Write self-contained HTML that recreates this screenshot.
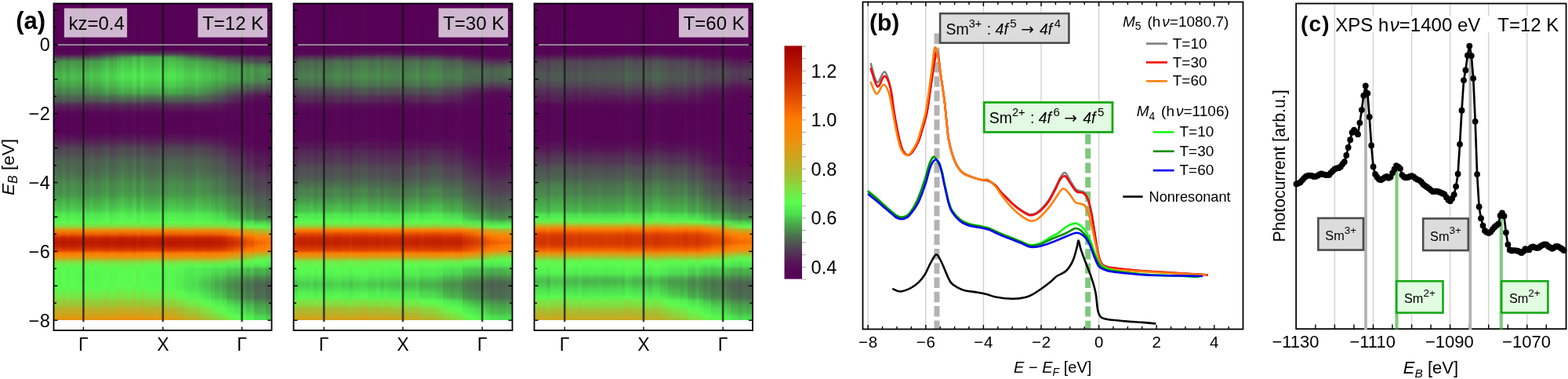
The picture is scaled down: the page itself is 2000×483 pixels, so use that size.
<!DOCTYPE html><html><head><meta charset="utf-8"><style>
html,body{margin:0;padding:0;background:#fff}body{width:2000px;height:483px;position:relative;overflow:hidden}
#hm div{position:absolute}
svg{position:absolute;left:0;top:0}
</style></head><body>
<div id="hm">
<div style="left:68.5px;top:4.5px;width:5.6px;height:403.9px;background:linear-gradient(#560156 0px,#560156 44px,#560256 48px,#560256 58px,#560856 64px,#523f55 68px,#498e4c 74px,#49954b 78px,#48a14a 84px,#49ae4b 88px,#4ab64c 94px,#49a94b 98px,#489c4b 104px,#4a8b4c 108px,#4b7b4e 114px,#4d6550 118px,#4f5452 124px,#542b56 128px,#551956 134px,#560956 138px,#560656 144px,#560456 148px,#560556 154px,#560556 158px,#560656 164px,#560f56 168px,#551c56 174px,#542b56 178px,#514254 184px,#504954 188px,#4f5153 194px,#4e5c51 198px,#4d6550 204px,#4c6750 208px,#4c6b50 214px,#4b744f 218px,#4b7d4e 224px,#4a864d 228px,#4a8c4c 234px,#498e4c 238px,#49974b 244px,#48a74a 248px,#4ab64c 254px,#4bbe4d 258px,#4cd24e 264px,#51e850 268px,#54f050 274px,#58f850 278px,#88d93e 284px,#e8930f 288px,#ec5900 294px,#c62600 298px,#bb1a00 304px,#c01f00 308px,#da3f00 314px,#ff7d00 318px,#db9d16 324px,#8ad73d 328px,#61f84d 334px,#59fb50 338px,#58f850 344px,#58f950 348px,#59fa50 354px,#59fb50 358px,#5efa4e 364px,#6eed48 368px,#78e644 374px,#91d03a 378px,#9dc635 384px,#b9b228 388px,#c8a920 394px,#da9e17 398px,#ee8f0c 404px)"></div>
<div style="left:73.5px;top:4.5px;width:5.6px;height:403.9px;background:linear-gradient(#560056 0px,#560056 28px,#560156 34px,#560156 58px,#560856 64px,#523d55 68px,#4a8c4c 74px,#49934c 78px,#489e4a 84px,#49ab4b 88px,#4ab24c 94px,#48a64a 98px,#499a4b 104px,#4a894d 108px,#4b784e 114px,#4d6251 118px,#4f5153 124px,#542856 128px,#551756 134px,#560856 138px,#560556 144px,#560356 148px,#560456 154px,#560456 158px,#560556 164px,#560d56 168px,#551a56 174px,#542856 178px,#524055 184px,#514654 188px,#504e53 194px,#4e5a52 198px,#4d6251 204px,#4d6451 208px,#4c6850 214px,#4c704f 218px,#4b7a4e 224px,#4a824d 228px,#4a884d 234px,#4a8a4c 238px,#49944c 244px,#48a34a 248px,#4ab24c 254px,#4aba4c 258px,#4cce4e 264px,#50e650 268px,#53ee50 274px,#57f750 278px,#86db3e 284px,#e79410 288px,#ec5a00 294px,#c72700 298px,#bc1b00 304px,#c12000 308px,#db4100 314px,#fe7e00 318px,#da9e17 324px,#88d93e 328px,#5ff94e 334px,#58f950 338px,#57f650 344px,#57f750 348px,#58f850 354px,#58f950 358px,#5cfb4f 364px,#6cef49 368px,#76e845 374px,#8fd23a 378px,#9bc836 384px,#b7b328 388px,#c6aa21 394px,#d89f18 398px,#ed900d 404px)"></div>
<div style="left:78.5px;top:4.5px;width:5.6px;height:403.9px;background:linear-gradient(#560256 0px,#560256 24px,#560356 28px,#560356 58px,#560b56 64px,#514554 68px,#49984b 74px,#489e4a 78px,#49aa4b 84px,#4ab84c 88px,#4bbf4d 94px,#4ab34c 98px,#48a54a 104px,#49944b 108px,#4a834d 114px,#4c6b50 118px,#4e5952 124px,#532f55 128px,#551c56 134px,#560a56 138px,#560756 144px,#560556 148px,#560656 154px,#560656 158px,#560756 164px,#561356 168px,#552056 174px,#533055 178px,#514754 184px,#504e53 188px,#4f5652 194px,#4d6151 198px,#4c6a50 204px,#4c6d50 208px,#4b724f 214px,#4b7a4e 218px,#4a844d 224px,#498d4c 228px,#49934c 234px,#49954b 238px,#489e4a 244px,#49ae4b 248px,#4bbe4d 254px,#4bc54d 258px,#4dd94f 264px,#52ec50 268px,#56f450 274px,#5afc50 278px,#8bd63c 284px,#ea920e 288px,#ea5500 294px,#c42400 298px,#b91800 304px,#be1d00 308px,#d83c00 314px,#fd7a00 318px,#de9b15 324px,#8dd43b 328px,#65f44b 334px,#5cfb4f 338px,#59fc50 344px,#5afd50 348px,#5bfc50 354px,#5cfc4f 358px,#63f64d 364px,#73ea46 368px,#7ce342 374px,#95cd38 378px,#a1c333 384px,#bcb026 388px,#cba71f 394px,#dc9c16 398px,#f18d0b 404px)"></div>
<div style="left:83.5px;top:4.5px;width:5.6px;height:403.9px;background:linear-gradient(#560056 0px,#560056 48px,#560156 54px,#560156 58px,#560956 64px,#523e55 68px,#498e4c 74px,#49944c 78px,#489f4a 84px,#49ac4b 88px,#4ab34c 94px,#48a74a 98px,#499a4b 104px,#4a894d 108px,#4b794e 114px,#4d6251 118px,#505053 124px,#542756 128px,#551656 134px,#560856 138px,#560556 144px,#560356 148px,#560356 154px,#560456 158px,#560556 164px,#560c56 168px,#551956 174px,#542756 178px,#523e55 184px,#514554 188px,#504d53 194px,#4e5852 198px,#4d6151 204px,#4d6351 208px,#4c6750 214px,#4c6e4f 218px,#4b784e 224px,#4a814d 228px,#4a874d 234px,#4a894d 238px,#49924c 244px,#48a14a 248px,#49b14b 254px,#4ab84c 258px,#4ccc4e 264px,#50e550 268px,#53ed50 274px,#57f650 278px,#85db3f 284px,#e69510 288px,#ed5b00 294px,#c82800 298px,#bc1b00 304px,#c12000 308px,#dc4100 314px,#fe7e01 318px,#d99e17 324px,#87da3e 328px,#5efa4f 334px,#58f950 338px,#57f550 344px,#57f650 348px,#58f850 354px,#58f850 358px,#5bfc50 364px,#6bf049 368px,#75e845 374px,#8ed33b 378px,#9ac936 384px,#b6b429 388px,#c5ab21 394px,#d89f18 398px,#ec900d 404px)"></div>
<div style="left:88.5px;top:4.5px;width:5.6px;height:403.9px;background:linear-gradient(#560156 0px,#560256 4px,#560256 48px,#560356 54px,#560356 58px,#560c56 64px,#514754 68px,#49994b 74px,#489f4a 78px,#49ab4b 84px,#4ab84c 88px,#4bbf4d 94px,#4ab34c 98px,#48a64a 104px,#49944b 108px,#4a834d 114px,#4c6a50 118px,#4f5752 124px,#542e56 128px,#551b56 134px,#560a56 138px,#560756 144px,#560556 148px,#560556 154px,#560656 158px,#560756 164px,#561156 168px,#551f56 174px,#532e55 178px,#514654 184px,#504c53 188px,#4f5452 194px,#4d6051 198px,#4c6850 204px,#4c6a50 208px,#4c6f4f 214px,#4b784e 218px,#4a824d 224px,#4a8a4c 228px,#49904c 234px,#49924c 238px,#489c4b 244px,#49ab4b 248px,#4abb4c 254px,#4bc34d 258px,#4dd74f 264px,#52ea50 268px,#55f250 274px,#59fb50 278px,#8ad73d 284px,#e9920f 288px,#ea5700 294px,#c52500 298px,#ba1800 304px,#be1d00 308px,#d93d00 314px,#fe7b00 318px,#dd9c15 324px,#8cd53c 328px,#64f54c 334px,#5bfc50 338px,#59fa50 344px,#59fb50 348px,#5afd50 354px,#5afd50 358px,#61f74d 364px,#71eb47 368px,#7be443 374px,#94ce39 378px,#9fc434 384px,#bbb127 388px,#caa81f 394px,#db9d16 398px,#f08e0b 404px)"></div>
<div style="left:93.5px;top:4.5px;width:5.6px;height:403.9px;background:linear-gradient(#560156 0px,#560156 34px,#560256 38px,#560256 58px,#560c56 64px,#514654 68px,#49984b 74px,#489d4b 78px,#49a94b 84px,#4ab64c 88px,#4bbd4d 94px,#49b14b 98px,#48a34a 104px,#49924c 108px,#4a814d 114px,#4c6750 118px,#4f5452 124px,#542b56 128px,#551956 134px,#560956 138px,#560656 144px,#560456 148px,#560556 154px,#560556 158px,#560656 164px,#560f56 168px,#551d56 174px,#542c56 178px,#514354 184px,#504a54 188px,#4f5253 194px,#4e5d51 198px,#4c6550 204px,#4c6750 208px,#4c6c50 214px,#4b744f 218px,#4b7e4e 224px,#4a874d 228px,#498d4c 234px,#498f4c 238px,#49984b 244px,#49a84b 248px,#4ab74c 254px,#4bbf4d 258px,#4dd34f 264px,#51e950 268px,#55f150 274px,#58f950 278px,#88d83d 284px,#e8930f 288px,#eb5800 294px,#c62600 298px,#bb1900 304px,#bf1e00 308px,#da3f00 314px,#ff7c00 318px,#db9d16 324px,#8ad73d 328px,#62f74d 334px,#59fc50 338px,#58f950 344px,#58f950 348px,#59fb50 354px,#59fc50 358px,#5ff94e 364px,#6fed48 368px,#78e544 374px,#92d039 378px,#9dc635 384px,#b9b227 388px,#c8a920 394px,#da9d17 398px,#ef8f0c 404px)"></div>
<div style="left:98.5px;top:4.5px;width:5.6px;height:403.9px;background:linear-gradient(#560056 0px,#560056 58px,#560c56 64px,#514454 68px,#49934c 74px,#49984b 78px,#48a44a 84px,#49b14b 88px,#4ab84c 94px,#49ab4b 98px,#489e4a 104px,#498d4c 108px,#4b7d4e 114px,#4d6351 118px,#505053 124px,#542756 128px,#551656 134px,#560856 138px,#560556 144px,#560356 148px,#560356 154px,#560456 158px,#560556 164px,#560c56 168px,#551956 174px,#542756 178px,#523e55 184px,#514554 188px,#504d53 194px,#4e5852 198px,#4d6151 204px,#4d6351 208px,#4c6650 214px,#4c6e4f 218px,#4b784e 224px,#4a814e 228px,#4a864d 234px,#4a894d 238px,#49924c 244px,#48a14a 248px,#49b04b 254px,#4ab84c 258px,#4ccc4e 264px,#4fe550 268px,#53ed50 274px,#57f650 278px,#85dc3f 284px,#e69511 288px,#ed5b00 294px,#c82800 298px,#bd1b00 304px,#c12000 308px,#dc4100 314px,#fe7e01 318px,#d99e17 324px,#87da3e 328px,#5efa4f 334px,#58f850 338px,#57f550 344px,#57f650 348px,#57f750 354px,#58f850 358px,#5bfc50 364px,#6bf049 368px,#74e945 374px,#8ed33b 378px,#9ac936 384px,#b6b429 388px,#c5ab21 394px,#d89f18 398px,#ec900d 404px)"></div>
<div style="left:103.5px;top:4.5px;width:5.6px;height:403.9px;background:linear-gradient(#560156 0px,#560156 8px,#560256 14px,#560256 58px,#561356 64px,#504e53 68px,#489e4a 74px,#48a44a 78px,#49b04b 84px,#4bbd4d 88px,#4bc44d 94px,#4ab84c 98px,#49aa4b 104px,#49984b 108px,#4a884d 114px,#4c6c50 118px,#4f5752 124px,#542d56 128px,#551b56 134px,#560a56 138px,#560756 144px,#560556 148px,#560556 154px,#560656 158px,#560756 164px,#561156 168px,#551e56 174px,#542e56 178px,#514554 184px,#504c53 188px,#4f5452 194px,#4d5f51 198px,#4c6850 204px,#4c6a50 208px,#4c6f4f 214px,#4b774e 218px,#4a814d 224px,#4a8a4d 228px,#49904c 234px,#49924c 238px,#489b4b 244px,#49ab4b 248px,#4abb4c 254px,#4bc24d 258px,#4dd64f 264px,#52ea50 268px,#55f250 274px,#59fa50 278px,#8ad73d 284px,#e9920f 288px,#eb5700 294px,#c52500 298px,#ba1900 304px,#bf1e00 308px,#d93e00 314px,#fe7b00 318px,#dc9c16 324px,#8cd53c 328px,#63f64c 334px,#5afd50 338px,#59fa50 344px,#59fb50 348px,#5afc50 354px,#5afd50 358px,#61f84d 364px,#71eb47 368px,#7ae443 374px,#93ce39 378px,#9fc434 384px,#bbb127 388px,#caa81f 394px,#db9d16 398px,#f08e0b 404px)"></div>
<div style="left:108.5px;top:4.5px;width:5.6px;height:403.9px;background:linear-gradient(#560056 0px,#560056 58px,#561156 64px,#504a54 68px,#49974b 74px,#489c4b 78px,#49a84b 84px,#4ab54c 88px,#4abb4c 94px,#49af4b 98px,#48a24a 104px,#49914c 108px,#4a804e 114px,#4d6451 118px,#504f53 124px,#542756 128px,#551656 134px,#560856 138px,#560556 144px,#560356 148px,#560356 154px,#560456 158px,#560456 164px,#560c56 168px,#551956 174px,#542756 178px,#523e55 184px,#514554 188px,#504d53 194px,#4e5852 198px,#4d6051 204px,#4d6251 208px,#4c6650 214px,#4c6e50 218px,#4b774e 224px,#4a804e 228px,#4a864d 234px,#4a884d 238px,#49914c 244px,#48a04a 248px,#49b04b 254px,#4ab74c 258px,#4ccb4e 264px,#4fe550 268px,#53ed50 274px,#57f550 278px,#84dc3f 284px,#e69511 288px,#ed5b00 294px,#c82800 298px,#bd1b00 304px,#c12100 308px,#dc4200 314px,#fe7e01 318px,#d99e17 324px,#86da3e 328px,#5dfa4f 334px,#58f850 338px,#56f550 344px,#57f650 348px,#57f750 354px,#58f850 358px,#5bfc50 364px,#6bf049 368px,#74e946 374px,#8ed33b 378px,#9ac936 384px,#b6b429 388px,#c5ab22 394px,#d89f18 398px,#ec900d 404px)"></div>
<div style="left:113.5px;top:4.5px;width:5.6px;height:403.9px;background:linear-gradient(#560156 0px,#560156 18px,#560256 24px,#560256 58px,#551956 64px,#4f5452 68px,#48a14a 74px,#48a74a 78px,#4ab44c 84px,#4bc04d 88px,#4bc74d 94px,#4abb4c 98px,#49ad4b 104px,#489b4b 108px,#4a8a4d 114px,#4c6c50 118px,#4f5552 124px,#542c56 128px,#551a56 134px,#560956 138px,#560656 144px,#560556 148px,#560556 154px,#560656 158px,#560656 164px,#561056 168px,#551d56 174px,#542d56 178px,#514454 184px,#504b54 188px,#4f5353 194px,#4e5e51 198px,#4c6650 204px,#4c6850 208px,#4c6d50 214px,#4b764f 218px,#4a7f4e 224px,#4a884d 228px,#498e4c 234px,#49904c 238px,#49994b 244px,#49a94b 248px,#4ab94c 254px,#4bc04d 258px,#4dd44f 264px,#51e950 268px,#55f150 274px,#58fa50 278px,#89d83d 284px,#e9930f 288px,#eb5800 294px,#c62500 298px,#ba1900 304px,#bf1e00 308px,#d93e00 314px,#fe7c00 318px,#dc9c16 324px,#8bd63c 328px,#62f64d 334px,#5afd50 338px,#58f950 344px,#59fa50 348px,#59fb50 354px,#5afc50 358px,#60f84e 364px,#70ec47 368px,#79e543 374px,#93cf39 378px,#9ec534 384px,#bab127 388px,#c9a920 394px,#db9d16 398px,#ef8e0c 404px)"></div>
<div style="left:118.5px;top:4.5px;width:5.6px;height:403.9px;background:linear-gradient(#560056 0px,#560056 48px,#560156 54px,#560156 58px,#551956 64px,#4f5353 68px,#489c4b 74px,#48a24a 78px,#49ae4b 84px,#4aba4c 88px,#4bc14d 94px,#4ab54c 98px,#48a74a 104px,#49964b 108px,#4a854d 114px,#4c6650 118px,#505053 124px,#542756 128px,#551656 134px,#560856 138px,#560556 144px,#560356 148px,#560356 154px,#560456 158px,#560556 164px,#560c56 168px,#551956 174px,#542756 178px,#523e55 184px,#514554 188px,#504d53 194px,#4e5852 198px,#4d6151 204px,#4d6351 208px,#4c6750 214px,#4c6e4f 218px,#4b784e 224px,#4a814d 228px,#4a874d 234px,#4a894d 238px,#49924c 244px,#48a14a 248px,#49b04b 254px,#4ab84c 258px,#4ccc4e 264px,#50e550 268px,#53ed50 274px,#57f650 278px,#85db3f 284px,#e69510 288px,#ed5b00 294px,#c82800 298px,#bc1b00 304px,#c12000 308px,#dc4100 314px,#fe7e01 318px,#d99e17 324px,#87da3e 328px,#5efa4f 334px,#58f950 338px,#57f550 344px,#57f650 348px,#58f750 354px,#58f850 358px,#5bfc50 364px,#6bf049 368px,#75e845 374px,#8ed33b 378px,#9ac936 384px,#b6b429 388px,#c5ab21 394px,#d89f18 398px,#ec900d 404px)"></div>
<div style="left:123.5px;top:4.5px;width:5.6px;height:403.9px;background:linear-gradient(#560056 0px,#560056 44px,#560156 48px,#560156 58px,#551d56 64px,#4e5952 68px,#489f4a 74px,#48a54a 78px,#49b24b 84px,#4bbe4d 88px,#4bc44d 94px,#4ab84c 98px,#49aa4b 104px,#49984b 108px,#4a884d 114px,#4c6850 118px,#4f5053 124px,#542756 128px,#551656 134px,#560856 138px,#560556 144px,#560356 148px,#560456 154px,#560456 158px,#560556 164px,#560c56 168px,#551a56 174px,#542856 178px,#523f55 184px,#514654 188px,#504d53 194px,#4e5952 198px,#4d6151 204px,#4d6351 208px,#4c6750 214px,#4c6f4f 218px,#4b784e 224px,#4a814d 228px,#4a874d 234px,#4a894d 238px,#49924c 244px,#48a14a 248px,#49b14b 254px,#4ab94c 258px,#4ccc4e 264px,#50e650 268px,#53ee50 274px,#57f650 278px,#85db3f 284px,#e69510 288px,#ed5b00 294px,#c82700 298px,#bc1b00 304px,#c12000 308px,#dc4100 314px,#fe7e01 318px,#d99e17 324px,#87da3e 328px,#5efa4e 334px,#58f950 338px,#57f650 344px,#57f650 348px,#58f850 354px,#58f950 358px,#5bfc4f 364px,#6bf049 368px,#75e845 374px,#8fd33b 378px,#9ac836 384px,#b6b329 388px,#c5ab21 394px,#d89f18 398px,#ec900d 404px)"></div>
<div style="left:128.5px;top:4.5px;width:5.6px;height:403.9px;background:linear-gradient(#560156 0px,#560156 24px,#560256 28px,#560256 58px,#542756 64px,#4d6451 68px,#49a94b 74px,#49b04b 78px,#4abc4c 84px,#4cc84e 88px,#4ccf4e 94px,#4bc24d 98px,#4ab54c 104px,#48a24a 108px,#49914c 114px,#4c6f4f 118px,#4f5552 124px,#542c56 128px,#551a56 134px,#560956 138px,#560656 144px,#560556 148px,#560556 158px,#560656 164px,#561056 168px,#551d56 174px,#542c56 178px,#514454 184px,#504b54 188px,#4f5353 194px,#4e5e51 198px,#4c6650 204px,#4c6850 208px,#4c6d50 214px,#4b764f 218px,#4a7f4e 224px,#4a884d 228px,#498e4c 234px,#49904c 238px,#49994b 244px,#49a94b 248px,#4ab94c 254px,#4bc04d 258px,#4dd44f 264px,#51e950 268px,#55f150 274px,#58f950 278px,#89d83d 284px,#e9930f 288px,#eb5800 294px,#c62500 298px,#ba1900 304px,#bf1e00 308px,#d93e00 314px,#fe7c00 318px,#dc9c16 324px,#8bd63c 328px,#62f74d 334px,#5afc50 338px,#58f950 344px,#59fa50 348px,#59fb50 354px,#5afc50 358px,#60f94e 364px,#70ec47 368px,#79e544 374px,#92cf39 378px,#9ec534 384px,#bab227 388px,#c9a920 394px,#db9d16 398px,#ef8e0c 404px)"></div>
<div style="left:133.5px;top:4.5px;width:5.6px;height:403.9px;background:linear-gradient(#560356 0px,#560356 34px,#560456 38px,#560456 58px,#533155 64px,#4b734f 68px,#4ab54c 74px,#4abc4c 78px,#4cc94e 84px,#4dd44f 88px,#4ddb4f 94px,#4cce4e 98px,#4bc14d 104px,#49ae4b 108px,#489c4b 114px,#4b784e 118px,#4e5c52 124px,#533255 128px,#551e56 134px,#560b56 138px,#560856 144px,#560656 148px,#560756 154px,#560756 158px,#560856 164px,#561456 168px,#552356 174px,#533255 178px,#504a54 184px,#4f5153 188px,#4e5952 194px,#4d6451 198px,#4c6e50 204px,#4b704f 208px,#4b754f 214px,#4b7e4e 218px,#4a884d 224px,#49904c 228px,#49964b 234px,#49984b 238px,#48a24a 244px,#4ab24c 248px,#4bc24d 254px,#4cc94e 258px,#4edd50 264px,#53ee50 268px,#57f650 274px,#5bfc50 278px,#8dd43b 284px,#ec910d 288px,#e95400 294px,#c32300 298px,#b81700 304px,#bd1c00 308px,#d73b00 314px,#fc7800 318px,#df9a14 324px,#8fd23a 328px,#68f24b 334px,#5ff94e 338px,#5bfc50 344px,#5cfc4f 348px,#5dfb4f 354px,#5efa4e 358px,#65f44c 364px,#75e845 368px,#7ee141 374px,#97cb37 378px,#a3c132 384px,#beaf25 388px,#cda61e 394px,#de9b15 398px,#f28c0a 404px)"></div>
<div style="left:138.5px;top:4.5px;width:5.6px;height:403.9px;background:linear-gradient(#560056 0px,#560056 34px,#560156 38px,#560156 58px,#542b56 64px,#4c6d50 68px,#49a84b 74px,#49af4b 78px,#4abc4c 84px,#4bc74d 88px,#4ccd4e 94px,#4bc14d 98px,#4ab34c 104px,#48a14a 108px,#49904c 114px,#4c6b50 118px,#4f5153 124px,#542856 128px,#551656 134px,#560856 138px,#560556 144px,#560356 148px,#560456 154px,#560456 158px,#560556 164px,#560d56 168px,#551a56 174px,#542856 178px,#523f55 184px,#514654 188px,#504e53 194px,#4e5952 198px,#4d6251 204px,#4d6451 208px,#4c6850 214px,#4c6f4f 218px,#4b794e 224px,#4a824d 228px,#4a884d 234px,#4a8a4d 238px,#49934c 244px,#48a24a 248px,#49b24b 254px,#4ab94c 258px,#4ccd4e 264px,#50e650 268px,#53ee50 274px,#57f650 278px,#85db3f 284px,#e69510 288px,#ed5b00 294px,#c82700 298px,#bc1b00 304px,#c12000 308px,#db4100 314px,#fe7e00 318px,#d99e17 324px,#87d93e 328px,#5efa4e 334px,#58f950 338px,#57f650 344px,#57f750 348px,#58f850 354px,#58f950 358px,#5cfc4f 364px,#6cef49 368px,#75e845 374px,#8fd23b 378px,#9ac836 384px,#b7b329 388px,#c6aa21 394px,#d89f18 398px,#ed900d 404px)"></div>
<div style="left:143.5px;top:4.5px;width:5.6px;height:403.9px;background:linear-gradient(#560056 0px,#560056 14px,#560156 18px,#560156 58px,#533155 64px,#4b784e 68px,#49ad4b 74px,#4ab54c 78px,#4bc14d 84px,#4ccc4e 88px,#4dd24f 94px,#4bc64d 98px,#4ab84c 104px,#48a54a 108px,#49944b 114px,#4c6e4f 118px,#4f5253 124px,#542956 128px,#551856 134px,#560856 138px,#560556 144px,#560456 148px,#560456 154px,#560556 158px,#560556 164px,#560e56 168px,#551b56 174px,#542a56 178px,#524155 184px,#514854 188px,#504f53 194px,#4e5b52 198px,#4d6351 204px,#4d6550 208px,#4c6950 214px,#4b714f 218px,#4b7b4e 224px,#4a844d 228px,#4a8a4d 234px,#4a8c4c 238px,#49954b 244px,#48a44a 248px,#4ab44c 254px,#4abc4c 258px,#4cd04e 264px,#50e750 268px,#54ef50 274px,#57f750 278px,#87da3e 284px,#e79410 288px,#ec5a00 294px,#c72700 298px,#bc1a00 304px,#c01f00 308px,#db4000 314px,#ff7d00 318px,#da9d17 324px,#88d83d 328px,#60f94e 334px,#59fa50 338px,#57f750 344px,#58f850 348px,#58f950 354px,#59fa50 358px,#5dfb4f 364px,#6dee48 368px,#77e745 374px,#90d13a 378px,#9cc735 384px,#b8b328 388px,#c7aa21 394px,#d99e17 398px,#ed8f0c 404px)"></div>
<div style="left:148.5px;top:4.5px;width:5.6px;height:403.9px;background:linear-gradient(#560256 0px,#560256 28px,#560356 34px,#560356 58px,#523a55 64px,#4a894d 68px,#4ab94c 74px,#4bc14d 78px,#4ccd4e 84px,#4dd84f 88px,#4ede50 94px,#4cd24e 98px,#4bc44d 104px,#49b14b 108px,#489f4a 114px,#4b784e 118px,#4e5852 124px,#532f55 128px,#551c56 134px,#560a56 138px,#560756 144px,#560556 148px,#560656 154px,#560656 158px,#560756 164px,#561256 168px,#552056 174px,#532f55 178px,#514754 184px,#504e53 188px,#4f5652 194px,#4d6151 198px,#4c6a50 204px,#4c6c50 208px,#4b714f 214px,#4b7a4e 218px,#4a834d 224px,#4a8c4c 228px,#49924c 234px,#49944b 238px,#489d4a 244px,#49ae4b 248px,#4bbd4d 254px,#4bc54d 258px,#4dd94f 264px,#52eb50 268px,#56f350 274px,#59fc50 278px,#8bd63c 284px,#ea920e 288px,#ea5600 294px,#c52400 298px,#b91800 304px,#be1d00 308px,#d83d00 314px,#fd7a00 318px,#dd9b15 324px,#8dd43b 328px,#65f44c 334px,#5cfb4f 338px,#59fb50 344px,#5afc50 348px,#5bfd50 354px,#5cfc4f 358px,#62f64d 364px,#72ea46 368px,#7ce342 374px,#95cd38 378px,#a0c333 384px,#bcb026 388px,#cba71f 394px,#dc9c16 398px,#f18d0b 404px)"></div>
<div style="left:153.5px;top:4.5px;width:5.6px;height:403.9px;background:linear-gradient(#560356 0px,#560356 8px,#560456 14px,#560456 54px,#560556 58px,#524155 64px,#49984b 68px,#4bc34d 74px,#4ccc4e 78px,#4dd74f 84px,#4ee250 88px,#4fe550 94px,#4ddc4f 98px,#4cce4e 104px,#4abb4c 108px,#49a84b 114px,#4a804e 118px,#4e5d51 124px,#533455 128px,#552056 134px,#560c56 138px,#560956 144px,#560756 148px,#560756 154px,#560856 158px,#560856 164px,#551656 168px,#542556 174px,#533455 178px,#504c53 184px,#4f5353 188px,#4e5b52 194px,#4c6650 198px,#4b704f 204px,#4b734f 208px,#4b784e 214px,#4a804e 218px,#4a8a4d 224px,#49934c 228px,#49994b 234px,#499b4b 238px,#48a44a 244px,#4ab54c 248px,#4bc54d 254px,#4ccc4e 258px,#4ee050 264px,#54ef50 268px,#57f750 274px,#5dfb4f 278px,#8fd33b 284px,#ed900d 288px,#e85300 294px,#c32200 298px,#b71600 304px,#bc1b00 308px,#d63a00 314px,#fc7700 318px,#e09914 324px,#91d13a 328px,#69f14a 334px,#60f84e 338px,#5cfb4f 344px,#5dfa4f 348px,#5ff94e 354px,#60f94e 358px,#67f34b 364px,#76e745 368px,#80e041 374px,#98ca37 378px,#a4c032 384px,#bfae25 388px,#cea61d 394px,#df9a14 398px,#f28b0a 404px)"></div>
<div style="left:158.5px;top:4.5px;width:5.6px;height:403.9px;background:linear-gradient(#560256 0px,#560256 34px,#560356 38px,#560356 54px,#560456 58px,#523d55 64px,#49984b 68px,#4bbd4d 74px,#4bc64d 78px,#4cd24e 84px,#4ddc4f 88px,#4ee250 94px,#4dd64f 98px,#4cc84e 104px,#4ab54c 108px,#48a24a 114px,#4b794e 118px,#4e5852 124px,#532e55 128px,#551b56 134px,#560a56 138px,#560756 144px,#560556 148px,#560656 154px,#560656 158px,#560756 164px,#561256 168px,#551f56 174px,#532f55 178px,#514654 184px,#504d53 188px,#4f5552 194px,#4d6051 198px,#4c6950 204px,#4c6b50 208px,#4b704f 214px,#4b794e 218px,#4a824d 224px,#4a8b4c 228px,#49914c 234px,#49934c 238px,#489c4b 244px,#49ac4b 248px,#4abc4c 254px,#4bc44d 258px,#4dd84f 264px,#52eb50 268px,#56f350 274px,#59fb50 278px,#8bd63c 284px,#ea920e 288px,#ea5600 294px,#c52400 298px,#ba1800 304px,#be1d00 308px,#d83d00 314px,#fe7a00 318px,#dd9b15 324px,#8dd53c 328px,#64f54c 334px,#5bfc4f 338px,#59fb50 344px,#59fc50 348px,#5afd50 354px,#5bfc50 358px,#62f74d 364px,#72eb47 368px,#7be343 374px,#94ce38 378px,#a0c334 384px,#bbb126 388px,#caa81f 394px,#dc9c16 398px,#f08d0b 404px)"></div>
<div style="left:163.5px;top:4.5px;width:5.6px;height:403.9px;background:linear-gradient(#560156 0px,#560156 24px,#560256 28px,#560256 54px,#560356 58px,#523c55 64px,#489b4b 68px,#4abb4c 74px,#4bc44d 78px,#4cd04e 84px,#4ddb4f 88px,#4ee050 94px,#4dd44f 98px,#4bc64d 104px,#4ab34c 108px,#48a04a 114px,#4b764f 118px,#4f5552 124px,#542c56 128px,#551956 134px,#560956 138px,#560656 144px,#560456 148px,#560556 154px,#560556 158px,#560656 164px,#561056 168px,#551d56 174px,#542c56 178px,#514354 184px,#504a54 188px,#4f5253 194px,#4e5d51 198px,#4c6650 204px,#4c6850 208px,#4c6d50 214px,#4b754f 218px,#4a7f4e 224px,#4a874d 228px,#498d4c 234px,#498f4c 238px,#49994b 244px,#49a84b 248px,#4ab84c 254px,#4bc04d 258px,#4dd44f 264px,#51e950 268px,#55f150 274px,#58f950 278px,#89d83d 284px,#e8930f 288px,#eb5800 294px,#c62600 298px,#bb1900 304px,#bf1e00 308px,#da3e00 314px,#ff7c00 318px,#dc9c16 324px,#8ad63c 328px,#62f74d 334px,#5afc50 338px,#58f950 344px,#59fa50 348px,#59fb50 354px,#59fc50 358px,#5ff94e 364px,#6fed47 368px,#79e544 374px,#92d039 378px,#9ec534 384px,#b9b227 388px,#c8a920 394px,#da9d17 398px,#ef8e0c 404px)"></div>
<div style="left:168.5px;top:4.5px;width:5.6px;height:403.9px;background:linear-gradient(#560356 0px,#560356 4px,#560456 8px,#560456 54px,#560656 58px,#514554 64px,#49ae4b 68px,#4ccb4e 74px,#4dd34f 78px,#4edf50 84px,#50e650 88px,#51e850 94px,#4ee250 98px,#4dd54f 104px,#4bc24d 108px,#49b04b 114px,#4a834d 118px,#4e5e51 124px,#533455 128px,#552056 134px,#560c56 138px,#560956 144px,#560756 148px,#560756 154px,#560856 158px,#560956 164px,#551656 168px,#542556 174px,#533455 178px,#504c53 184px,#4f5353 188px,#4e5b52 194px,#4c6650 198px,#4b714f 204px,#4b734f 208px,#4b794e 214px,#4a814d 218px,#4a8b4c 224px,#49934c 228px,#49994b 234px,#489b4b 238px,#48a54a 244px,#4ab64c 248px,#4bc54d 254px,#4ccd4e 258px,#4ee150 264px,#54ef50 268px,#57f750 274px,#5dfb4f 278px,#8fd23a 284px,#ed900d 288px,#e85200 294px,#c32200 298px,#b71600 304px,#bc1b00 308px,#d63a00 314px,#fc7600 318px,#e09914 324px,#91d13a 328px,#6af14a 334px,#61f84d 338px,#5dfb4f 344px,#5efa4f 348px,#5ff94e 354px,#60f84e 358px,#67f34b 364px,#77e744 368px,#80df41 374px,#99ca36 378px,#a4bf32 384px,#bfae24 388px,#cea51d 394px,#df9a14 398px,#f38b0a 404px)"></div>
<div style="left:173.5px;top:4.5px;width:5.6px;height:403.9px;background:linear-gradient(#560056 0px,#560056 54px,#560356 58px,#533755 64px,#489f4a 68px,#4ab74c 74px,#4bc04d 78px,#4ccb4e 84px,#4dd64f 88px,#4ddb4f 94px,#4ccf4e 98px,#4bc24d 104px,#49af4b 108px,#489c4b 114px,#4b704f 118px,#505053 124px,#542756 128px,#551656 134px,#560856 138px,#560556 144px,#560356 148px,#560356 154px,#560456 158px,#560556 164px,#560c56 168px,#551956 174px,#542756 178px,#523e55 184px,#514554 188px,#504d53 194px,#4e5852 198px,#4d6151 204px,#4d6251 208px,#4c6650 214px,#4c6e4f 218px,#4b774e 224px,#4a804e 228px,#4a864d 234px,#4a884d 238px,#49924c 244px,#48a04a 248px,#49b04b 254px,#4ab84c 258px,#4ccb4e 264px,#4fe550 268px,#53ed50 274px,#57f550 278px,#85dc3f 284px,#e69511 288px,#ed5b00 294px,#c82800 298px,#bd1b00 304px,#c12000 308px,#dc4100 314px,#fe7e01 318px,#d99e17 324px,#86da3e 328px,#5dfa4f 334px,#58f850 338px,#57f550 344px,#57f650 348px,#57f750 354px,#58f850 358px,#5bfc50 364px,#6bf049 368px,#74e945 374px,#8ed33b 378px,#9ac936 384px,#b6b429 388px,#c5ab21 394px,#d89f18 398px,#ec900d 404px)"></div>
<div style="left:178.5px;top:4.5px;width:5.6px;height:403.9px;background:linear-gradient(#560356 0px,#560356 24px,#560456 28px,#560456 54px,#560756 58px,#514454 64px,#4ab54c 68px,#4ccb4e 74px,#4dd44f 78px,#4ee050 84px,#50e650 88px,#51e850 94px,#4ee250 98px,#4dd64f 104px,#4bc24d 108px,#49b04b 114px,#4a824d 118px,#4e5c52 124px,#533255 128px,#551e56 134px,#560b56 138px,#560856 144px,#560656 148px,#560756 154px,#560756 158px,#560856 164px,#561556 168px,#552356 174px,#533355 178px,#504b54 184px,#4f5153 188px,#4e5952 194px,#4d6551 198px,#4c6e4f 204px,#4b714f 208px,#4b764f 214px,#4a7f4e 218px,#4a884d 224px,#49914c 228px,#49974b 234px,#49994b 238px,#48a24a 244px,#4ab34c 248px,#4bc34d 254px,#4cca4e 258px,#4ede50 264px,#53ee50 268px,#57f650 274px,#5bfc4f 278px,#8ed33b 284px,#ec900d 288px,#e95300 294px,#c32300 298px,#b81600 304px,#bd1b00 308px,#d73b00 314px,#fc7800 318px,#df9a14 324px,#90d23a 328px,#68f24a 334px,#5ff94e 338px,#5bfc50 344px,#5cfb4f 348px,#5efa4f 354px,#5ff94e 358px,#65f44b 364px,#75e845 368px,#7fe041 374px,#97cb37 378px,#a3c132 384px,#beaf25 388px,#cda61d 394px,#de9b15 398px,#f28c0a 404px)"></div>
<div style="left:183.5px;top:4.5px;width:5.6px;height:403.9px;background:linear-gradient(#560056 0px,#560056 4px,#560156 8px,#560156 54px,#560556 58px,#523b55 64px,#49aa4b 68px,#4bbf4d 74px,#4cc84e 78px,#4dd34f 84px,#4ede50 88px,#4ee250 94px,#4dd74f 98px,#4cc94e 104px,#4ab64c 108px,#48a34a 114px,#4b764f 118px,#4f5353 124px,#542a56 128px,#551856 134px,#560956 138px,#560656 144px,#560456 148px,#560456 154px,#560556 158px,#560656 164px,#560f56 168px,#551c56 174px,#542a56 178px,#514255 184px,#514954 188px,#4f5153 194px,#4e5c52 198px,#4d6451 204px,#4c6650 208px,#4c6a50 214px,#4b734f 218px,#4b7c4e 224px,#4a854d 228px,#4a8b4c 234px,#498d4c 238px,#49974b 244px,#48a64a 248px,#4ab64c 254px,#4bbd4d 258px,#4cd14e 264px,#51e850 268px,#54f050 274px,#58f850 278px,#87d93e 284px,#e89410 288px,#ec5900 294px,#c72600 298px,#bb1a00 304px,#c01f00 308px,#da3f00 314px,#ff7d00 318px,#db9d16 324px,#89d83d 328px,#61f84d 334px,#59fb50 338px,#58f850 344px,#58f950 348px,#59fa50 354px,#59fb50 358px,#5efa4e 364px,#6eee48 368px,#77e644 374px,#91d13a 378px,#9cc735 384px,#b8b228 388px,#c7aa20 394px,#d99e17 398px,#ee8f0c 404px)"></div>
<div style="left:188.5px;top:4.5px;width:5.6px;height:403.9px;background:linear-gradient(#560056 0px,#560056 28px,#560156 34px,#560156 54px,#560456 58px,#523955 64px,#49a84b 68px,#4abc4c 74px,#4bc54d 78px,#4cd04e 84px,#4ddb4f 88px,#4ee050 94px,#4dd44f 98px,#4bc64d 104px,#4ab34c 108px,#48a14a 114px,#4b734f 118px,#4f5153 124px,#542856 128px,#551756 134px,#560856 138px,#560556 144px,#560356 148px,#560456 154px,#560456 158px,#560556 164px,#560d56 168px,#551a56 174px,#542856 178px,#524055 184px,#514654 188px,#504e53 194px,#4e5952 198px,#4d6251 204px,#4d6451 208px,#4c6850 214px,#4c704f 218px,#4b794e 224px,#4a824d 228px,#4a884d 234px,#4a8a4c 238px,#49944c 244px,#48a24a 248px,#4ab24c 254px,#4aba4c 258px,#4cce4e 264px,#50e650 268px,#53ee50 274px,#57f650 278px,#86db3e 284px,#e69410 288px,#ec5a00 294px,#c72700 298px,#bc1b00 304px,#c12000 308px,#db4100 314px,#fe7e00 318px,#da9e17 324px,#88d93e 328px,#5efa4e 334px,#58f950 338px,#57f650 344px,#57f750 348px,#58f850 354px,#58f950 358px,#5bfc4f 364px,#6bf049 368px,#75e845 374px,#8fd33b 378px,#9ac936 384px,#b6b429 388px,#c5ab21 394px,#d89f18 398px,#ec900d 404px)"></div>
<div style="left:193.5px;top:4.5px;width:5.6px;height:403.9px;background:linear-gradient(#560056 0px,#560056 34px,#560156 38px,#560156 54px,#560456 58px,#523955 64px,#49a84b 68px,#4abb4c 74px,#4bc44d 78px,#4cd04e 84px,#4dda4f 88px,#4edf50 94px,#4dd34f 98px,#4bc64d 104px,#4ab34c 108px,#48a04a 114px,#4b734f 118px,#4f5153 124px,#542856 128px,#551656 134px,#560856 138px,#560556 144px,#560356 148px,#560456 154px,#560456 158px,#560556 164px,#560d56 168px,#551a56 174px,#542856 178px,#523f55 184px,#514654 188px,#504e53 194px,#4e5952 198px,#4d6251 204px,#4d6451 208px,#4c6750 214px,#4c6f4f 218px,#4b794e 224px,#4a824d 228px,#4a884d 234px,#4a8a4d 238px,#49934c 244px,#48a24a 248px,#49b24b 254px,#4ab94c 258px,#4ccd4e 264px,#50e650 268px,#53ee50 274px,#57f650 278px,#85db3f 284px,#e69510 288px,#ed5b00 294px,#c82700 298px,#bc1b00 304px,#c12000 308px,#db4100 314px,#fe7e00 318px,#d99e17 324px,#87d93e 328px,#5efa4e 334px,#58f850 338px,#57f550 344px,#57f650 348px,#57f750 354px,#58f850 358px,#5afd50 364px,#6af14a 368px,#73e946 374px,#8dd43b 378px,#99ca36 384px,#b5b42a 388px,#c4ac22 394px,#d7a019 398px,#eb910e 404px)"></div>
<div style="left:198.5px;top:4.5px;width:5.6px;height:403.9px;background:linear-gradient(#560056 0px,#560156 4px,#560156 44px,#560256 48px,#560256 54px,#560556 58px,#523c55 64px,#49ab4b 68px,#4bbf4d 74px,#4cc84e 78px,#4dd44f 84px,#4ede50 88px,#4ee350 94px,#4dd74f 98px,#4cca4e 104px,#4ab74c 108px,#48a44a 114px,#4b774f 118px,#4f5452 124px,#542b56 128px,#551856 134px,#560956 138px,#560656 144px,#560456 148px,#560456 154px,#560556 158px,#560656 164px,#560f56 168px,#551c56 174px,#542b56 178px,#514255 184px,#504954 188px,#4f5153 194px,#4e5c52 198px,#4d6551 204px,#4c6750 208px,#4c6b50 214px,#4b734f 218px,#4b7d4e 224px,#4a864d 228px,#4a8c4c 234px,#498e4c 238px,#49974b 244px,#48a64a 248px,#4ab64c 254px,#4bbe4d 258px,#4cd24e 264px,#51e850 268px,#54f050 274px,#58f850 278px,#88d93e 284px,#e8940f 288px,#ec5900 294px,#c62600 298px,#bb1a00 304px,#c01f00 308px,#da3f00 314px,#ff7d00 318px,#db9d16 324px,#89d73d 328px,#60f84e 334px,#59fa50 338px,#57f750 344px,#57f750 348px,#58f850 354px,#58f950 358px,#5bfc4f 364px,#6bf049 368px,#74e945 374px,#8ed33b 378px,#9ac936 384px,#b5b429 388px,#c4ab22 394px,#d7a018 398px,#eb910e 404px)"></div>
<div style="left:203.5px;top:4.5px;width:5.6px;height:403.9px;background:linear-gradient(#560356 0px,#560356 34px,#560456 38px,#560456 54px,#560756 58px,#514354 64px,#4ab44c 68px,#4cca4e 74px,#4dd34f 78px,#4edf50 84px,#4fe550 88px,#51e850 94px,#4ee250 98px,#4dd54f 104px,#4bc14d 108px,#49af4b 114px,#4a814e 118px,#4e5b52 124px,#533255 128px,#551e56 134px,#560b56 138px,#560856 144px,#560656 148px,#560756 154px,#560756 158px,#560856 164px,#561456 168px,#552356 174px,#533255 178px,#504a54 184px,#4f5153 188px,#4e5952 194px,#4d6451 198px,#4c6e50 204px,#4b704f 208px,#4b754f 214px,#4b7e4e 218px,#4a874d 224px,#49904c 228px,#49964b 234px,#49984b 238px,#48a14a 244px,#49b24b 248px,#4bc24d 254px,#4cc94e 258px,#4edd50 264px,#53ed50 268px,#57f650 274px,#5bfc50 278px,#8dd43b 284px,#ec910d 288px,#e95400 294px,#c42300 298px,#b81700 304px,#bd1c00 308px,#d73b00 314px,#fc7800 318px,#df9a14 324px,#8fd23a 328px,#66f44b 334px,#5cfb4f 338px,#59fb50 344px,#59fc50 348px,#5afc50 354px,#5afd50 358px,#60f84d 364px,#70ec47 368px,#79e544 374px,#92d039 378px,#9dc534 384px,#b8b228 388px,#c7aa20 394px,#d99e17 398px,#ed900d 404px)"></div>
<div style="left:208.5px;top:4.5px;width:5.6px;height:403.9px;background:linear-gradient(#560056 0px,#560056 24px,#560156 28px,#560156 54px,#560356 58px,#523955 64px,#48a24a 68px,#4aba4c 74px,#4bc34d 78px,#4ccf4e 84px,#4dd94f 88px,#4edf50 94px,#4dd24f 98px,#4bc54d 104px,#49b24b 108px,#489f4a 114px,#4b734f 118px,#4f5253 124px,#542956 128px,#551756 134px,#560856 138px,#560556 144px,#560356 148px,#560456 154px,#560456 158px,#560556 164px,#560d56 168px,#551b56 174px,#542956 178px,#524055 184px,#514754 188px,#504f53 194px,#4e5a52 198px,#4d6351 204px,#4d6551 208px,#4c6850 214px,#4b714f 218px,#4b7a4e 224px,#4a834d 228px,#4a894d 234px,#4a8b4c 238px,#49944b 244px,#48a34a 248px,#4ab34c 254px,#4abb4c 258px,#4ccf4e 264px,#50e750 268px,#54ef50 274px,#57f750 278px,#86da3e 284px,#e79410 288px,#ec5a00 294px,#c72700 298px,#bc1b00 304px,#c12000 308px,#db4000 314px,#ff7d00 318px,#da9e17 324px,#88d93d 328px,#5dfb4f 334px,#57f750 338px,#56f450 344px,#56f350 348px,#56f450 354px,#56f450 358px,#58fa50 364px,#65f44c 368px,#6eed48 374px,#88d93d 378px,#94ce38 384px,#b0b72c 388px,#beaf25 394px,#d1a41b 398px,#e69511 404px)"></div>
<div style="left:213.5px;top:4.5px;width:5.6px;height:403.9px;background:linear-gradient(#560256 0px,#560256 34px,#560356 38px,#560356 54px,#560556 58px,#523f55 64px,#48a64a 68px,#4bc24d 74px,#4cca4e 78px,#4dd64f 84px,#4ee150 88px,#4fe450 94px,#4dda4f 98px,#4ccc4e 104px,#4ab94c 108px,#48a64a 114px,#4b7b4e 118px,#4e5852 124px,#532e55 128px,#551b56 134px,#560a56 138px,#560756 144px,#560556 148px,#560656 154px,#560656 158px,#560756 164px,#561256 168px,#551f56 174px,#532f55 178px,#514654 184px,#504d53 188px,#4f5552 194px,#4d6051 198px,#4c6950 204px,#4c6b50 208px,#4b704f 214px,#4b794e 218px,#4a824d 224px,#4a8b4c 228px,#49914c 234px,#49934c 238px,#489d4b 244px,#49ad4b 248px,#4abc4c 254px,#4bc44d 258px,#4dd84f 264px,#52eb50 268px,#56f350 274px,#59fb50 278px,#8bd63c 284px,#ea920e 288px,#ea5600 294px,#c52400 298px,#b91800 304px,#be1d00 308px,#d83d00 314px,#fe7a00 318px,#dd9b15 324px,#8dd53c 328px,#62f74d 334px,#59fa50 338px,#57f750 344px,#57f650 348px,#57f650 358px,#59fc50 364px,#67f34b 368px,#70ec47 374px,#8ad73d 378px,#96cc38 384px,#b1b72c 388px,#bfae24 394px,#d2a31b 398px,#e69511 404px)"></div>
<div style="left:218.5px;top:4.5px;width:5.6px;height:403.9px;background:linear-gradient(#560256 0px,#560256 24px,#560356 28px,#560356 54px,#560456 58px,#523f55 64px,#48a14a 68px,#4bc14d 74px,#4cca4e 78px,#4dd54f 84px,#4ee050 88px,#4fe450 94px,#4dd94f 98px,#4ccc4e 104px,#4ab94c 108px,#48a64a 114px,#4b7b4e 118px,#4e5952 124px,#532f55 128px,#551c56 134px,#560a56 138px,#560756 144px,#560556 148px,#560656 154px,#560656 158px,#560756 164px,#561256 168px,#552056 174px,#533055 178px,#514754 184px,#504e53 188px,#4f5652 194px,#4d6151 198px,#4c6a50 204px,#4c6d50 208px,#4b724f 214px,#4b7a4e 218px,#4a844d 224px,#4a8c4c 228px,#49924c 234px,#49944b 238px,#489e4a 244px,#49ae4b 248px,#4bbe4d 254px,#4bc54d 258px,#4dd94f 264px,#52ec50 268px,#56f450 274px,#59fc50 278px,#8bd63c 284px,#ea920e 288px,#ea5600 294px,#c52400 298px,#b91800 304px,#be1d00 308px,#d83c00 314px,#fd7a00 318px,#dd9b15 324px,#8dd43b 328px,#62f74d 334px,#59fa50 338px,#57f650 344px,#56f550 348px,#56f550 358px,#59fa50 364px,#65f54c 368px,#6dee48 374px,#87da3e 378px,#93cf39 384px,#aeb92d 388px,#bcb026 394px,#cfa51d 398px,#e39712 404px)"></div>
<div style="left:223.5px;top:4.5px;width:5.6px;height:403.9px;background:linear-gradient(#560156 0px,#560156 28px,#560256 34px,#560256 54px,#560356 58px,#523a55 64px,#49944b 68px,#4ab94c 74px,#4bc14d 78px,#4ccd4e 84px,#4dd84f 88px,#4edd50 94px,#4cd14e 98px,#4bc44d 104px,#49b14b 108px,#489e4a 114px,#4b754f 118px,#4f5552 124px,#542b56 128px,#551956 134px,#560956 138px,#560656 144px,#560456 148px,#560556 154px,#560556 158px,#560656 164px,#561056 168px,#551d56 174px,#542c56 178px,#514354 184px,#504a54 188px,#4f5253 194px,#4e5d51 198px,#4c6650 204px,#4c6850 208px,#4c6c50 214px,#4b754f 218px,#4b7e4e 224px,#4a874d 228px,#498d4c 234px,#498f4c 238px,#49984b 244px,#49a84b 248px,#4ab74c 254px,#4bbf4d 258px,#4dd34f 264px,#51e950 268px,#55f150 274px,#58f950 278px,#88d83d 284px,#e8930f 288px,#eb5800 294px,#c62600 298px,#bb1900 304px,#bf1e00 308px,#da3f00 314px,#ff7c00 318px,#db9d16 324px,#8ad73d 328px,#5dfb4f 334px,#57f550 338px,#55f250 344px,#54f050 348px,#54ef50 354px,#54ef50 358px,#56f450 364px,#5dfa4f 368px,#66f44b 374px,#80e041 378px,#8cd53c 384px,#a7bd30 388px,#b5b429 394px,#c8a920 398px,#dd9b15 404px)"></div>
<div style="left:228.5px;top:4.5px;width:5.6px;height:403.9px;background:linear-gradient(#560256 0px,#560256 44px,#560356 48px,#560356 58px,#523b55 64px,#49904c 68px,#4aba4c 74px,#4bc24d 78px,#4cce4e 84px,#4dd94f 88px,#4edf50 94px,#4dd34f 98px,#4bc54d 104px,#4ab24c 108px,#48a04a 114px,#4b774e 118px,#4e5752 124px,#532e55 128px,#551b56 134px,#560a56 138px,#560756 144px,#560556 148px,#560556 154px,#560656 158px,#560756 164px,#561156 168px,#551f56 174px,#532e55 178px,#514654 184px,#504d53 188px,#4f5552 194px,#4d6051 198px,#4c6850 204px,#4c6b50 208px,#4c704f 214px,#4b784e 218px,#4a824d 224px,#4a8b4c 228px,#49914c 234px,#49934c 238px,#489c4b 244px,#49ac4b 248px,#4abc4c 254px,#4bc34d 258px,#4dd74f 264px,#52eb50 268px,#55f350 274px,#59fb50 278px,#8ad73d 284px,#ea920e 288px,#ea5600 294px,#c52500 298px,#ba1800 304px,#be1d00 308px,#d93d00 314px,#fe7b00 318px,#dd9c15 324px,#8cd53c 328px,#5efa4e 334px,#57f650 338px,#55f250 344px,#54f050 348px,#53ee50 354px,#53ee50 358px,#56f350 364px,#5cfc4f 368px,#64f54c 374px,#7de242 378px,#8ad73d 384px,#a4bf32 388px,#b2b62b 394px,#c5ab22 398px,#da9e17 404px)"></div>
<div style="left:233.5px;top:4.5px;width:5.6px;height:403.9px;background:linear-gradient(#560056 0px,#560056 54px,#560156 58px,#533255 64px,#4b7e4e 68px,#49ac4b 74px,#4ab44c 78px,#4bc04d 84px,#4ccc4e 88px,#4cd14e 94px,#4bc54d 98px,#4ab84c 104px,#48a44a 108px,#49934c 114px,#4c6c50 118px,#505053 124px,#542756 128px,#551656 134px,#560856 138px,#560556 144px,#560356 148px,#560356 154px,#560456 158px,#560556 164px,#560c56 168px,#551956 174px,#542756 178px,#523e55 184px,#514554 188px,#504d53 194px,#4e5852 198px,#4d6151 204px,#4d6351 208px,#4c6750 214px,#4c6e4f 218px,#4b784e 224px,#4a814e 228px,#4a874d 234px,#4a894d 238px,#49924c 244px,#48a14a 248px,#49b04b 254px,#4ab84c 258px,#4ccc4e 264px,#4fe550 268px,#53ed50 274px,#57f650 278px,#85dc3f 284px,#e69510 288px,#ed5b00 294px,#c82800 298px,#bd1b00 304px,#c12000 308px,#dc4100 314px,#fe7e01 318px,#d99e17 324px,#87da3e 328px,#59fa50 334px,#54ef50 338px,#52eb50 344px,#51e850 348px,#50e650 354px,#4fe550 358px,#52ea50 364px,#57f550 368px,#59fc50 374px,#71eb47 378px,#80e041 384px,#99c936 388px,#a9bc30 394px,#bab127 398px,#d1a41c 404px)"></div>
<div style="left:238.5px;top:4.5px;width:5.6px;height:403.9px;background:linear-gradient(#560056 0px,#560056 58px,#532f55 64px,#4b754f 68px,#49a94b 74px,#49b14b 78px,#4bbd4d 84px,#4cc94e 88px,#4ccf4e 94px,#4bc24d 98px,#4ab54c 104px,#48a24a 108px,#49914c 114px,#4c6b50 118px,#505053 124px,#542756 128px,#551656 134px,#560856 138px,#560556 144px,#560356 148px,#560356 154px,#560456 158px,#560556 164px,#560c56 168px,#551956 174px,#542756 178px,#523e55 184px,#514554 188px,#504d53 194px,#4e5852 198px,#4d6151 204px,#4d6351 208px,#4c6750 214px,#4c6e4f 218px,#4b784e 224px,#4a814e 228px,#4a874d 234px,#4a894d 238px,#49924c 244px,#48a14a 248px,#49b04b 254px,#4ab84c 258px,#4ccc4e 264px,#4fe550 268px,#53ed50 274px,#57f650 278px,#85dc3f 284px,#e69510 288px,#ed5b00 294px,#c82800 298px,#bd1b00 304px,#c12000 308px,#dc4100 314px,#fe7e01 318px,#d99e17 324px,#87da3e 328px,#58f950 334px,#53ed50 338px,#51e950 344px,#50e650 348px,#4ee350 354px,#4ee250 358px,#50e650 364px,#55f150 368px,#58f750 374px,#6cef49 378px,#7ae443 384px,#93cf39 388px,#a3c132 394px,#b5b52a 398px,#caa81f 404px)"></div>
<div style="left:243.5px;top:4.5px;width:5.6px;height:403.9px;background:linear-gradient(#560056 0px,#560056 18px,#560156 24px,#560156 58px,#542d56 64px,#4c6f4f 68px,#49aa4b 74px,#49b14b 78px,#4bbe4d 84px,#4cc94e 88px,#4ccf4e 94px,#4bc34d 98px,#4ab54c 104px,#48a24a 108px,#49914c 114px,#4c6d50 118px,#4f5253 124px,#542956 128px,#551756 134px,#560856 138px,#560556 144px,#560456 148px,#560456 154px,#560556 158px,#560556 164px,#560e56 168px,#551b56 174px,#542956 178px,#524055 184px,#514754 188px,#504f53 194px,#4e5a52 198px,#4d6351 204px,#4d6550 208px,#4c6950 214px,#4b714f 218px,#4b7b4e 224px,#4a844d 228px,#4a8a4d 234px,#4a8c4c 238px,#49954b 244px,#48a44a 248px,#4ab44c 254px,#4abb4c 258px,#4ccf4e 264px,#50e750 268px,#54ef50 274px,#57f750 278px,#86da3e 284px,#e79410 288px,#ec5a00 294px,#c72700 298px,#bc1a00 304px,#c01f00 308px,#db4000 314px,#ff7d00 318px,#da9e17 324px,#88d83d 328px,#58f950 334px,#53ec50 338px,#51e850 344px,#4fe450 348px,#4edf50 354px,#4edd50 358px,#4fe450 364px,#53ee50 368px,#56f450 374px,#67f34b 378px,#76e745 384px,#8fd33b 388px,#9ec534 394px,#b0b72c 398px,#c5ab21 404px)"></div>
<div style="left:248.5px;top:4.5px;width:5.6px;height:403.9px;background:linear-gradient(#560256 0px,#560256 18px,#560356 24px,#560356 58px,#532f55 64px,#4c704f 68px,#49b14b 74px,#4ab94c 78px,#4bc54d 84px,#4cd14e 88px,#4dd74f 94px,#4ccb4e 98px,#4bbd4d 104px,#49aa4b 108px,#49984b 114px,#4b754f 118px,#4e5952 124px,#533055 128px,#551c56 134px,#560a56 138px,#560756 144px,#560656 148px,#560656 154px,#560756 158px,#560756 164px,#561356 168px,#552056 174px,#533055 178px,#514754 184px,#504e53 188px,#4f5652 194px,#4d6151 198px,#4c6a50 204px,#4c6d50 208px,#4b724f 214px,#4b7a4e 218px,#4a844d 224px,#498d4c 228px,#49934c 234px,#49954b 238px,#489e4a 244px,#49ae4b 248px,#4bbe4d 254px,#4bc54d 258px,#4dd94f 264px,#52ec50 268px,#56f450 274px,#5afc50 278px,#8cd53c 284px,#eb910e 288px,#ea5500 294px,#c42400 298px,#b91700 304px,#be1c00 308px,#d83c00 314px,#fd7900 318px,#de9b15 324px,#8ed43b 328px,#5afd50 334px,#54ef50 338px,#52eb50 344px,#50e650 348px,#4ee250 354px,#4edf50 358px,#4fe550 364px,#54ef50 368px,#56f550 374px,#67f34b 378px,#76e745 384px,#8ed43b 388px,#9cc735 394px,#aeb82d 398px,#c3ac23 404px)"></div>
<div style="left:253.5px;top:4.5px;width:5.6px;height:403.9px;background:linear-gradient(#560156 0px,#560156 24px,#560256 28px,#560256 58px,#542556 64px,#4d6351 68px,#48a64a 74px,#49ae4b 78px,#4abb4c 84px,#4bc74d 88px,#4ccd4e 94px,#4bc14d 98px,#4ab24c 104px,#489f4a 108px,#498e4c 114px,#4c6b50 118px,#4f5353 124px,#542b56 128px,#551956 134px,#560956 138px,#560656 144px,#560556 148px,#560556 158px,#560656 164px,#561056 168px,#551c56 174px,#542b56 178px,#514255 184px,#504954 188px,#4f5153 194px,#4e5c52 198px,#4d6451 204px,#4c6650 208px,#4c6b50 214px,#4b734f 218px,#4b7d4e 224px,#4a864d 228px,#4a8c4c 234px,#498e4c 238px,#49974b 244px,#48a74a 248px,#4ab64c 254px,#4bbe4d 258px,#4cd14e 264px,#51e850 268px,#54f050 274px,#58f950 278px,#89d83d 284px,#e9930f 288px,#eb5800 294px,#c62500 298px,#ba1900 304px,#bf1e00 308px,#d93e00 314px,#fe7c00 318px,#dc9c16 324px,#8bd63c 328px,#58f950 334px,#52eb50 338px,#50e650 344px,#4edf50 348px,#4dd44f 354px,#4cd14e 358px,#4dda4f 364px,#50e750 368px,#53ed50 374px,#5dfb4f 378px,#6cef49 384px,#84dc3f 388px,#92d039 394px,#a5bf31 398px,#b9b228 404px)"></div>
<div style="left:258.5px;top:4.5px;width:5.6px;height:403.9px;background:linear-gradient(#560156 0px,#560156 44px,#560256 48px,#560256 58px,#551d56 64px,#4e5a52 68px,#489d4a 74px,#48a74a 78px,#4ab44c 84px,#4bc04d 88px,#4bc54d 94px,#4ab94c 98px,#49aa4b 104px,#49984b 108px,#4a854d 114px,#4d6550 118px,#504e53 124px,#542756 128px,#551756 134px,#560856 138px,#560656 144px,#560456 148px,#560456 154px,#560556 158px,#560656 164px,#560e56 168px,#551a56 174px,#542756 178px,#523d55 184px,#514554 188px,#504d53 194px,#4e5852 198px,#4d6051 204px,#4d6251 208px,#4c6750 214px,#4c6e4f 218px,#4b784e 224px,#4a814e 228px,#4a874d 234px,#4a894d 238px,#49934c 244px,#48a14a 248px,#49b04b 254px,#4ab84c 258px,#4ccb4e 264px,#4fe550 268px,#53ed50 274px,#57f650 278px,#88d93e 284px,#e8930f 288px,#ec5900 294px,#c62600 298px,#bb1a00 304px,#c01f00 308px,#da3f00 314px,#ff7d00 318px,#db9d16 324px,#8ad73d 328px,#57f750 334px,#50e750 338px,#4ee250 344px,#4dd64f 348px,#4cc94e 354px,#4bc54d 358px,#4cce4e 364px,#4ee050 368px,#50e650 374px,#58f850 378px,#64f54c 384px,#7be443 388px,#89d83d 394px,#9bc735 398px,#b0b72c 404px)"></div>
<div style="left:263.5px;top:4.5px;width:5.6px;height:403.9px;background:linear-gradient(#560256 0px,#560256 34px,#560356 38px,#560356 58px,#551b56 64px,#4e5752 68px,#489c4b 74px,#49a84b 78px,#4ab64c 84px,#4bc14d 88px,#4bc64d 94px,#4abb4c 98px,#49aa4b 104px,#49974b 108px,#4a824d 114px,#4d6451 118px,#504e53 124px,#542856 128px,#551856 134px,#560956 138px,#560756 144px,#560556 148px,#560656 154px,#560656 158px,#560756 164px,#561056 168px,#551b56 174px,#542856 178px,#523e55 184px,#514654 188px,#504e53 194px,#4e5952 198px,#4d6151 204px,#4d6351 208px,#4c6850 214px,#4b704f 218px,#4b7a4e 224px,#4a824d 228px,#4a884d 234px,#4a8b4c 238px,#49954b 244px,#48a34a 248px,#4ab24c 254px,#4aba4c 258px,#4ccd4e 264px,#4fe550 268px,#53ed50 274px,#58f850 278px,#8bd63c 284px,#ea920e 288px,#ea5600 294px,#c52400 298px,#b91800 304px,#be1d00 308px,#d83d00 314px,#fe7a00 318px,#dd9b15 324px,#8dd43c 328px,#58f850 334px,#51e850 338px,#4ee350 344px,#4dd54f 348px,#4bc74d 354px,#4bc24d 358px,#4cca4e 364px,#4ddc4f 368px,#4fe450 374px,#57f650 378px,#61f84d 384px,#76e745 388px,#85dc3f 394px,#96cc37 398px,#aabb2f 404px)"></div>
<div style="left:268.5px;top:4.5px;width:5.6px;height:403.9px;background:linear-gradient(#560156 0px,#560156 18px,#560256 24px,#560256 58px,#561456 64px,#504f53 68px,#49934c 74px,#489f4a 78px,#49ae4b 84px,#4ab94c 88px,#4bbe4d 94px,#4ab24c 98px,#48a04a 104px,#498e4c 108px,#4b774f 114px,#4e5b52 118px,#514754 124px,#552356 128px,#551556 134px,#560956 138px,#560656 144px,#560556 148px,#560556 158px,#560656 164px,#560d56 168px,#551856 174px,#552356 178px,#533855 184px,#524055 188px,#514954 194px,#4f5353 198px,#4e5b52 204px,#4e5e51 208px,#4d6251 214px,#4c6950 218px,#4b734f 224px,#4b7b4e 228px,#4a814d 234px,#4a844d 238px,#498e4c 244px,#489c4b 248px,#49aa4b 254px,#49b14b 258px,#4bc44d 264px,#4edf50 268px,#51e950 274px,#56f450 278px,#89d83d 284px,#e9930f 288px,#eb5800 294px,#c62500 298px,#ba1900 304px,#bf1e00 308px,#d93e00 314px,#fe7c00 318px,#dc9c16 324px,#8bd63c 328px,#57f650 334px,#4fe450 338px,#4ddb4f 344px,#4ccb4e 348px,#4abb4c 354px,#4ab54c 358px,#4bbd4d 364px,#4cce4e 368px,#4dd84f 374px,#53ee50 378px,#59fb50 384px,#6cef49 388px,#7be443 394px,#8dd43c 398px,#a0c333 404px)"></div>
<div style="left:273.5px;top:4.5px;width:5.6px;height:403.9px;background:linear-gradient(#560056 0px,#560056 4px,#560156 8px,#560156 48px,#560256 54px,#560256 58px,#560d56 64px,#514754 68px,#4a884d 74px,#49974b 78px,#48a74a 84px,#49b04b 88px,#4ab54c 94px,#49a94b 98px,#49964b 104px,#4a844d 108px,#4c6b50 114px,#4f5253 118px,#523e55 124px,#551d56 128px,#561156 134px,#560856 138px,#560556 144px,#560456 148px,#560456 154px,#560556 158px,#560556 164px,#560b56 168px,#561456 174px,#551d56 178px,#533155 184px,#523955 188px,#514255 194px,#504c53 198px,#4f5452 204px,#4f5752 208px,#4e5c52 214px,#4d6351 218px,#4c6b50 224px,#4b734f 228px,#4b784e 234px,#4b7c4e 238px,#4a864d 244px,#49944b 248px,#48a14a 254px,#49a84b 258px,#4aba4c 264px,#4dd54f 268px,#4fe350 274px,#54f050 278px,#86da3e 284px,#e69510 288px,#ed5b00 294px,#c82800 298px,#bd1c00 304px,#c12100 308px,#dc4100 314px,#fe7e01 318px,#d99e17 324px,#88d93d 328px,#55f350 334px,#4ede50 338px,#4dd24f 344px,#4bc14d 348px,#49ae4b 354px,#49a84b 358px,#49b04b 364px,#4bc04d 368px,#4cc94e 374px,#50e650 378px,#56f450 384px,#61f74d 388px,#70ec47 394px,#83dd40 398px,#95cd38 404px)"></div>
<div style="left:278.5px;top:4.5px;width:5.6px;height:403.9px;background:linear-gradient(#560356 0px,#560356 44px,#560456 48px,#560456 58px,#560e56 64px,#504a54 68px,#4a8a4c 74px,#489d4b 78px,#49ae4b 84px,#4ab64c 88px,#4abb4c 94px,#49af4b 98px,#499a4b 104px,#4a874d 108px,#4c6b50 114px,#4f5253 118px,#523f55 124px,#552056 128px,#561556 134px,#560a56 138px,#560756 144px,#560656 148px,#560656 154px,#560756 158px,#560756 164px,#560e56 168px,#551756 174px,#552056 178px,#533355 184px,#523c55 188px,#514554 194px,#504f53 198px,#4f5652 204px,#4e5a52 208px,#4d5f51 214px,#4c6750 218px,#4c704f 224px,#4b774f 228px,#4b7d4e 234px,#4a814d 238px,#4a8b4c 244px,#49994b 248px,#48a54a 254px,#49ac4b 258px,#4bbf4d 264px,#4dd84f 268px,#4fe550 274px,#56f350 278px,#8ad73d 284px,#e79410 288px,#ed5b00 294px,#c82800 298px,#bc1b00 304px,#c12000 308px,#db4100 314px,#fe7e01 318px,#d99e17 324px,#8cd53c 328px,#57f750 334px,#4fe350 338px,#4dd94f 344px,#4bc54d 348px,#49b14b 354px,#49aa4b 358px,#49b14b 364px,#4bc04d 368px,#4cc84e 374px,#50e650 378px,#56f450 384px,#5ff94e 388px,#6dee48 394px,#80e041 398px,#91d039 404px)"></div>
<div style="left:283.5px;top:4.5px;width:5.6px;height:403.9px;background:linear-gradient(#560256 0px,#560256 14px,#560356 18px,#560356 58px,#560b56 64px,#514554 68px,#4a814e 74px,#49964b 78px,#49a84b 84px,#49b04b 88px,#4ab34c 94px,#49a84b 98px,#49914c 104px,#4b7e4e 108px,#4d6251 114px,#504954 118px,#533755 124px,#551b56 128px,#561156 134px,#560956 138px,#560756 144px,#560656 148px,#560656 158px,#560756 164px,#560c56 168px,#561456 174px,#551b56 178px,#542c56 184px,#533655 188px,#523f55 194px,#514854 198px,#504f53 204px,#4f5353 208px,#4e5952 214px,#4d6151 218px,#4c6850 224px,#4c6f4f 228px,#4b744f 234px,#4b794e 238px,#4a844d 244px,#49914c 248px,#489d4b 254px,#48a34a 258px,#4ab54c 264px,#4ccd4e 268px,#4edd50 274px,#54f050 278px,#85db3f 284px,#e29712 288px,#f06200 294px,#cd2e00 298px,#c12000 304px,#c62500 308px,#df4600 314px,#fc8102 318px,#d4a21a 324px,#87d93e 328px,#56f450 334px,#4edd50 338px,#4cd14e 344px,#4abc4c 348px,#48a64a 354px,#489f4a 358px,#48a64a 364px,#4ab34c 368px,#4abb4c 374px,#4ddc4f 378px,#53ed50 384px,#59fa50 388px,#63f64c 394px,#75e845 398px,#87d93e 404px)"></div>
<div style="left:288.5px;top:4.5px;width:5.6px;height:403.9px;background:linear-gradient(#560056 0px,#560056 14px,#560156 18px,#560156 58px,#560756 64px,#523b55 68px,#4c704f 74px,#4a884d 78px,#499b4b 84px,#48a14a 88px,#48a34a 94px,#499a4b 98px,#4a814d 104px,#4c6e50 108px,#4f5353 114px,#523a55 118px,#542a56 124px,#561356 128px,#560b56 134px,#560656 138px,#560556 144px,#560456 148px,#560456 158px,#560556 164px,#560956 168px,#560c56 174px,#561356 178px,#552056 184px,#542a56 188px,#533455 194px,#523b55 198px,#514255 204px,#514754 208px,#504d53 214px,#4f5552 218px,#4e5c51 224px,#4d6151 228px,#4c6650 234px,#4c6a50 238px,#4b754f 244px,#4a824d 248px,#498d4c 254px,#49934c 258px,#48a34a 264px,#4aba4c 268px,#4cc94e 274px,#51e850 278px,#7ce343 284px,#da9d17 288px,#f76e00 294px,#d63900 298px,#c82800 304px,#cd2e00 308px,#e75000 314px,#f88606 318px,#c8a920 324px,#7ee142 328px,#53ee50 334px,#4cce4e 338px,#4bc14d 344px,#49ab4b 348px,#49954b 354px,#498e4c 358px,#49934c 364px,#489f4a 368px,#48a54a 374px,#4bc54d 378px,#4ee250 384px,#53ee50 388px,#58f950 394px,#66f44b 398px,#78e644 404px)"></div>
<div style="left:293.5px;top:4.5px;width:5.6px;height:403.9px;background:linear-gradient(#560256 0px,#560256 38px,#560356 44px,#560356 58px,#560756 64px,#523d55 68px,#4c6f4f 74px,#4a8b4c 78px,#489f4a 84px,#48a44a 88px,#48a64a 94px,#489c4b 98px,#4a814d 104px,#4c6e50 108px,#4f5153 114px,#533855 118px,#542856 124px,#561356 128px,#560c56 134px,#560856 138px,#560656 144px,#560556 148px,#560556 154px,#560656 158px,#560656 164px,#560a56 168px,#560d56 174px,#561356 178px,#551f56 184px,#542a56 188px,#533455 194px,#523b55 198px,#524155 204px,#514654 208px,#504d53 214px,#4f5552 218px,#4e5d51 224px,#4d6151 228px,#4c6650 234px,#4c6b50 238px,#4b764f 244px,#4a834d 248px,#498d4c 254px,#49934c 258px,#48a24a 264px,#4ab84c 268px,#4cc84e 274px,#51e950 278px,#7be343 284px,#d7a018 288px,#fa7300 294px,#da3f00 298px,#cb2b00 304px,#d13300 308px,#e95500 314px,#f68807 318px,#c3ac23 324px,#7ee142 328px,#54f050 334px,#4cd14e 338px,#4bc44d 344px,#49ac4b 348px,#49944b 354px,#498d4c 358px,#49924c 364px,#489c4b 368px,#48a24a 374px,#4bc14d 378px,#4edf50 384px,#52eb50 388px,#57f650 394px,#62f74d 398px,#72ea46 404px)"></div>
<div style="left:298.5px;top:4.5px;width:5.6px;height:403.9px;background:linear-gradient(#560156 0px,#560156 4px,#560256 8px,#560256 58px,#560656 64px,#523a55 68px,#4c6750 74px,#4a864d 78px,#489b4b 84px,#489f4a 88px,#48a04a 94px,#49984b 98px,#4b7a4e 104px,#4c6750 108px,#504954 114px,#533055 118px,#552056 124px,#560f56 128px,#560b56 134px,#560756 138px,#560656 144px,#560556 148px,#560556 158px,#560656 164px,#560956 168px,#560b56 174px,#560f56 178px,#551a56 184px,#542456 188px,#532e55 194px,#533555 198px,#523b55 204px,#524055 208px,#514854 214px,#4f5053 218px,#4e5752 224px,#4e5c52 228px,#4d6051 234px,#4d6550 238px,#4c6f4f 244px,#4b7c4e 248px,#4a854d 254px,#4a8b4c 258px,#499a4b 264px,#49ae4b 268px,#4bbd4d 274px,#50e650 278px,#75e845 284px,#d0a41c 288px,#ff7c00 294px,#e14900 298px,#d13300 304px,#d83c00 308px,#ee5d00 314px,#f28c0a 318px,#b9b227 324px,#78e644 328px,#54ef50 334px,#4ccc4e 338px,#4bbe4d 344px,#48a54a 348px,#4a8c4c 354px,#4a844d 358px,#4a894d 364px,#49934c 368px,#49984b 374px,#4ab44c 378px,#4dd34f 384px,#4fe550 388px,#54ef50 394px,#5afc50 398px,#68f24a 404px)"></div>
<div style="left:303.5px;top:4.5px;width:5.6px;height:403.9px;background:linear-gradient(#560356 0px,#560356 24px,#560456 28px,#560456 58px,#560756 64px,#523d55 68px,#4c6750 74px,#4a8a4d 78px,#48a04a 84px,#48a34a 88px,#48a44a 94px,#489b4b 98px,#4b7c4e 104px,#4c6850 108px,#514754 114px,#542e56 118px,#551e56 124px,#560f56 128px,#560b56 134px,#560856 138px,#560756 144px,#560656 148px,#560756 154px,#560756 164px,#560a56 168px,#560c56 174px,#560f56 178px,#551956 184px,#542456 188px,#532e55 194px,#533555 198px,#523a55 204px,#524055 208px,#514854 214px,#4f5153 218px,#4e5852 224px,#4e5c52 228px,#4d6051 234px,#4c6650 238px,#4b704f 244px,#4b7d4e 248px,#4a864d 254px,#4a8b4c 258px,#499a4b 264px,#49ad4b 268px,#4abc4c 274px,#50e750 278px,#74e946 284px,#cca71e 288px,#fd7f01 294px,#e64f00 298px,#d63900 304px,#dc4200 308px,#f16300 314px,#ee8f0c 318px,#b3b62b 324px,#77e745 328px,#55f150 334px,#4cd04e 338px,#4bc24d 344px,#48a74a 348px,#498d4c 354px,#4a844d 358px,#4a894d 364px,#49924c 368px,#49974b 374px,#49b24b 378px,#4cd14e 384px,#4ee350 388px,#53ec50 394px,#58f950 398px,#64f54c 404px)"></div>
<div style="left:308.5px;top:4.5px;width:5.6px;height:403.9px;background:linear-gradient(#560256 0px,#560256 8px,#560356 14px,#560356 58px,#560556 64px,#523a55 68px,#4d6051 74px,#4a844d 78px,#489b4b 84px,#489e4a 88px,#489d4a 94px,#49954b 98px,#4b734f 104px,#4d6151 108px,#523f55 114px,#542556 118px,#551756 124px,#560b56 128px,#560a56 134px,#560756 138px,#560656 144px,#560656 164px,#560856 168px,#560a56 174px,#560b56 178px,#561456 184px,#551d56 188px,#542856 194px,#542e56 198px,#533355 204px,#523955 208px,#524155 214px,#504a54 218px,#4f5153 224px,#4f5552 228px,#4e5952 234px,#4d5f51 238px,#4c6850 244px,#4b744f 248px,#4b7c4e 254px,#4a824d 258px,#49904c 264px,#48a14a 268px,#49b04b 274px,#4ee350 278px,#6cef49 284px,#c2ad23 288px,#f98404 294px,#ed5c00 298px,#dd4300 304px,#e44c00 308px,#f76d00 314px,#e49611 318px,#a8bc30 324px,#6fed48 328px,#54ef50 334px,#4cc94e 338px,#4aba4c 344px,#489e4a 348px,#4a844d 354px,#4b7b4e 358px,#4a7f4e 364px,#4a874d 368px,#4a8c4c 374px,#48a54a 378px,#4bc44d 384px,#4dd54f 388px,#4fe550 394px,#55f250 398px,#5afd50 404px)"></div>
<div style="left:313.5px;top:4.5px;width:5.6px;height:403.9px;background:linear-gradient(#560056 0px,#560056 4px,#560156 8px,#560156 58px,#560356 64px,#533255 68px,#4f5552 74px,#4b784e 78px,#49914c 84px,#49924c 88px,#49914c 94px,#4a894d 98px,#4c6650 104px,#4f5652 108px,#533355 114px,#551956 118px,#560e56 124px,#560856 128px,#560756 134px,#560556 138px,#560456 144px,#560456 164px,#560656 168px,#560756 174px,#560856 178px,#560c56 184px,#561556 188px,#551d56 194px,#552356 198px,#542856 204px,#532e55 208px,#533655 214px,#523f55 218px,#514654 224px,#504a54 228px,#504e53 234px,#4f5452 238px,#4e5d51 244px,#4c6650 248px,#4c6d50 254px,#4b724f 258px,#4a814e 264px,#49904c 268px,#489e4a 274px,#4dd54f 278px,#61f84d 284px,#b6b429 288px,#f48908 294px,#f56b00 298px,#e64f00 304px,#ec5a00 308px,#fe7a00 314px,#d99e17 318px,#98cb37 324px,#64f54c 328px,#51e950 334px,#4abb4c 338px,#49ad4b 344px,#49914c 348px,#4b754f 354px,#4c6c50 358px,#4b704f 364px,#4b784e 368px,#4b7b4e 374px,#49934c 378px,#49b14b 384px,#4bc04d 388px,#4dd34f 394px,#50e750 398px,#55f250 404px)"></div>
<div style="left:318.5px;top:4.5px;width:5.6px;height:403.9px;background:linear-gradient(#560356 0px,#560356 4px,#560456 8px,#560456 58px,#560556 64px,#523b55 68px,#4e5b52 74px,#4a844d 78px,#489e4a 84px,#489e4a 88px,#489d4b 94px,#49954b 98px,#4c6f4f 104px,#4e5d51 108px,#533855 114px,#551d56 118px,#561156 124px,#560a56 128px,#560956 134px,#560856 138px,#560756 144px,#560756 164px,#560856 168px,#560956 174px,#560a56 178px,#560f56 184px,#551956 188px,#552356 194px,#542856 198px,#542d56 204px,#533455 208px,#523d55 214px,#514654 218px,#504d53 224px,#4f5053 228px,#4f5452 234px,#4e5b52 238px,#4d6551 244px,#4c6f4f 248px,#4b764f 254px,#4b7b4e 258px,#4a894d 264px,#49984b 268px,#48a54a 274px,#4ee050 278px,#65f54c 284px,#b5b429 288px,#f48a09 294px,#f76e00 298px,#e85100 304px,#ee5d00 308px,#fe7c00 314px,#d7a018 318px,#95cd38 324px,#68f24a 328px,#54f050 334px,#4cc84e 338px,#4ab94c 344px,#489b4b 348px,#4a7f4e 354px,#4b754f 358px,#4b794e 364px,#4a804e 368px,#4a834d 374px,#499a4b 378px,#4aba4c 384px,#4bc74d 388px,#4dda4f 394px,#52ea50 398px,#56f450 404px)"></div>
<div style="left:323.5px;top:4.5px;width:5.6px;height:403.9px;background:linear-gradient(#560056 0px,#560056 38px,#560156 44px,#560156 64px,#542e56 68px,#504b54 74px,#4b704f 78px,#4a8b4c 84px,#4a8b4c 88px,#4a894d 94px,#4a814d 98px,#4e5e51 104px,#504d53 108px,#542756 114px,#561056 118px,#560956 124px,#560556 128px,#560556 134px,#560456 138px,#560356 144px,#560356 164px,#560456 168px,#560556 174px,#560556 178px,#560856 184px,#560d56 188px,#551656 194px,#551a56 198px,#551d56 204px,#542456 208px,#542d56 214px,#533655 218px,#523d55 224px,#523f55 228px,#514354 234px,#504b54 238px,#4f5452 244px,#4e5d51 248px,#4d6251 254px,#4c6650 258px,#4b724f 264px,#4a804e 268px,#498d4c 274px,#4cc84e 278px,#58f950 284px,#a6be31 288px,#e9930f 294px,#fe7e01 298px,#f16200 304px,#f76e00 308px,#fa8304 314px,#c7aa20 318px,#82de40 324px,#59fb50 328px,#50e550 334px,#49b14b 338px,#48a34a 344px,#4a864d 348px,#4c6950 354px,#4d6151 358px,#4d6451 364px,#4c6950 368px,#4c6c50 374px,#4a834d 378px,#48a04a 384px,#49ab4b 388px,#4bbd4d 394px,#4dd64f 398px,#50e650 404px)"></div>
<div style="left:328.5px;top:4.5px;width:5.6px;height:403.9px;background:linear-gradient(#560156 0px,#560156 24px,#560256 28px,#560256 64px,#533155 68px,#504d53 74px,#4b754f 78px,#49904c 84px,#498f4c 88px,#498d4c 94px,#4a854d 98px,#4d6051 104px,#504f53 108px,#542856 114px,#561056 118px,#560956 124px,#560656 128px,#560556 134px,#560556 144px,#560456 148px,#560456 154px,#560556 158px,#560556 174px,#560656 178px,#560956 184px,#560e56 188px,#551756 194px,#551b56 198px,#551e56 204px,#542556 208px,#532e55 214px,#533755 218px,#523e55 224px,#524155 228px,#514554 234px,#504d53 238px,#4f5652 244px,#4d5f51 248px,#4d6351 254px,#4c6750 258px,#4b744f 264px,#4a824d 268px,#498e4c 274px,#4ccb4e 278px,#58f850 284px,#a3c132 288px,#e69511 294px,#fc8002 298px,#f36600 304px,#f97200 308px,#f98405 314px,#c3ac23 318px,#7de242 324px,#59fb50 328px,#51e850 334px,#4ab64c 338px,#48a74a 344px,#4a8a4d 348px,#4c6c50 354px,#4d6351 358px,#4c6650 364px,#4c6b50 368px,#4c6e4f 374px,#4a844d 378px,#48a14a 384px,#49ac4b 388px,#4bbe4d 394px,#4dd64f 398px,#50e650 404px)"></div>
<div style="left:333.5px;top:4.5px;width:5.6px;height:403.9px;background:linear-gradient(#560256 0px,#560256 4px,#560356 8px,#560356 58px,#560456 64px,#533655 68px,#4f5053 74px,#4b7b4e 78px,#49974b 84px,#49954b 88px,#49924c 94px,#4a8b4c 98px,#4d6351 104px,#4f5353 108px,#542a56 114px,#561156 118px,#560956 124px,#560656 128px,#560656 174px,#560756 178px,#560956 184px,#561056 188px,#551956 194px,#551d56 198px,#552056 204px,#542856 208px,#533155 214px,#523a55 218px,#524155 224px,#514454 228px,#514854 234px,#505053 238px,#4e5952 244px,#4d6251 248px,#4c6650 254px,#4c6a50 258px,#4b784e 264px,#4a854d 268px,#49924c 274px,#4cd14e 278px,#58f950 284px,#a1c233 288px,#e49612 294px,#fb8103 298px,#f46800 304px,#fb7500 308px,#f88505 314px,#c0ae24 318px,#7ae443 324px,#5afc50 328px,#52eb50 334px,#4abc4c 338px,#49ad4b 344px,#498f4c 348px,#4b704f 354px,#4c6650 358px,#4c6950 364px,#4c6f4f 368px,#4b714f 374px,#4a874d 378px,#48a54a 384px,#49af4b 388px,#4bc04d 394px,#4dd84f 398px,#50e650 404px)"></div>
<div style="left:338.5px;top:4.5px;width:5.6px;height:403.9px;background:linear-gradient(#560056 0px,#560056 34px,#560156 38px,#560156 64px,#542d56 68px,#514554 74px,#4c6e50 78px,#4a8a4d 84px,#4a884d 88px,#4a854d 94px,#4b7e4e 98px,#4e5952 104px,#514854 108px,#551f56 114px,#560b56 118px,#560656 124px,#560356 128px,#560356 174px,#560456 178px,#560656 184px,#560a56 188px,#561256 194px,#561556 198px,#551856 204px,#551e56 208px,#542756 214px,#533055 218px,#533755 224px,#523a55 228px,#523d55 234px,#514554 238px,#504f53 244px,#4e5752 248px,#4e5b52 254px,#4d5f51 258px,#4c6950 264px,#4b764f 268px,#4a834d 274px,#4bc14d 278px,#55f150 284px,#97cb37 288px,#dc9c16 294px,#f88506 298px,#f97200 304px,#ff7e00 308px,#f58908 314px,#b7b329 318px,#6dee48 324px,#56f450 328px,#4fe550 334px,#49ad4b 338px,#489f4a 344px,#4a814d 348px,#4d6451 354px,#4e5c52 358px,#4d5e51 364px,#4d6251 368px,#4d6451 374px,#4b784e 378px,#49964b 384px,#489e4a 388px,#49af4b 394px,#4bc74d 398px,#4dda4f 404px)"></div>
<div style="left:343.5px;top:4.5px;width:3.6px;height:403.9px;background:linear-gradient(#560156 0px,#560156 14px,#560256 18px,#560256 64px,#533155 68px,#504a54 74px,#4b744f 78px,#49914c 84px,#498f4c 88px,#4a8c4c 94px,#4a844d 98px,#4e5e51 104px,#504d53 108px,#542456 114px,#560c56 118px,#560756 124px,#560556 128px,#560556 178px,#560756 184px,#560c56 188px,#561556 194px,#551856 198px,#551b56 204px,#552256 208px,#542b56 214px,#533555 218px,#523b55 224px,#523e55 228px,#514255 234px,#504a54 238px,#4f5353 244px,#4e5c52 248px,#4d6051 254px,#4d6451 258px,#4c6f4f 264px,#4b7c4e 268px,#4a894d 274px,#4cc84e 278px,#56f450 284px,#99c936 288px,#de9b15 294px,#f88505 298px,#f87000 304px,#ff7c00 308px,#f68807 314px,#b9b228 318px,#70ec47 324px,#57f750 328px,#51e850 334px,#4ab54c 338px,#48a64a 344px,#4a884d 348px,#4c6950 354px,#4d6051 358px,#4d6351 364px,#4c6750 368px,#4c6950 374px,#4a7f4e 378px,#489c4b 384px,#48a44a 388px,#4ab64c 394px,#4cce4e 398px,#4ee050 404px)"></div>
<div style="left:374.5px;top:4.5px;width:5.6px;height:403.9px;background:linear-gradient(#560056 0px,#560056 58px,#560656 64px,#542a56 68px,#4e5a52 74px,#4d5e51 78px,#4d6451 84px,#4c6b50 88px,#4c6f4f 94px,#4d6550 98px,#4e5c52 104px,#514554 108px,#533855 114px,#542856 118px,#551f56 124px,#560c56 128px,#560556 134px,#560356 138px,#560356 154px,#560456 158px,#560456 168px,#560856 174px,#560f56 178px,#561456 184px,#552056 188px,#542756 194px,#542c56 198px,#533655 204px,#524155 208px,#514854 214px,#504a54 218px,#4f5353 224px,#4d5f51 228px,#4c6a50 234px,#4b754f 238px,#4b784e 244px,#4a864d 248px,#49994b 254px,#49a84b 258px,#4ab44c 264px,#4ddb4f 268px,#51e950 274px,#57f750 278px,#90d13a 284px,#f98405 288px,#e24900 294px,#cd2e00 298px,#c52400 304px,#cd2d00 308px,#e14800 314px,#fb8103 318px,#c2ad23 324px,#6eee48 328px,#5afd50 334px,#56f350 338px,#54ee50 344px,#4fe450 348px,#4cc94e 354px,#4bbe4d 358px,#4dd34f 364px,#50e750 368px,#54f050 374px,#70ec47 378px,#80e041 384px,#9fc434 388px,#afb82d 394px,#c0ae24 398px,#d7a018 404px)"></div>
<div style="left:379.5px;top:4.5px;width:5.6px;height:403.9px;background:linear-gradient(#560256 0px,#560256 18px,#560356 24px,#560356 58px,#560956 64px,#533355 68px,#4d6551 74px,#4c6850 78px,#4c704f 84px,#4b784e 88px,#4b7c4e 94px,#4b714f 98px,#4c6650 104px,#504f53 108px,#514255 114px,#533155 118px,#542856 124px,#561256 128px,#560856 134px,#560656 138px,#560656 158px,#560756 164px,#560756 168px,#560a56 174px,#551656 178px,#551b56 184px,#542956 188px,#533055 194px,#533555 198px,#524055 204px,#504b54 208px,#4f5153 214px,#4f5452 218px,#4e5c51 224px,#4c6850 228px,#4b774e 234px,#4a814d 238px,#4a854d 244px,#49934c 248px,#48a64a 254px,#4ab64c 258px,#4bc34d 264px,#50e550 268px,#54f050 274px,#5bfc50 278px,#97cb37 284px,#fb8203 288px,#de4400 294px,#c92900 298px,#c12000 304px,#c92900 308px,#dd4300 314px,#fd7f01 318px,#c8a920 324px,#76e745 328px,#63f64d 334px,#59fa50 338px,#57f550 344px,#52eb50 348px,#4dd84f 354px,#4ccd4e 358px,#4ee250 364px,#53ee50 368px,#57f750 374px,#78e644 378px,#87d93e 384px,#a6be31 388px,#b5b429 394px,#c7aa21 398px,#dc9c16 404px)"></div>
<div style="left:384.5px;top:4.5px;width:5.6px;height:403.9px;background:linear-gradient(#560256 0px,#560256 4px,#560356 8px,#560356 48px,#560456 54px,#560456 58px,#560956 64px,#533555 68px,#4c6750 74px,#4c6b50 78px,#4b724f 84px,#4b7a4e 88px,#4a7f4e 94px,#4b744f 98px,#4c6850 104px,#4f5153 108px,#514454 114px,#533355 118px,#542956 124px,#561456 128px,#560856 134px,#560656 138px,#560656 154px,#560756 158px,#560756 168px,#560b56 174px,#551756 178px,#551c56 184px,#542a56 188px,#533255 194px,#533755 198px,#524155 204px,#504c53 208px,#4f5353 214px,#4f5552 218px,#4e5e51 224px,#4c6a50 228px,#4b794e 234px,#4a834d 238px,#4a874d 244px,#49954b 248px,#49a94b 254px,#4ab94c 258px,#4bc54d 264px,#50e650 268px,#55f150 274px,#5cfb4f 278px,#99ca37 284px,#fb8203 288px,#dd4300 294px,#c92900 298px,#c12000 304px,#c92800 308px,#dc4200 314px,#fe7e01 318px,#c9a81f 324px,#77e644 328px,#64f54c 334px,#59fb50 338px,#57f650 344px,#52ec50 348px,#4dda4f 354px,#4ccf4e 358px,#4ee350 364px,#54ef50 368px,#58f850 374px,#79e544 378px,#88d83d 384px,#a7bd30 388px,#b6b429 394px,#c8a920 398px,#dc9c15 404px)"></div>
<div style="left:389.5px;top:4.5px;width:5.6px;height:403.9px;background:linear-gradient(#560256 0px,#560256 38px,#560356 44px,#560356 58px,#560956 64px,#533255 68px,#4d6451 74px,#4c6850 78px,#4c6f4f 84px,#4b774f 88px,#4b7b4e 94px,#4b704f 98px,#4d6550 104px,#504e53 108px,#524155 114px,#533055 118px,#542656 124px,#561156 128px,#560856 134px,#560656 138px,#560556 144px,#560556 148px,#560656 154px,#560656 168px,#560a56 174px,#561556 178px,#551a56 184px,#542856 188px,#532f55 194px,#533455 198px,#523e55 204px,#504954 208px,#505053 214px,#4f5253 218px,#4e5b52 224px,#4c6750 228px,#4b754f 234px,#4a804e 238px,#4a834d 244px,#49914c 248px,#48a44a 254px,#4ab44c 258px,#4bc14d 264px,#4fe450 268px,#54ef50 274px,#5afd50 278px,#96cc37 284px,#fa8204 288px,#de4500 294px,#ca2a00 298px,#c22100 304px,#ca2a00 308px,#dd4400 314px,#fd7f01 318px,#c7aa20 324px,#75e845 328px,#61f74d 334px,#58f950 338px,#56f450 344px,#52ea50 348px,#4dd54f 354px,#4ccb4e 358px,#4ee050 364px,#53ed50 368px,#57f650 374px,#77e745 378px,#86da3e 384px,#a5bf31 388px,#b4b52a 394px,#c6aa21 398px,#db9d16 404px)"></div>
<div style="left:394.5px;top:4.5px;width:5.6px;height:403.9px;background:linear-gradient(#560356 0px,#560356 24px,#560456 28px,#560456 58px,#560a56 64px,#533755 68px,#4c6a50 74px,#4c6e4f 78px,#4b764f 84px,#4b7e4e 88px,#4a824d 94px,#4b774f 98px,#4c6b50 104px,#4f5353 108px,#514654 114px,#533555 118px,#542b56 124px,#561556 128px,#560956 134px,#560756 138px,#560656 144px,#560756 148px,#560756 158px,#560856 164px,#560856 168px,#560b56 174px,#551856 178px,#551d56 184px,#542c56 188px,#533355 194px,#533855 198px,#514354 204px,#504e53 208px,#4f5552 214px,#4e5752 218px,#4d6051 224px,#4c6c50 228px,#4b7c4e 234px,#4a864d 238px,#4a894d 244px,#49974b 248px,#49ab4b 254px,#4abb4c 258px,#4cc84e 264px,#50e850 268px,#55f250 274px,#5efa4e 278px,#9ac936 284px,#fb8103 288px,#dc4200 294px,#c82800 298px,#c01f00 304px,#c82800 308px,#db4100 314px,#fe7e01 318px,#caa81f 324px,#79e544 328px,#65f44b 334px,#5afc50 338px,#58f750 344px,#53ed50 348px,#4ddc4f 354px,#4cd24e 358px,#4fe450 364px,#54f050 368px,#58f950 374px,#7be443 378px,#8ad73d 384px,#a8bc30 388px,#b7b328 394px,#c9a920 398px,#dd9b15 404px)"></div>
<div style="left:399.5px;top:4.5px;width:5.6px;height:403.9px;background:linear-gradient(#560056 0px,#560156 4px,#560156 44px,#560256 48px,#560256 58px,#560856 64px,#532f55 68px,#4d6251 74px,#4d6550 78px,#4c6b50 84px,#4b734f 88px,#4b774f 94px,#4c6c50 98px,#4d6251 104px,#504b54 108px,#523e55 114px,#542d56 118px,#552356 124px,#560f56 128px,#560656 134px,#560456 138px,#560456 148px,#560556 154px,#560556 168px,#560956 174px,#561256 178px,#551756 184px,#542456 188px,#542b56 194px,#533055 198px,#523a55 204px,#514554 208px,#504c53 214px,#504e53 218px,#4f5752 224px,#4d6351 228px,#4c704f 234px,#4b7a4e 238px,#4b7e4e 244px,#4a8c4c 248px,#489f4a 254px,#49ae4b 258px,#4abb4c 264px,#4ee150 268px,#52ec50 274px,#59fa50 278px,#93ce39 284px,#fa8304 288px,#e04700 294px,#cb2b00 298px,#c32300 304px,#cb2b00 308px,#df4600 314px,#fc8002 318px,#c5ab22 324px,#71eb47 328px,#5efa4e 334px,#57f650 338px,#55f150 344px,#50e750 348px,#4ccf4e 354px,#4bc54d 358px,#4dda4f 364px,#52ea50 368px,#56f350 374px,#73e946 378px,#83dd3f 384px,#a2c233 388px,#b2b62b 394px,#c3ac22 398px,#d99e17 404px)"></div>
<div style="left:404.5px;top:4.5px;width:5.6px;height:403.9px;background:linear-gradient(#560256 0px,#560256 14px,#560356 18px,#560356 58px,#560a56 64px,#533555 68px,#4c6850 74px,#4c6c50 78px,#4b734f 84px,#4b7b4e 88px,#4a804e 94px,#4b754f 98px,#4c6950 104px,#4f5153 108px,#514454 114px,#533355 118px,#542856 124px,#561356 128px,#560856 134px,#560656 138px,#560656 158px,#560756 164px,#560756 168px,#560b56 174px,#551656 178px,#551b56 184px,#542956 188px,#533155 194px,#533655 198px,#524055 204px,#504b53 208px,#4f5253 214px,#4f5452 218px,#4e5d51 224px,#4c6950 228px,#4b784e 234px,#4a824d 238px,#4a864d 244px,#49934c 248px,#48a74a 254px,#4ab74c 258px,#4bc44d 264px,#50e650 268px,#54f050 274px,#5bfc4f 278px,#98cb37 284px,#fb8203 288px,#dd4400 294px,#c92900 298px,#c12000 304px,#c92900 308px,#dd4300 314px,#fd7f01 318px,#c8a920 324px,#76e745 328px,#63f64c 334px,#59fa50 338px,#57f650 344px,#52eb50 348px,#4dd84f 354px,#4cce4e 358px,#4ee250 364px,#53ee50 368px,#58f850 374px,#78e644 378px,#88d93e 384px,#a6be31 388px,#b5b429 394px,#c7aa21 398px,#dc9c16 404px)"></div>
<div style="left:409.5px;top:4.5px;width:5.6px;height:403.9px;background:linear-gradient(#560256 0px,#560256 34px,#560356 38px,#560356 58px,#560a56 64px,#533555 68px,#4c6850 74px,#4c6b50 78px,#4b724f 84px,#4b7a4e 88px,#4a7e4e 94px,#4b734f 98px,#4c6850 104px,#4f5053 108px,#514354 114px,#533155 118px,#542756 124px,#561256 128px,#560856 134px,#560656 138px,#560556 144px,#560556 148px,#560656 154px,#560656 168px,#560a56 174px,#551556 178px,#551a56 184px,#542856 188px,#532f55 194px,#533455 198px,#523e55 204px,#504a54 208px,#4f5053 214px,#4f5353 218px,#4e5b52 224px,#4c6750 228px,#4b764f 234px,#4a804e 238px,#4a844d 244px,#49914c 248px,#48a54a 254px,#4ab54c 258px,#4bc14d 264px,#4fe550 268px,#54ef50 274px,#5afd50 278px,#97cc37 284px,#fa8203 288px,#de4400 294px,#ca2a00 298px,#c22100 304px,#ca2a00 308px,#dd4300 314px,#fd7f01 318px,#c7a920 324px,#75e845 328px,#62f74d 334px,#58f950 338px,#56f450 344px,#52ea50 348px,#4dd64f 354px,#4ccb4e 358px,#4ee050 364px,#53ed50 368px,#57f650 374px,#77e744 378px,#87da3e 384px,#a5bf31 388px,#b4b52a 394px,#c6aa21 398px,#db9d16 404px)"></div>
<div style="left:414.5px;top:4.5px;width:5.6px;height:403.9px;background:linear-gradient(#560256 0px,#560256 38px,#560356 44px,#560356 58px,#560b56 64px,#533555 68px,#4c6850 74px,#4c6b50 78px,#4b734f 84px,#4b7b4e 88px,#4a7f4e 94px,#4b744f 98px,#4c6850 104px,#4f5153 108px,#514454 114px,#533155 118px,#542656 124px,#561256 128px,#560856 134px,#560656 138px,#560556 144px,#560556 148px,#560656 154px,#560656 168px,#560a56 174px,#561556 178px,#551a56 184px,#542856 188px,#532f55 194px,#533455 198px,#523e55 204px,#504954 208px,#4f5053 214px,#4f5353 218px,#4e5b52 224px,#4c6750 228px,#4b754f 234px,#4a804e 238px,#4a834d 244px,#49914c 248px,#48a44a 254px,#4ab44c 258px,#4bc14d 264px,#4fe450 268px,#54ef50 274px,#5afd50 278px,#96cc37 284px,#fa8204 288px,#de4500 294px,#ca2a00 298px,#c22100 304px,#ca2a00 308px,#dd4300 314px,#fd7f01 318px,#c7aa20 324px,#75e845 328px,#62f74d 334px,#58f950 338px,#56f450 344px,#52ea50 348px,#4dd64f 354px,#4ccb4e 358px,#4ee050 364px,#53ed50 368px,#57f650 374px,#77e744 378px,#86da3e 384px,#a5bf31 388px,#b4b52a 394px,#c6aa21 398px,#db9d16 404px)"></div>
<div style="left:419.5px;top:4.5px;width:5.6px;height:403.9px;background:linear-gradient(#560156 0px,#560156 18px,#560256 24px,#560256 58px,#560b56 64px,#533455 68px,#4c6750 74px,#4c6a50 78px,#4b714f 84px,#4b794e 88px,#4b7d4e 94px,#4b724f 98px,#4c6750 104px,#505053 108px,#514354 114px,#533055 118px,#542556 124px,#561056 128px,#560756 134px,#560556 138px,#560556 158px,#560656 164px,#560656 168px,#560a56 174px,#561456 178px,#551956 184px,#542656 188px,#542d56 194px,#533255 198px,#523c55 204px,#514754 208px,#504e53 214px,#4f5153 218px,#4e5952 224px,#4d6550 228px,#4b734f 234px,#4b7d4e 238px,#4a814e 244px,#498e4c 248px,#48a24a 254px,#49b24b 258px,#4bbe4d 264px,#4ee350 268px,#53ed50 274px,#59fc50 278px,#95cd38 284px,#fa8304 288px,#df4600 294px,#cb2b00 298px,#c32200 304px,#cb2a00 308px,#de4500 314px,#fd8002 318px,#c6aa21 324px,#73ea46 328px,#60f84e 334px,#58f850 338px,#56f350 344px,#51e950 348px,#4dd34f 354px,#4cc84e 358px,#4edd50 364px,#52ec50 368px,#56f550 374px,#75e845 378px,#85db3f 384px,#a3c032 388px,#b3b52a 394px,#c5ab22 398px,#da9e17 404px)"></div>
<div style="left:424.5px;top:4.5px;width:5.6px;height:403.9px;background:linear-gradient(#560356 0px,#560356 28px,#560456 34px,#560456 58px,#560e56 64px,#523b55 68px,#4c704f 74px,#4b734f 78px,#4b7a4e 84px,#4a824d 88px,#4a864d 94px,#4b7b4e 98px,#4c6f4f 104px,#4f5652 108px,#504954 114px,#533555 118px,#542a56 124px,#561456 128px,#560956 134px,#560756 138px,#560656 144px,#560756 148px,#560756 168px,#560b56 174px,#551856 178px,#551d56 184px,#542b56 188px,#533355 194px,#533855 198px,#514255 204px,#504d53 208px,#4f5452 214px,#4f5752 218px,#4d5f51 224px,#4c6c50 228px,#4b7b4e 234px,#4a854d 238px,#4a894d 244px,#49964b 248px,#49aa4b 254px,#4aba4c 258px,#4bc74d 264px,#50e750 268px,#55f250 274px,#5dfa4f 278px,#99c936 284px,#fb8103 288px,#dc4200 294px,#c82800 298px,#c01f00 304px,#c82800 308px,#dc4100 314px,#fe7e01 318px,#caa81f 324px,#78e644 328px,#65f54c 334px,#59fc50 338px,#57f750 344px,#53ed50 348px,#4ddb4f 354px,#4cd14e 358px,#4fe450 364px,#54f050 368px,#58f950 374px,#7ae443 378px,#89d73d 384px,#a8bc30 388px,#b7b329 394px,#c8a920 398px,#dd9b15 404px)"></div>
<div style="left:429.5px;top:4.5px;width:5.6px;height:403.9px;background:linear-gradient(#560356 0px,#560356 14px,#560456 18px,#560456 58px,#561156 64px,#523e55 68px,#4b734f 74px,#4b764f 78px,#4b7e4e 84px,#4a854d 88px,#4a894d 94px,#4a7f4e 98px,#4b724f 104px,#4e5952 108px,#504c53 114px,#533755 118px,#542c56 124px,#551556 128px,#560956 134px,#560756 138px,#560756 154px,#560856 158px,#560856 168px,#560c56 174px,#551956 178px,#551e56 184px,#542d56 188px,#533455 194px,#523955 198px,#514454 204px,#504f53 208px,#4f5652 214px,#4e5852 218px,#4d6151 224px,#4c6e50 228px,#4b7d4e 234px,#4a874d 238px,#4a8b4c 244px,#49994b 248px,#49ad4b 254px,#4bbd4d 258px,#4cc94e 264px,#51e850 268px,#55f350 274px,#5ff94e 278px,#9bc836 284px,#fc8103 288px,#dc4100 294px,#c82700 298px,#c01f00 304px,#c82700 308px,#db4000 314px,#fe7e01 318px,#cba71f 324px,#7ae543 328px,#66f34b 334px,#5afd50 338px,#58f850 344px,#53ee50 348px,#4ede50 354px,#4dd34f 358px,#4fe550 364px,#55f150 368px,#59fa50 374px,#7ce343 378px,#8bd63c 384px,#a9bb30 388px,#b8b328 394px,#c9a81f 398px,#de9b15 404px)"></div>
<div style="left:434.5px;top:4.5px;width:5.6px;height:403.9px;background:linear-gradient(#560156 0px,#560156 14px,#560256 18px,#560256 58px,#560d56 64px,#533855 68px,#4c6a50 74px,#4c6e50 78px,#4b754f 84px,#4b7d4e 88px,#4a814d 94px,#4b764f 98px,#4c6a50 104px,#4f5253 108px,#514554 114px,#533155 118px,#542556 124px,#561056 128px,#560756 134px,#560556 138px,#560556 154px,#560656 158px,#560656 168px,#560a56 174px,#561456 178px,#551956 184px,#542656 188px,#542e56 194px,#533355 198px,#523d55 204px,#514854 208px,#504e53 214px,#4f5153 218px,#4e5952 224px,#4d6550 228px,#4b734f 234px,#4b7e4e 238px,#4a814d 244px,#498f4c 248px,#48a24a 254px,#4ab24c 258px,#4bbf4d 264px,#4fe350 268px,#53ee50 274px,#59fc50 278px,#95cd38 284px,#fa8304 288px,#df4600 294px,#cb2a00 298px,#c22200 304px,#ca2a00 308px,#de4400 314px,#fd8002 318px,#c6aa21 324px,#73e946 328px,#60f84e 334px,#58f850 338px,#56f350 344px,#51e950 348px,#4dd34f 354px,#4cc84e 358px,#4edd50 364px,#52ec50 368px,#57f550 374px,#75e845 378px,#85db3f 384px,#a4c032 388px,#b3b52a 394px,#c5ab22 398px,#da9d17 404px)"></div>
<div style="left:439.5px;top:4.5px;width:5.6px;height:403.9px;background:linear-gradient(#560256 0px,#560256 18px,#560356 24px,#560356 58px,#561156 64px,#523c55 68px,#4c6f4f 74px,#4b734f 78px,#4b7a4e 84px,#4a824d 88px,#4a864d 94px,#4b7b4e 98px,#4c6f4f 104px,#4f5652 108px,#504954 114px,#533455 118px,#542856 124px,#561256 128px,#560856 134px,#560656 138px,#560656 158px,#560756 164px,#560756 168px,#560a56 174px,#551656 178px,#551b56 184px,#542956 188px,#533055 194px,#533555 198px,#523f55 204px,#504b54 208px,#4f5153 214px,#4f5452 218px,#4e5c51 224px,#4c6850 228px,#4b774f 234px,#4a814d 238px,#4a854d 244px,#49934c 248px,#48a64a 254px,#4ab64c 258px,#4bc34d 264px,#4fe550 268px,#54f050 274px,#5bfc50 278px,#97cb37 284px,#fb8203 288px,#de4400 294px,#c92900 298px,#c12000 304px,#c92900 308px,#dd4300 314px,#fd7f01 318px,#c8a920 324px,#76e745 328px,#63f64d 334px,#59fa50 338px,#57f550 344px,#52eb50 348px,#4dd74f 354px,#4ccd4e 358px,#4ee250 364px,#53ee50 368px,#57f750 374px,#78e644 378px,#87d93e 384px,#a6be31 388px,#b5b429 394px,#c7aa21 398px,#dc9c16 404px)"></div>
<div style="left:444.5px;top:4.5px;width:5.6px;height:403.9px;background:linear-gradient(#560056 0px,#560056 58px,#560c56 64px,#533555 68px,#4d6550 74px,#4c6850 78px,#4c6f4f 84px,#4b774f 88px,#4b7b4e 94px,#4c704f 98px,#4d6550 104px,#504e53 108px,#524055 114px,#542b56 118px,#551f56 124px,#560c56 128px,#560556 134px,#560356 138px,#560356 154px,#560456 158px,#560456 168px,#560856 174px,#560f56 178px,#561456 184px,#552056 188px,#542856 194px,#542d56 198px,#533755 204px,#524155 208px,#514854 214px,#504b54 218px,#4f5353 224px,#4d5f51 228px,#4c6b50 234px,#4b754f 238px,#4b794e 244px,#4a864d 248px,#49994b 254px,#49a84b 258px,#4ab54c 264px,#4ddb4f 268px,#51e950 274px,#57f750 278px,#91d13a 284px,#f98405 288px,#e14900 294px,#cd2d00 298px,#c52400 304px,#cd2d00 308px,#e14800 314px,#fb8103 318px,#c2ad23 324px,#6eee48 328px,#5bfc50 334px,#56f350 338px,#54ef50 344px,#4fe450 348px,#4cca4e 354px,#4bbf4d 358px,#4dd44f 364px,#50e750 368px,#55f150 374px,#70ec47 378px,#80df41 384px,#9fc434 388px,#afb82c 394px,#c1ad24 398px,#d7a018 404px)"></div>
<div style="left:449.5px;top:4.5px;width:5.6px;height:403.9px;background:linear-gradient(#560256 0px,#560256 14px,#560356 18px,#560356 58px,#561456 64px,#524055 68px,#4b724f 74px,#4b764f 78px,#4b7d4e 84px,#4a854d 88px,#4a894d 94px,#4b7e4e 98px,#4b724f 104px,#4e5852 108px,#504b53 114px,#533555 118px,#542856 124px,#561356 128px,#560856 134px,#560656 138px,#560656 154px,#560756 158px,#560756 168px,#560b56 174px,#551656 178px,#551b56 184px,#542956 188px,#533155 194px,#533655 198px,#524055 204px,#504b53 208px,#4f5253 214px,#4f5452 218px,#4e5d51 224px,#4c6950 228px,#4b784e 234px,#4a824d 238px,#4a864d 244px,#49944c 248px,#48a74a 254px,#4ab74c 258px,#4bc44d 264px,#50e650 268px,#54f050 274px,#5cfc4f 278px,#98ca37 284px,#fb8203 288px,#dd4400 294px,#c92900 298px,#c12000 304px,#c92900 308px,#dd4200 314px,#fe7f01 318px,#c8a920 324px,#76e745 328px,#63f64c 334px,#59fa50 338px,#57f650 344px,#52eb50 348px,#4dd84f 354px,#4cce4e 358px,#4ee250 364px,#53ee50 368px,#58f850 374px,#78e544 378px,#88d93e 384px,#a6be31 388px,#b5b429 394px,#c7aa21 398px,#dc9c16 404px)"></div>
<div style="left:454.5px;top:4.5px;width:5.6px;height:403.9px;background:linear-gradient(#560256 0px,#560256 24px,#560356 28px,#560356 58px,#551556 64px,#524155 68px,#4b724f 74px,#4b764f 78px,#4b7e4e 84px,#4a854d 88px,#4a894d 94px,#4b7e4e 98px,#4b724f 104px,#4e5852 108px,#504b54 114px,#533455 118px,#542756 124px,#561256 128px,#560856 134px,#560656 138px,#560556 144px,#560656 148px,#560656 158px,#560756 164px,#560756 168px,#560a56 174px,#551656 178px,#551b56 184px,#542956 188px,#533055 194px,#533555 198px,#523f55 204px,#504a54 208px,#4f5153 214px,#4f5452 218px,#4e5c51 224px,#4c6850 228px,#4b774f 234px,#4a814d 238px,#4a854d 244px,#49924c 248px,#48a64a 254px,#4ab64c 258px,#4bc34d 264px,#4fe550 268px,#54ef50 274px,#5bfc50 278px,#97cb37 284px,#fb8203 288px,#de4400 294px,#c92900 298px,#c12100 304px,#c92900 308px,#dd4300 314px,#fd7f01 318px,#c8a920 324px,#76e845 328px,#62f64d 334px,#58fa50 338px,#56f550 344px,#52eb50 348px,#4dd74f 354px,#4ccc4e 358px,#4ee150 364px,#53ee50 368px,#57f750 374px,#78e644 378px,#87d93e 384px,#a6be31 388px,#b5b42a 394px,#c6aa21 398px,#dc9c16 404px)"></div>
<div style="left:459.5px;top:4.5px;width:5.6px;height:403.9px;background:linear-gradient(#560356 0px,#560356 4px,#560456 8px,#560456 48px,#560556 54px,#560556 58px,#551a56 64px,#514854 68px,#4b7a4e 74px,#4b7e4e 78px,#4a864d 84px,#498d4c 88px,#49914c 94px,#4a864d 98px,#4b7a4e 104px,#4d5e51 108px,#4f5153 114px,#523955 118px,#542c56 124px,#551656 128px,#560956 134px,#560756 138px,#560756 154px,#560856 158px,#560856 168px,#560c56 174px,#551956 178px,#551e56 184px,#542e56 188px,#533555 194px,#523a55 198px,#514554 204px,#505053 208px,#4f5652 214px,#4e5952 218px,#4d6251 224px,#4c6f4f 228px,#4b7e4e 234px,#4a884d 238px,#4a8c4c 244px,#499a4b 248px,#49ae4b 254px,#4bbe4d 258px,#4cca4e 264px,#51e950 268px,#56f350 274px,#5ff94e 278px,#9bc735 284px,#fc8102 288px,#dc4100 294px,#c72700 298px,#bf1e00 304px,#c72700 308px,#db4000 314px,#fe7e00 318px,#cba71e 324px,#7ae443 328px,#67f34b 334px,#5afd50 338px,#58f950 344px,#54ee50 348px,#4edf50 354px,#4dd44f 358px,#50e550 364px,#55f150 368px,#59fb50 374px,#7ce342 378px,#8bd63c 384px,#a9bb2f 388px,#b8b228 394px,#caa81f 398px,#de9a15 404px)"></div>
<div style="left:464.5px;top:4.5px;width:5.6px;height:403.9px;background:linear-gradient(#560356 0px,#560356 34px,#560456 38px,#560456 58px,#551a56 64px,#514754 68px,#4b784e 74px,#4b7c4e 78px,#4a834d 84px,#4a8b4c 88px,#498e4c 94px,#4a834d 98px,#4b774e 104px,#4e5c51 108px,#504f53 114px,#533755 118px,#542a56 124px,#561456 128px,#560956 134px,#560756 138px,#560656 144px,#560656 148px,#560756 154px,#560756 168px,#560b56 174px,#551856 178px,#551c56 184px,#542b56 188px,#533355 194px,#533855 198px,#514255 204px,#504d53 208px,#4f5452 214px,#4f5652 218px,#4d5f51 224px,#4c6b50 228px,#4b7a4e 234px,#4a854d 238px,#4a884d 244px,#49964b 248px,#49aa4b 254px,#4aba4c 258px,#4bc74d 264px,#50e750 268px,#55f150 274px,#5dfb4f 278px,#99c936 284px,#fb8103 288px,#dd4300 294px,#c82800 298px,#c01f00 304px,#c82800 308px,#dc4100 314px,#fe7e01 318px,#caa81f 324px,#78e644 328px,#65f54c 334px,#59fb50 338px,#57f750 344px,#53ed50 348px,#4ddb4f 354px,#4cd04e 358px,#4fe450 364px,#54f050 368px,#58f950 374px,#7ae443 378px,#89d83d 384px,#a8bc30 388px,#b7b329 394px,#c8a920 398px,#dd9b15 404px)"></div>
<div style="left:469.5px;top:4.5px;width:5.6px;height:403.9px;background:linear-gradient(#560056 0px,#560056 4px,#560156 8px,#560156 58px,#551556 64px,#524055 68px,#4c6e50 74px,#4b724f 78px,#4b794e 84px,#4a804e 88px,#4a844d 94px,#4b794e 98px,#4c6d50 104px,#4f5552 108px,#514754 114px,#533055 118px,#552256 124px,#560e56 128px,#560656 134px,#560456 138px,#560456 154px,#560556 158px,#560556 168px,#560956 174px,#561256 178px,#551756 184px,#542356 188px,#542b56 194px,#533055 198px,#523a55 204px,#514554 208px,#504b53 214px,#504e53 218px,#4f5752 224px,#4d6251 228px,#4c6f4f 234px,#4b7a4e 238px,#4b7d4e 244px,#4a8b4c 248px,#489e4a 254px,#49ae4b 258px,#4aba4c 264px,#4ee050 268px,#52ec50 274px,#59fa50 278px,#93cf39 284px,#f98304 288px,#e04700 294px,#cc2c00 298px,#c42300 304px,#cc2b00 308px,#df4600 314px,#fc8002 318px,#c4ab22 324px,#71eb47 328px,#5efa4f 334px,#57f650 338px,#55f150 344px,#50e750 348px,#4ccf4e 354px,#4bc44d 358px,#4dd94f 364px,#51ea50 368px,#56f350 374px,#73ea46 378px,#83dd40 384px,#a1c233 388px,#b1b72b 394px,#c3ac23 398px,#d99e17 404px)"></div>
<div style="left:474.5px;top:4.5px;width:5.6px;height:403.9px;background:linear-gradient(#560156 0px,#560156 28px,#560256 34px,#560256 58px,#551756 64px,#514354 68px,#4b714f 74px,#4b754f 78px,#4b7c4e 84px,#4a834d 88px,#4a874d 94px,#4b7c4e 98px,#4c704f 104px,#4f5752 108px,#504954 114px,#533155 118px,#542456 124px,#560f56 128px,#560756 134px,#560556 138px,#560456 144px,#560556 148px,#560556 164px,#560656 168px,#560956 174px,#561356 178px,#551856 184px,#542556 188px,#542c56 194px,#533155 198px,#523b55 204px,#514654 208px,#504d53 214px,#505053 218px,#4e5852 224px,#4d6451 228px,#4b724f 234px,#4b7c4e 238px,#4a7f4e 244px,#498d4c 248px,#48a04a 254px,#49b04b 258px,#4abc4c 264px,#4ee250 268px,#53ed50 274px,#59fb50 278px,#94ce38 284px,#fa8304 288px,#df4600 294px,#cb2b00 298px,#c32200 304px,#cb2b00 308px,#df4500 314px,#fc8002 318px,#c5ab21 324px,#72ea46 328px,#5ff94e 334px,#57f750 338px,#55f250 344px,#51e850 348px,#4cd14e 354px,#4bc64d 358px,#4ddb4f 364px,#52eb50 368px,#56f450 374px,#74e946 378px,#84dc3f 384px,#a3c132 388px,#b2b62b 394px,#c4ac22 398px,#da9e17 404px)"></div>
<div style="left:479.5px;top:4.5px;width:5.6px;height:403.9px;background:linear-gradient(#560256 0px,#560256 18px,#560356 24px,#560356 58px,#551b56 64px,#514954 68px,#4b774f 74px,#4b7b4e 78px,#4a834d 84px,#4a8a4d 88px,#498e4c 94px,#4a834d 98px,#4b764f 104px,#4e5c52 108px,#504e53 114px,#533555 118px,#542856 124px,#561256 128px,#560856 134px,#560656 138px,#560656 158px,#560756 164px,#560756 168px,#560a56 174px,#551656 178px,#551b56 184px,#542956 188px,#533055 194px,#533555 198px,#524055 204px,#504b54 208px,#4f5153 214px,#4f5452 218px,#4e5d51 224px,#4c6850 228px,#4b774e 234px,#4a824d 238px,#4a854d 244px,#49934c 248px,#48a64a 254px,#4ab74c 258px,#4bc34d 264px,#50e550 268px,#54f050 274px,#5bfc50 278px,#97cb37 284px,#fb8203 288px,#de4400 294px,#c92900 298px,#c12000 304px,#c92900 308px,#dd4300 314px,#fd7f01 318px,#c8a920 324px,#76e745 328px,#63f64d 334px,#59fa50 338px,#57f550 344px,#52eb50 348px,#4dd84f 354px,#4ccd4e 358px,#4ee250 364px,#53ee50 368px,#57f750 374px,#78e644 378px,#87d93e 384px,#a6be31 388px,#b5b429 394px,#c7aa21 398px,#dc9c16 404px)"></div>
<div style="left:484.5px;top:4.5px;width:5.6px;height:403.9px;background:linear-gradient(#560056 0px,#560056 58px,#561556 64px,#524055 68px,#4c6a50 74px,#4c6e4f 78px,#4b764f 84px,#4b7d4e 88px,#4a814d 94px,#4b764f 98px,#4c6a50 104px,#4f5253 108px,#514554 114px,#542c56 118px,#551e56 124px,#560c56 128px,#560556 134px,#560356 138px,#560356 154px,#560456 158px,#560456 168px,#560856 174px,#560f56 178px,#561456 184px,#552056 188px,#542756 194px,#542c56 198px,#533655 204px,#524155 208px,#514754 214px,#504a54 218px,#4f5353 224px,#4d5e51 228px,#4c6a50 234px,#4b744f 238px,#4b784e 244px,#4a864d 248px,#49994b 254px,#49a84b 258px,#4ab44c 264px,#4dda4f 268px,#51e950 274px,#57f750 278px,#90d13a 284px,#f98405 288px,#e24900 294px,#cd2e00 298px,#c52500 304px,#cd2e00 308px,#e14800 314px,#fb8103 318px,#c2ad23 324px,#6dee48 328px,#5afd50 334px,#55f350 338px,#53ee50 344px,#4fe450 348px,#4cc94e 354px,#4bbe4d 358px,#4dd34f 364px,#50e750 368px,#54f050 374px,#6fec47 378px,#80e041 384px,#9ec534 388px,#afb82d 394px,#c0ae24 398px,#d7a019 404px)"></div>
<div style="left:489.5px;top:4.5px;width:5.6px;height:403.9px;background:linear-gradient(#560156 0px,#560156 14px,#560256 18px,#560256 58px,#551a56 64px,#514754 68px,#4b744f 74px,#4b784e 78px,#4a7f4e 84px,#4a864d 88px,#4a8a4d 94px,#4a7f4e 98px,#4b734f 104px,#4e5952 108px,#504c53 114px,#533355 118px,#542556 124px,#561056 128px,#560756 134px,#560556 138px,#560556 158px,#560656 164px,#560656 168px,#560a56 174px,#561456 178px,#551956 184px,#542656 188px,#542e56 194px,#533355 198px,#523c55 204px,#514754 208px,#504e53 214px,#4f5153 218px,#4e5952 224px,#4d6550 228px,#4b734f 234px,#4b7d4e 238px,#4a814d 244px,#498f4c 248px,#48a24a 254px,#49b24b 258px,#4bbe4d 264px,#4fe350 268px,#53ed50 274px,#59fc50 278px,#95cd38 284px,#fa8304 288px,#df4600 294px,#cb2a00 298px,#c22200 304px,#ca2a00 308px,#de4500 314px,#fd8002 318px,#c6aa21 324px,#73e946 328px,#60f84e 334px,#58f850 338px,#56f350 344px,#51e950 348px,#4dd34f 354px,#4cc84e 358px,#4edd50 364px,#52ec50 368px,#56f550 374px,#75e845 378px,#85db3f 384px,#a3c032 388px,#b3b62b 394px,#c4ab22 398px,#da9e17 404px)"></div>
<div style="left:494.5px;top:4.5px;width:5.6px;height:403.9px;background:linear-gradient(#560056 0px,#560056 28px,#560156 34px,#560156 58px,#551756 64px,#514354 68px,#4c6e4f 74px,#4b724f 78px,#4b794e 84px,#4a814e 88px,#4a844d 94px,#4b794e 98px,#4c6d50 104px,#4f5552 108px,#514754 114px,#532f55 118px,#552156 124px,#560d56 128px,#560656 134px,#560456 138px,#560356 144px,#560456 148px,#560456 164px,#560556 168px,#560856 174px,#561056 178px,#551556 184px,#552256 188px,#542956 194px,#532e55 198px,#533855 204px,#514354 208px,#504a54 214px,#504c53 218px,#4f5552 224px,#4d6151 228px,#4c6d50 234px,#4b774f 238px,#4b7b4e 244px,#4a894d 248px,#489c4b 254px,#49ab4b 258px,#4ab74c 264px,#4ede50 268px,#52ea50 274px,#58f850 278px,#92d039 284px,#f98405 288px,#e14800 294px,#cc2c00 298px,#c42400 304px,#cc2c00 308px,#e04700 314px,#fc8103 318px,#c3ac22 324px,#6fec47 328px,#5cfb4f 334px,#56f450 338px,#54f050 344px,#4fe550 348px,#4ccb4e 354px,#4bc14d 358px,#4dd64f 364px,#51e850 368px,#55f150 374px,#71eb47 378px,#81df40 384px,#9fc434 388px,#b0b82c 394px,#c1ad23 398px,#d7a018 404px)"></div>
<div style="left:499.5px;top:4.5px;width:5.6px;height:403.9px;background:linear-gradient(#560056 0px,#560056 34px,#560156 38px,#560156 58px,#551656 64px,#514255 68px,#4c6d50 74px,#4b714f 78px,#4b784e 84px,#4a804e 88px,#4a834d 94px,#4b784e 98px,#4c6c50 104px,#4f5452 108px,#514654 114px,#542e56 118px,#552056 124px,#560d56 128px,#560656 134px,#560456 138px,#560356 144px,#560356 148px,#560456 154px,#560456 168px,#560856 174px,#561056 178px,#561556 184px,#552156 188px,#542956 194px,#542e56 198px,#533755 204px,#514255 208px,#504954 214px,#504b53 218px,#4f5452 224px,#4d6051 228px,#4c6c50 234px,#4b764f 238px,#4b7a4e 244px,#4a884d 248px,#499b4b 254px,#49aa4b 258px,#4ab64c 264px,#4ddd4f 268px,#51ea50 274px,#58f850 278px,#91d03a 284px,#f98405 288px,#e14900 294px,#cd2d00 298px,#c52400 304px,#cd2d00 308px,#e04700 314px,#fc8103 318px,#c3ac23 324px,#6fed48 328px,#5bfc50 334px,#56f350 338px,#54ef50 344px,#4fe450 348px,#4cc94e 354px,#4bbf4d 358px,#4dd44f 364px,#50e750 368px,#54f050 374px,#6fed47 378px,#80e041 384px,#9ec534 388px,#aeb82d 394px,#c0ae24 398px,#d6a019 404px)"></div>
<div style="left:504.5px;top:4.5px;width:5.6px;height:403.9px;background:linear-gradient(#560056 0px,#560056 58px,#551656 64px,#524155 68px,#4c6b50 74px,#4c704f 78px,#4b774f 84px,#4b7e4e 88px,#4a824d 94px,#4b774f 98px,#4c6b50 104px,#4f5353 108px,#514554 114px,#542d56 118px,#551f56 124px,#560c56 128px,#560556 134px,#560356 138px,#560356 154px,#560456 158px,#560456 168px,#560856 174px,#560f56 178px,#561456 184px,#552056 188px,#542856 194px,#542d56 198px,#533755 204px,#524155 208px,#514854 214px,#504b54 218px,#4f5353 224px,#4d5f51 228px,#4c6b50 234px,#4b754f 238px,#4b794e 244px,#4a864d 248px,#49994b 254px,#49a84b 258px,#4ab54c 264px,#4ddb4f 268px,#51e950 274px,#57f750 278px,#91d13a 284px,#f98405 288px,#e14900 294px,#cd2d00 298px,#c52400 304px,#cd2d00 308px,#e14800 314px,#fb8103 318px,#c2ad23 324px,#6eee48 328px,#5afd50 334px,#55f250 338px,#53ee50 344px,#4fe350 348px,#4bc74d 354px,#4abc4c 358px,#4cd14e 364px,#50e650 368px,#54ef50 374px,#6dee48 378px,#7ee142 384px,#9cc735 388px,#acb92e 394px,#beaf25 398px,#d5a21a 404px)"></div>
<div style="left:509.5px;top:4.5px;width:5.6px;height:403.9px;background:linear-gradient(#560256 0px,#560356 4px,#560356 48px,#560456 54px,#560456 58px,#551d56 64px,#504b53 68px,#4b7a4e 74px,#4b7e4e 78px,#4a854d 84px,#4a8c4c 88px,#49904c 94px,#4a854d 98px,#4b794e 104px,#4e5e51 108px,#4f5053 114px,#533755 118px,#542956 124px,#561456 128px,#560856 134px,#560656 138px,#560656 154px,#560756 158px,#560756 168px,#560b56 174px,#551756 178px,#551c56 184px,#542a56 188px,#533255 194px,#533755 198px,#524155 204px,#504c53 208px,#4f5353 214px,#4f5652 218px,#4e5e51 224px,#4c6a50 228px,#4b794e 234px,#4a844d 238px,#4a874d 244px,#49954b 248px,#49a94b 254px,#4ab94c 258px,#4bc54d 264px,#50e650 268px,#55f150 274px,#5cfb4f 278px,#99ca36 284px,#fb8203 288px,#dd4300 294px,#c92900 298px,#c12000 304px,#c92800 308px,#dc4200 314px,#fe7e01 318px,#c9a81f 324px,#77e644 328px,#63f64d 334px,#58f950 338px,#56f550 344px,#52ea50 348px,#4dd64f 354px,#4ccb4e 358px,#4edf50 364px,#53ec50 368px,#57f550 374px,#75e845 378px,#85dc3f 384px,#a2c132 388px,#b2b62b 394px,#c3ac23 398px,#d89f18 404px)"></div>
<div style="left:514.5px;top:4.5px;width:5.6px;height:403.9px;background:linear-gradient(#560056 0px,#560056 34px,#560156 38px,#560156 58px,#551556 64px,#524055 68px,#4c6c50 74px,#4b704f 78px,#4b784e 84px,#4a7f4e 88px,#4a834d 94px,#4b784e 98px,#4c6b50 104px,#4f5353 108px,#514654 114px,#542e56 118px,#552056 124px,#560d56 128px,#560656 134px,#560456 138px,#560356 144px,#560356 148px,#560456 154px,#560456 168px,#560856 174px,#561056 178px,#551556 184px,#552156 188px,#542956 194px,#542e56 198px,#533855 204px,#514254 208px,#504954 214px,#504c53 218px,#4f5452 224px,#4d6051 228px,#4c6c50 234px,#4b764f 238px,#4b7a4e 244px,#4a884d 248px,#499b4b 254px,#49aa4b 258px,#4ab74c 264px,#4edd50 268px,#51ea50 274px,#58f850 278px,#91d03a 284px,#f98405 288px,#e14800 294px,#cd2d00 298px,#c42400 304px,#cc2d00 308px,#e04700 314px,#fc8103 318px,#c3ac23 324px,#6fed48 328px,#5afd50 334px,#55f250 338px,#53ed50 344px,#4ee250 348px,#4bc54d 354px,#4aba4c 358px,#4cce4e 364px,#4fe450 368px,#53ed50 374px,#6af049 378px,#7be443 384px,#99ca36 388px,#a9bb2f 394px,#bab127 398px,#d1a41c 404px)"></div>
<div style="left:519.5px;top:4.5px;width:5.6px;height:403.9px;background:linear-gradient(#560056 0px,#560056 14px,#560156 18px,#560156 58px,#551656 64px,#524155 68px,#4c6e4f 74px,#4b724f 78px,#4b794e 84px,#4a814e 88px,#4a844d 94px,#4b794e 98px,#4c6d50 104px,#4f5552 108px,#514754 114px,#532f55 118px,#552256 124px,#560e56 128px,#560656 134px,#560456 138px,#560456 154px,#560556 158px,#560556 168px,#560956 174px,#561156 178px,#551656 184px,#552356 188px,#542a56 194px,#532f55 198px,#523955 204px,#514454 208px,#504b54 214px,#504d53 218px,#4f5652 224px,#4d6251 228px,#4c6f4f 234px,#4b794e 238px,#4b7c4e 244px,#4a8a4d 248px,#489d4a 254px,#49ad4b 258px,#4ab94c 264px,#4ee050 268px,#52eb50 274px,#58f950 278px,#93cf39 284px,#f98404 288px,#e04700 294px,#cc2c00 298px,#c42300 304px,#cc2c00 308px,#df4600 314px,#fc8002 318px,#c4ab22 324px,#70ec47 328px,#5afd50 334px,#55f250 338px,#53ed50 344px,#4ee250 348px,#4bc54d 354px,#4aba4c 358px,#4cce4e 364px,#4fe450 368px,#53ed50 374px,#69f14a 378px,#7ae443 384px,#97cb37 388px,#a8bc30 394px,#b9b228 398px,#cfa51d 404px)"></div>
<div style="left:524.5px;top:4.5px;width:5.6px;height:403.9px;background:linear-gradient(#560156 0px,#560156 28px,#560256 34px,#560256 58px,#551656 64px,#514255 68px,#4c704f 74px,#4b744f 78px,#4b7c4e 84px,#4a834d 88px,#4a874d 94px,#4b7c4e 98px,#4c6f4f 104px,#4f5752 108px,#504954 114px,#533155 118px,#542456 124px,#560f56 128px,#560756 134px,#560556 138px,#560456 144px,#560556 148px,#560556 164px,#560656 168px,#560956 174px,#561356 178px,#551856 184px,#542556 188px,#542c56 194px,#533155 198px,#523b55 204px,#514654 208px,#504d53 214px,#505053 218px,#4e5852 224px,#4d6451 228px,#4b724f 234px,#4b7c4e 238px,#4a7f4e 244px,#498d4c 248px,#48a04a 254px,#49b04b 258px,#4abd4c 264px,#4ee250 268px,#53ed50 274px,#59fb50 278px,#94ce38 284px,#fa8304 288px,#df4600 294px,#cb2b00 298px,#c32200 304px,#cb2b00 308px,#df4500 314px,#fc8002 318px,#c5ab21 324px,#72ea46 328px,#5bfc4f 334px,#55f250 338px,#53ee50 344px,#4ee350 348px,#4bc54d 354px,#4abb4c 358px,#4cce4e 364px,#4fe450 368px,#52ec50 374px,#68f24a 378px,#79e544 384px,#96cc38 388px,#a6be31 394px,#b7b329 398px,#cda61e 404px)"></div>
<div style="left:529.5px;top:4.5px;width:5.6px;height:403.9px;background:linear-gradient(#560356 0px,#560356 24px,#560456 28px,#560456 58px,#551a56 64px,#514854 68px,#4b794e 74px,#4b7d4e 78px,#4a844d 84px,#4a8c4c 88px,#49904c 94px,#4a854d 98px,#4b784e 104px,#4e5d51 108px,#505053 114px,#533855 118px,#542b56 124px,#561556 128px,#560956 134px,#560756 138px,#560656 144px,#560756 148px,#560756 164px,#560856 168px,#560b56 174px,#551856 178px,#551d56 184px,#542c56 188px,#533355 194px,#533855 198px,#514354 204px,#504e53 208px,#4f5552 214px,#4e5752 218px,#4d6051 224px,#4c6c50 228px,#4b7b4e 234px,#4a864d 238px,#4a894d 244px,#49974b 248px,#49ab4b 254px,#4abb4c 258px,#4cc84e 264px,#50e850 268px,#55f250 274px,#5efa4f 278px,#9ac936 284px,#fb8103 288px,#dc4200 294px,#c82800 298px,#c01f00 304px,#c82800 308px,#db4100 314px,#fe7e01 318px,#caa81f 324px,#79e544 328px,#61f84d 334px,#57f650 338px,#55f150 344px,#50e650 348px,#4ccd4e 354px,#4bc24d 358px,#4dd54f 364px,#50e750 368px,#54ef50 374px,#6bf049 378px,#7be343 384px,#97cb37 388px,#a7bc30 394px,#b8b228 398px,#cda61d 404px)"></div>
<div style="left:534.5px;top:4.5px;width:5.6px;height:403.9px;background:linear-gradient(#560056 0px,#560056 44px,#560156 48px,#560156 58px,#561156 64px,#523a55 68px,#4c6850 74px,#4c6c50 78px,#4b734f 84px,#4b7b4e 88px,#4a7e4e 94px,#4b744f 98px,#4c6850 104px,#4f5053 108px,#514354 114px,#542c56 118px,#551f56 124px,#560c56 128px,#560556 134px,#560356 138px,#560356 148px,#560456 154px,#560456 168px,#560856 174px,#561056 178px,#561456 184px,#552056 188px,#542856 194px,#542d56 198px,#533755 204px,#524255 208px,#514854 214px,#504b54 218px,#4f5353 224px,#4d5f51 228px,#4c6b50 234px,#4b754f 238px,#4b794e 244px,#4a874d 248px,#499a4b 254px,#49a94b 258px,#4ab54c 264px,#4ddc4f 268px,#51e950 274px,#58f850 278px,#91d13a 284px,#f98405 288px,#e14900 294px,#cd2d00 298px,#c52400 304px,#cd2d00 308px,#e04800 314px,#fb8103 318px,#c2ac23 324px,#6eed48 328px,#58f950 334px,#53ec50 338px,#50e750 344px,#4dd64f 348px,#4ab74c 354px,#49ac4b 358px,#4bbf4d 364px,#4dd54f 368px,#4fe450 374px,#5dfb4f 378px,#6dee48 384px,#8ad73d 388px,#9ac836 394px,#acb92e 398px,#c1ad23 404px)"></div>
<div style="left:539.5px;top:4.5px;width:5.6px;height:403.9px;background:linear-gradient(#560156 0px,#560156 18px,#560256 24px,#560256 58px,#561356 64px,#523e55 68px,#4c6e4f 74px,#4b724f 78px,#4b7a4e 84px,#4a814d 88px,#4a854d 94px,#4b7a4e 98px,#4c6e4f 104px,#4f5552 108px,#514854 114px,#533155 118px,#542556 124px,#561056 128px,#560756 134px,#560556 138px,#560556 158px,#560656 164px,#560656 168px,#560a56 174px,#561456 178px,#551856 184px,#542656 188px,#542d56 194px,#533255 198px,#523c55 204px,#514754 208px,#504e53 214px,#4f5153 218px,#4e5952 224px,#4d6550 228px,#4b734f 234px,#4b7d4e 238px,#4a814e 244px,#498e4c 248px,#48a14a 254px,#49b14b 258px,#4bbe4d 264px,#4ee350 268px,#53ed50 274px,#59fc50 278px,#95cd38 284px,#fa8304 288px,#df4600 294px,#cb2b00 298px,#c32200 304px,#cb2a00 308px,#de4500 314px,#fd8002 318px,#c6aa21 324px,#73ea46 328px,#5afc50 334px,#54ef50 338px,#51ea50 344px,#4dda4f 348px,#4abc4c 354px,#49b14b 358px,#4bc24d 364px,#4dd84f 368px,#4fe550 374px,#5dfa4f 378px,#6eed48 384px,#8ad73d 388px,#9ac936 394px,#acba2e 398px,#c0ae24 404px)"></div>
<div style="left:544.5px;top:4.5px;width:5.6px;height:403.9px;background:linear-gradient(#560256 0px,#560256 44px,#560356 48px,#560356 58px,#561356 64px,#523e55 68px,#4c6f4f 74px,#4b734f 78px,#4b7b4e 84px,#4a824d 88px,#4a864d 94px,#4b7b4e 98px,#4c6f4f 104px,#4f5652 108px,#504954 114px,#533355 118px,#542656 124px,#561156 128px,#560756 134px,#560556 138px,#560556 148px,#560656 154px,#560656 168px,#560a56 174px,#561556 178px,#551a56 184px,#542756 188px,#532f55 194px,#533455 198px,#523e55 204px,#504954 208px,#505053 214px,#4f5253 218px,#4e5b52 224px,#4c6650 228px,#4b754f 234px,#4a7f4e 238px,#4a834d 244px,#49904c 248px,#48a44a 254px,#4ab44c 258px,#4bc04d 264px,#4fe450 268px,#54ee50 274px,#5afd50 278px,#96cc38 284px,#fa8204 288px,#de4500 294px,#ca2a00 298px,#c22100 304px,#ca2a00 308px,#de4400 314px,#fd7f02 318px,#c7aa21 324px,#74e945 328px,#5afc50 334px,#53ee50 338px,#51e950 344px,#4dd94f 348px,#4aba4c 354px,#49af4b 358px,#4bc04d 364px,#4dd54f 368px,#4fe350 374px,#5afd50 378px,#6bf049 384px,#86da3e 388px,#96cd38 394px,#a8bc30 398px,#bbb126 404px)"></div>
<div style="left:549.5px;top:4.5px;width:5.6px;height:403.9px;background:linear-gradient(#560356 0px,#560356 24px,#560456 28px,#560456 58px,#561556 64px,#524155 68px,#4b754f 74px,#4b794e 78px,#4a804e 84px,#4a884d 88px,#4a8c4c 94px,#4a814d 98px,#4b754f 104px,#4e5a52 108px,#504d53 114px,#533755 118px,#542b56 124px,#561556 128px,#560956 134px,#560756 138px,#560656 144px,#560756 148px,#560756 158px,#560856 164px,#560856 168px,#560b56 174px,#551856 178px,#551d56 184px,#542c56 188px,#533455 194px,#533955 198px,#514354 204px,#504e53 208px,#4f5552 214px,#4e5752 218px,#4d6051 224px,#4c6c50 228px,#4b7c4e 234px,#4a864d 238px,#4a894d 244px,#49974b 248px,#49ab4b 254px,#4abb4c 258px,#4cc84e 264px,#51e850 268px,#55f250 274px,#5efa4e 278px,#9ac936 284px,#fb8103 288px,#dc4200 294px,#c82800 298px,#c01f00 304px,#c82800 308px,#db4100 314px,#fe7e01 318px,#caa81f 324px,#79e544 328px,#5cfc4f 334px,#54f050 338px,#52eb50 344px,#4ddc4f 348px,#4bbd4d 354px,#49b24b 358px,#4bc24d 364px,#4dd64f 368px,#4fe450 374px,#5afd50 378px,#6bf049 384px,#85db3f 388px,#94ce38 394px,#a6be31 398px,#b9b227 404px)"></div>
<div style="left:554.5px;top:4.5px;width:5.6px;height:403.9px;background:linear-gradient(#560356 0px,#560356 34px,#560456 38px,#560456 58px,#561256 64px,#523f55 68px,#4b724f 74px,#4b764f 78px,#4b7e4e 84px,#4a854d 88px,#4a894d 94px,#4b7e4e 98px,#4b724f 104px,#4e5852 108px,#504b53 114px,#533655 118px,#542a56 124px,#561456 128px,#560956 134px,#560756 138px,#560656 144px,#560656 148px,#560756 154px,#560756 168px,#560b56 174px,#551756 178px,#551c56 184px,#542b56 188px,#533255 194px,#533755 198px,#514255 204px,#504d53 208px,#4f5353 214px,#4f5652 218px,#4d5f51 224px,#4c6b50 228px,#4b7a4e 234px,#4a844d 238px,#4a884d 244px,#49964b 248px,#49a94b 254px,#4aba4c 258px,#4bc64d 264px,#50e750 268px,#55f150 274px,#5dfb4f 278px,#99c936 284px,#fb8103 288px,#dd4300 294px,#c82800 298px,#c01f00 304px,#c82800 308px,#dc4100 314px,#fe7e01 318px,#caa81f 324px,#78e644 328px,#5afc50 334px,#53ee50 338px,#51e850 344px,#4dd64f 348px,#4ab74c 354px,#49ab4b 358px,#4abb4c 364px,#4cce4e 368px,#4edd50 374px,#58f850 378px,#65f54c 384px,#7ee141 388px,#8dd43b 394px,#9fc434 398px,#b2b62b 404px)"></div>
<div style="left:559.5px;top:4.5px;width:5.6px;height:403.9px;background:linear-gradient(#560356 0px,#560356 28px,#560456 34px,#560456 58px,#561156 64px,#523d55 68px,#4b714f 74px,#4b754f 78px,#4b7d4e 84px,#4a854d 88px,#4a884d 94px,#4b7d4e 98px,#4b714f 104px,#4e5752 108px,#504a54 114px,#533555 118px,#542956 124px,#561456 128px,#560956 134px,#560756 138px,#560656 144px,#560756 148px,#560756 164px,#560856 168px,#560b56 174px,#551756 178px,#551c56 184px,#542a56 188px,#533255 194px,#533755 198px,#524155 204px,#504c53 208px,#4f5353 214px,#4f5652 218px,#4d5e51 224px,#4c6b50 228px,#4b7a4e 234px,#4a844d 238px,#4a884d 244px,#49954b 248px,#49a94b 254px,#4ab94c 258px,#4bc54d 264px,#50e650 268px,#54f150 274px,#5dfb4f 278px,#9ac936 284px,#fb8103 288px,#dc4200 294px,#c82800 298px,#c01f00 304px,#c82800 308px,#dc4100 314px,#fe7e01 318px,#caa81f 324px,#78e544 328px,#59fc50 334px,#52ec50 338px,#50e750 344px,#4dd24f 348px,#4ab34c 354px,#49a74b 358px,#4ab64c 364px,#4cc94e 368px,#4dd64f 374px,#56f450 378px,#60f84d 384px,#78e544 388px,#88d93e 394px,#99ca36 398px,#adb92e 404px)"></div>
<div style="left:564.5px;top:4.5px;width:5.6px;height:403.9px;background:linear-gradient(#560056 0px,#560056 8px,#560156 14px,#560156 58px,#560b56 64px,#533155 68px,#4d6351 74px,#4c6750 78px,#4c6f4f 84px,#4b774f 88px,#4b7a4e 94px,#4c6f4f 98px,#4d6351 104px,#504c53 108px,#523e55 114px,#542b56 118px,#551f56 124px,#560d56 128px,#560656 134px,#560456 138px,#560456 154px,#560556 158px,#560556 168px,#560956 174px,#561056 178px,#551556 184px,#552056 188px,#542856 194px,#542d56 198px,#533755 204px,#524155 208px,#514854 214px,#504b53 218px,#4f5452 224px,#4d6051 228px,#4c6b50 234px,#4b754f 238px,#4b794e 244px,#4a874d 248px,#499a4b 254px,#49a84b 258px,#4ab54c 264px,#4dda4f 268px,#51e950 274px,#58f850 278px,#93cf39 284px,#f98304 288px,#e04700 294px,#cc2c00 298px,#c42300 304px,#cc2c00 308px,#df4600 314px,#fc8002 318px,#c4ab22 324px,#71eb47 328px,#56f450 334px,#4fe450 338px,#4dda4f 344px,#4bc04d 348px,#48a04a 354px,#49964b 358px,#48a34a 364px,#4ab44c 368px,#4bc14d 374px,#51e950 378px,#58f750 384px,#6af14a 388px,#7ae443 394px,#8cd53c 398px,#9fc434 404px)"></div>
<div style="left:569.5px;top:4.5px;width:5.6px;height:403.9px;background:linear-gradient(#560156 0px,#560156 24px,#560256 28px,#560256 58px,#560a56 64px,#533055 68px,#4d6251 74px,#4c6750 78px,#4b704f 84px,#4b784e 88px,#4b7b4e 94px,#4c704f 98px,#4d6351 104px,#504b53 108px,#523c55 114px,#542a56 118px,#551f56 124px,#560e56 128px,#560756 134px,#560556 138px,#560456 144px,#560556 148px,#560556 164px,#560656 168px,#560956 174px,#561156 178px,#551556 184px,#552056 188px,#542756 194px,#542d56 198px,#533755 204px,#524155 208px,#514854 214px,#504b53 218px,#4f5452 224px,#4d6051 228px,#4c6b50 234px,#4b754f 238px,#4b794e 244px,#4a874d 248px,#49994b 254px,#49a74b 258px,#4ab54c 264px,#4dd94f 268px,#51e850 274px,#58f850 278px,#95cd38 284px,#fa8304 288px,#df4600 294px,#cb2b00 298px,#c32200 304px,#cb2b00 308px,#de4500 314px,#fd8002 318px,#c6ab21 324px,#73ea46 328px,#56f450 334px,#4fe350 338px,#4dd94f 344px,#4bbe4d 348px,#489e4a 354px,#49944b 358px,#48a04a 364px,#49b04b 368px,#4abc4c 374px,#50e650 378px,#56f450 384px,#65f44c 388px,#74e945 394px,#86da3e 398px,#99c936 404px)"></div>
<div style="left:574.5px;top:4.5px;width:5.6px;height:403.9px;background:linear-gradient(#560156 0px,#560156 34px,#560256 38px,#560256 58px,#560956 64px,#542c56 68px,#4e5e51 74px,#4d6351 78px,#4c6e50 84px,#4b754f 88px,#4b774f 94px,#4c6c50 98px,#4d5f51 104px,#514854 108px,#533755 114px,#542656 118px,#551c56 124px,#560c56 128px,#560656 134px,#560556 138px,#560456 144px,#560456 148px,#560556 154px,#560556 168px,#560856 174px,#560f56 178px,#561356 184px,#551d56 188px,#542456 194px,#542a56 198px,#533455 204px,#523d55 208px,#514454 214px,#514854 218px,#4f5153 224px,#4e5c51 228px,#4c6650 234px,#4c704f 238px,#4b754f 244px,#4a834d 248px,#49944b 254px,#48a14a 258px,#49af4b 264px,#4dd24f 268px,#4fe450 274px,#56f550 278px,#94ce38 284px,#fa8304 288px,#e04700 294px,#cb2b00 298px,#c32200 304px,#cb2b00 308px,#df4500 314px,#fc8002 318px,#c5ab22 324px,#72eb46 328px,#55f250 334px,#4edf50 338px,#4dd34f 344px,#4ab74c 348px,#49984b 354px,#498e4c 358px,#49994b 364px,#49a84b 368px,#4ab34c 374px,#4edf50 378px,#54ef50 384px,#5dfa4f 388px,#6cef49 394px,#7ee141 398px,#91d13a 404px)"></div>
<div style="left:579.5px;top:4.5px;width:5.6px;height:403.9px;background:linear-gradient(#560356 0px,#560356 24px,#560456 28px,#560456 58px,#560a56 64px,#533055 68px,#4d6251 74px,#4c6950 78px,#4b774f 84px,#4b7e4e 88px,#4a7f4e 94px,#4b754f 98px,#4d6451 104px,#504c53 108px,#523a55 114px,#542a56 118px,#552056 124px,#561056 128px,#560856 134px,#560756 138px,#560656 144px,#560756 148px,#560756 168px,#560a56 174px,#561356 178px,#551756 184px,#552156 188px,#542856 194px,#532f55 198px,#523955 204px,#514255 208px,#514954 214px,#504d53 218px,#4f5652 224px,#4d6151 228px,#4c6c50 234px,#4b764f 238px,#4b7b4e 244px,#4a894d 248px,#499a4b 254px,#49a74b 258px,#4ab54c 264px,#4dd84f 268px,#50e750 274px,#58f950 278px,#99ca36 284px,#fb8203 288px,#de4400 294px,#c92900 298px,#c12000 304px,#c92900 308px,#dd4200 314px,#fd7f01 318px,#c9a920 324px,#78e644 328px,#57f650 334px,#4fe450 338px,#4dda4f 344px,#4bbe4d 348px,#489e4a 354px,#49944b 358px,#489e4a 364px,#49ad4b 368px,#4ab74c 374px,#4ee250 378px,#54f050 384px,#5dfb4f 388px,#6cef49 394px,#7de242 398px,#8fd23a 404px)"></div>
<div style="left:584.5px;top:4.5px;width:5.6px;height:403.9px;background:linear-gradient(#560356 0px,#560356 8px,#560456 14px,#560456 58px,#560a56 64px,#542d56 68px,#4d5f51 74px,#4c6850 78px,#4b774f 84px,#4b7d4e 88px,#4b7e4e 94px,#4b744f 98px,#4d6251 104px,#504a54 108px,#533755 114px,#542756 118px,#551d56 124px,#561056 128px,#560956 134px,#560756 138px,#560756 158px,#560856 164px,#560856 168px,#560a56 174px,#561256 178px,#551656 184px,#551e56 188px,#542556 194px,#542c56 198px,#533755 204px,#523f55 208px,#514654 214px,#504b54 218px,#4f5452 224px,#4d5f51 228px,#4c6850 234px,#4b724f 238px,#4b784e 244px,#4a864d 248px,#49964b 254px,#48a34a 258px,#49b14b 264px,#4dd24f 268px,#4fe450 274px,#57f750 278px,#97cb37 284px,#fa8304 288px,#e04700 294px,#cb2b00 298px,#c32200 304px,#cb2b00 308px,#de4500 314px,#fc8002 318px,#c6aa21 324px,#77e644 328px,#57f650 334px,#4ee350 338px,#4dd74f 344px,#4abb4c 348px,#499b4b 354px,#49904c 358px,#499a4b 364px,#48a74a 368px,#49b14b 374px,#4dd94f 378px,#53ed50 384px,#59fb50 388px,#65f44c 394px,#76e745 398px,#88d83d 404px)"></div>
<div style="left:589.5px;top:4.5px;width:5.6px;height:403.9px;background:linear-gradient(#560056 0px,#560056 34px,#560156 38px,#560156 58px,#560656 64px,#551e56 68px,#504e53 74px,#4e5852 78px,#4c6650 84px,#4c6b50 88px,#4c6b50 94px,#4d6351 98px,#4f5253 104px,#523a55 108px,#542656 114px,#551956 118px,#561256 124px,#560956 128px,#560556 134px,#560456 138px,#560356 144px,#560356 148px,#560456 154px,#560456 168px,#560756 174px,#560a56 178px,#560c56 184px,#561256 188px,#551856 194px,#551d56 198px,#542856 204px,#532f55 208px,#533655 214px,#523b55 218px,#514454 224px,#504f53 228px,#4e5852 234px,#4d5f51 238px,#4d6451 244px,#4b714f 248px,#4a804e 254px,#4a8c4c 258px,#49994b 264px,#4ab84c 268px,#4ccc4e 274px,#52ec50 278px,#8bd63c 284px,#f58908 288px,#e95300 294px,#d43700 298px,#ca2a00 304px,#d43600 308px,#e75000 314px,#f88606 318px,#b9b227 324px,#6bf049 328px,#52ec50 334px,#4ccd4e 338px,#4bc04d 344px,#48a34a 348px,#4a864d 354px,#4b7b4e 358px,#4a844d 364px,#49904c 368px,#49984b 374px,#4bbd4d 378px,#4ddc4f 384px,#53ec50 388px,#58f750 394px,#64f54c 398px,#76e745 404px)"></div>
<div style="left:594.5px;top:4.5px;width:5.6px;height:403.9px;background:linear-gradient(#560056 0px,#560056 28px,#560156 34px,#560156 58px,#560556 64px,#551b56 68px,#504a54 74px,#4f5652 78px,#4d6550 84px,#4c6a50 88px,#4c6950 94px,#4d6151 98px,#504e53 104px,#533855 108px,#552156 114px,#551656 118px,#560f56 124px,#560956 128px,#560556 134px,#560456 138px,#560356 144px,#560456 148px,#560456 168px,#560656 174px,#560a56 178px,#560b56 184px,#561056 188px,#561556 194px,#551b56 198px,#542456 204px,#542c56 208px,#533255 214px,#533855 218px,#524155 224px,#504c53 228px,#4f5452 234px,#4e5b52 238px,#4d6151 244px,#4c6d50 248px,#4b7b4e 254px,#4a864d 258px,#49944b 264px,#49b14b 268px,#4bc44d 274px,#51e950 278px,#87da3e 284px,#f28b0a 288px,#ec5a00 294px,#d93d00 298px,#ce2f00 304px,#d83c00 308px,#ea5600 314px,#f58808 318px,#b3b52a 324px,#68f24a 328px,#52eb50 334px,#4cc94e 338px,#4abc4c 344px,#489f4a 348px,#4a814d 354px,#4b774f 358px,#4a7f4e 364px,#4a8a4d 368px,#49914c 374px,#4ab44c 378px,#4dd34f 384px,#50e750 388px,#55f250 394px,#5dfb4f 398px,#6eee48 404px)"></div>
<div style="left:599.5px;top:4.5px;width:5.6px;height:403.9px;background:linear-gradient(#560056 0px,#560056 18px,#560156 24px,#560156 58px,#560556 64px,#551956 68px,#514654 74px,#4f5452 78px,#4d6550 84px,#4c6950 88px,#4c6850 94px,#4d6051 98px,#504c53 104px,#533555 108px,#551d56 114px,#561356 118px,#560d56 124px,#560856 128px,#560556 134px,#560456 138px,#560456 168px,#560656 174px,#560956 178px,#560a56 184px,#560d56 188px,#561256 194px,#551956 198px,#552256 204px,#542856 208px,#532f55 214px,#533555 218px,#523f55 224px,#504954 228px,#4f5053 234px,#4e5752 238px,#4e5e51 244px,#4c6950 248px,#4b764f 254px,#4a814d 258px,#498f4c 264px,#49aa4b 268px,#4abd4c 274px,#50e750 278px,#82de40 284px,#ed900d 288px,#f06200 294px,#de4400 298px,#d23500 304px,#dc4200 308px,#ee5d00 314px,#f38b0a 318px,#adb92e 324px,#66f44b 328px,#52ea50 334px,#4bc64d 338px,#4ab94c 344px,#489c4b 348px,#4b7e4e 354px,#4b734f 358px,#4b7b4e 364px,#4a854d 368px,#4a8c4c 374px,#49ac4b 378px,#4ccc4e 384px,#4ee250 388px,#53ed50 394px,#59fa50 398px,#66f44b 404px)"></div>
<div style="left:604.5px;top:4.5px;width:5.6px;height:403.9px;background:linear-gradient(#560056 0px,#560056 18px,#560156 24px,#560156 58px,#560456 64px,#551656 68px,#514255 74px,#4f5253 78px,#4d6451 84px,#4c6850 88px,#4c6750 94px,#4d5f51 98px,#514854 104px,#533255 108px,#551956 114px,#561056 118px,#560b56 124px,#560856 128px,#560556 134px,#560456 138px,#560456 168px,#560656 174px,#560856 178px,#560956 184px,#560b56 188px,#560f56 194px,#551656 198px,#551e56 204px,#542456 208px,#542b56 214px,#533255 218px,#523b55 224px,#514554 228px,#504c53 234px,#4f5353 238px,#4e5a52 244px,#4d6550 248px,#4b704f 254px,#4b7a4e 258px,#4a894d 264px,#48a24a 268px,#4ab44c 274px,#4fe450 278px,#7ce242 284px,#e69511 288px,#f56b00 294px,#e44c00 298px,#d73b00 304px,#e24a00 308px,#f26500 314px,#ec900d 318px,#a5bf31 324px,#63f64d 328px,#51e950 334px,#4bc34d 338px,#4ab54c 344px,#49984b 348px,#4b7a4e 354px,#4c6f4f 358px,#4b764f 364px,#4a7f4e 368px,#4a854d 374px,#48a34a 378px,#4bc34d 384px,#4dd84f 388px,#50e750 394px,#56f450 398px,#5efa4e 404px)"></div>
<div style="left:609.5px;top:4.5px;width:5.6px;height:403.9px;background:linear-gradient(#560156 0px,#560156 14px,#560256 18px,#560256 58px,#560456 64px,#551656 68px,#524155 74px,#4f5353 78px,#4c6850 84px,#4c6c50 88px,#4c6950 94px,#4d6151 98px,#504954 104px,#533255 108px,#551856 114px,#561056 118px,#560b56 124px,#560856 128px,#560656 134px,#560556 138px,#560556 168px,#560756 174px,#560956 178px,#560956 184px,#560b56 188px,#560f56 194px,#551656 198px,#551e56 204px,#542456 208px,#542a56 214px,#533255 218px,#523c55 224px,#514554 228px,#504b53 234px,#4f5253 238px,#4e5a52 244px,#4d6550 248px,#4c704f 254px,#4b794e 258px,#4a884d 264px,#489f4a 268px,#49b14b 274px,#4fe450 278px,#79e543 284px,#e09914 288px,#f97200 294px,#e85300 298px,#db4100 304px,#e65000 308px,#f56b00 314px,#e69510 318px,#9fc434 324px,#62f74d 328px,#52ea50 334px,#4bc54d 338px,#4ab74c 344px,#49994b 348px,#4b7b4e 354px,#4b704f 358px,#4b764f 364px,#4a7f4e 368px,#4a844d 374px,#48a04a 378px,#4bc04d 384px,#4dd34f 388px,#4fe550 394px,#55f150 398px,#5afd50 404px)"></div>
<div style="left:614.5px;top:4.5px;width:5.6px;height:403.9px;background:linear-gradient(#560256 0px,#560256 38px,#560356 44px,#560356 58px,#560456 64px,#561556 68px,#523f55 74px,#4f5353 78px,#4c6950 84px,#4c6d50 88px,#4c6950 94px,#4d6151 98px,#514854 104px,#533155 108px,#551656 114px,#560e56 118px,#560a56 124px,#560856 128px,#560656 134px,#560556 138px,#560556 158px,#560656 164px,#560656 168px,#560756 174px,#560856 178px,#560956 184px,#560a56 188px,#560d56 194px,#561556 198px,#551d56 204px,#552156 208px,#542856 214px,#533055 218px,#523a55 224px,#514354 228px,#504954 234px,#504f53 238px,#4e5852 244px,#4d6351 248px,#4c6c50 254px,#4b754f 258px,#4a844d 264px,#499b4b 268px,#49ab4b 274px,#4ee250 278px,#74e946 284px,#d99e17 288px,#fe7b00 294px,#ed5c00 298px,#e04700 304px,#eb5700 308px,#f97200 314px,#df9a14 318px,#96cc37 324px,#60f84e 328px,#52ea50 334px,#4bc44d 338px,#4ab64c 344px,#49984b 348px,#4b794e 354px,#4c6e4f 358px,#4b744f 364px,#4b7c4e 368px,#4a814d 374px,#489c4b 378px,#4abb4c 384px,#4ccc4e 388px,#4ee050 394px,#53ed50 398px,#58f850 404px)"></div>
<div style="left:619.5px;top:4.5px;width:5.6px;height:403.9px;background:linear-gradient(#560056 0px,#560056 8px,#560156 14px,#560156 58px,#560356 64px,#560f56 68px,#533755 74px,#504c53 78px,#4d6351 84px,#4c6650 88px,#4d6351 94px,#4e5b52 98px,#524055 104px,#542a56 108px,#560f56 114px,#560a56 118px,#560856 124px,#560656 128px,#560456 134px,#560456 168px,#560556 174px,#560656 178px,#560756 184px,#560856 188px,#560a56 194px,#560e56 198px,#551756 204px,#551a56 208px,#551f56 214px,#542856 218px,#533255 224px,#523b55 228px,#524055 234px,#514654 238px,#504f53 244px,#4e5a52 248px,#4d6251 254px,#4c6850 258px,#4b784e 264px,#498d4c 268px,#489c4b 274px,#4dd64f 278px,#69f14a 284px,#cea61d 288px,#fb8103 294px,#f46800 298px,#e75100 304px,#f16300 308px,#ff7d00 314px,#d5a119 318px,#8ad73d 324px,#59fb50 328px,#50e650 334px,#4ab94c 338px,#49ab4b 344px,#498e4c 348px,#4c6f4f 354px,#4d6550 358px,#4c6a50 364px,#4b714f 368px,#4b754f 374px,#498e4c 378px,#49ad4b 384px,#4abc4c 388px,#4ccf4e 394px,#4fe550 398px,#54f050 404px)"></div>
<div style="left:624.5px;top:4.5px;width:5.6px;height:403.9px;background:linear-gradient(#560056 0px,#560056 58px,#560156 64px,#560b56 68px,#533055 74px,#514654 78px,#4d5f51 84px,#4d6151 88px,#4e5d51 94px,#4f5652 98px,#523955 104px,#542456 108px,#560b56 114px,#560856 118px,#560656 124px,#560456 128px,#560356 134px,#560356 168px,#560456 174px,#560456 178px,#560556 184px,#560656 188px,#560756 194px,#560b56 198px,#561156 204px,#561556 208px,#551a56 214px,#552156 218px,#542c56 224px,#533555 228px,#533955 234px,#523f55 238px,#514854 244px,#4f5353 248px,#4e5a52 254px,#4d6051 258px,#4c6e4f 264px,#4a824d 268px,#49914c 274px,#4ccb4e 278px,#60f84e 284px,#c2ad23 288px,#f78606 294px,#fa7400 298px,#ed5b00 304px,#f76e00 308px,#fb8103 314px,#caa81f 318px,#7de242 324px,#57f650 328px,#4ee250 334px,#49b04b 338px,#48a24a 344px,#4a854d 348px,#4c6750 354px,#4d5f51 358px,#4d6351 364px,#4c6850 368px,#4c6b50 374px,#4a844d 378px,#48a14a 384px,#49ae4b 388px,#4bc14d 394px,#4dda4f 398px,#51e850 404px)"></div>
<div style="left:629.5px;top:4.5px;width:5.6px;height:403.9px;background:linear-gradient(#560156 0px,#560156 24px,#560256 28px,#560256 58px,#560356 64px,#560c56 68px,#533455 74px,#504b54 78px,#4d6550 84px,#4c6750 88px,#4d6351 94px,#4e5b52 98px,#523d55 104px,#542756 108px,#560c56 114px,#560956 118px,#560656 124px,#560656 128px,#560556 134px,#560556 138px,#560456 144px,#560456 148px,#560556 154px,#560556 174px,#560656 178px,#560656 188px,#560856 194px,#560c56 198px,#561456 204px,#551756 208px,#551c56 214px,#542556 218px,#532f55 224px,#533855 228px,#523c55 234px,#514255 238px,#504c53 244px,#4f5752 248px,#4e5e51 254px,#4d6351 258px,#4b724f 264px,#4a854d 268px,#49944c 274px,#4cd04e 278px,#60f94e 284px,#bdaf25 288px,#f68807 294px,#fd7800 298px,#ee5e00 304px,#f97200 308px,#fa8304 314px,#c5ab21 318px,#79e543 324px,#58f850 328px,#50e650 334px,#4ab74c 338px,#49a94b 344px,#4a8b4c 348px,#4c6c50 354px,#4d6351 358px,#4c6750 364px,#4c6c50 368px,#4c704f 374px,#4a874d 378px,#48a54a 384px,#49b14b 388px,#4bc34d 394px,#4ddc4f 398px,#51e950 404px)"></div>
<div style="left:634.5px;top:4.5px;width:5.6px;height:403.9px;background:linear-gradient(#560156 0px,#560156 34px,#560256 38px,#560256 64px,#560b56 68px,#533155 74px,#514954 78px,#4d6451 84px,#4c6650 88px,#4d6151 94px,#4e5952 98px,#523b55 104px,#542556 108px,#560b56 114px,#560856 118px,#560556 124px,#560556 128px,#560456 134px,#560456 168px,#560556 174px,#560556 188px,#560756 194px,#560b56 198px,#561256 204px,#561456 208px,#551956 214px,#552256 218px,#542d56 224px,#533555 228px,#533855 234px,#523e55 238px,#514854 244px,#4f5353 248px,#4e5a52 254px,#4d5f51 258px,#4c6d50 264px,#4a804e 268px,#498e4c 274px,#4ccb4e 278px,#5afd50 284px,#b6b429 288px,#f38b09 294px,#fe7e01 298px,#f26500 304px,#fd7900 308px,#f88506 314px,#beaf25 318px,#71eb47 324px,#56f550 328px,#4fe550 334px,#4ab44c 338px,#48a64a 344px,#4a884d 348px,#4c6950 354px,#4d6151 358px,#4d6451 364px,#4c6950 368px,#4c6b50 374px,#4a824d 378px,#489f4a 384px,#49aa4b 388px,#4abc4c 394px,#4dd44f 398px,#4fe550 404px)"></div>
<div style="left:639.5px;top:4.5px;width:5.6px;height:403.9px;background:linear-gradient(#560256 0px,#560256 44px,#560356 48px,#560356 64px,#560c56 68px,#533255 74px,#504b54 78px,#4c6750 84px,#4c6950 88px,#4d6451 94px,#4e5c52 98px,#523c55 104px,#542656 108px,#560b56 114px,#560856 118px,#560656 124px,#560556 128px,#560556 178px,#560656 184px,#560656 188px,#560856 194px,#560b56 198px,#561356 204px,#561556 208px,#551a56 214px,#552356 218px,#542e56 224px,#533655 228px,#523955 234px,#523f55 238px,#504a54 244px,#4f5552 248px,#4e5b52 254px,#4d6051 258px,#4c6e4f 264px,#4a804e 268px,#498e4c 274px,#4ccd4e 278px,#5afc50 284px,#b2b62b 288px,#f18d0a 294px,#fd8002 298px,#f46800 304px,#ff7d00 308px,#f78706 314px,#bab227 318px,#6dee48 324px,#57f550 328px,#50e650 334px,#4ab74c 338px,#49a94b 344px,#4a8b4c 348px,#4c6c50 354px,#4d6351 358px,#4c6650 364px,#4c6a50 368px,#4c6d50 374px,#4a834d 378px,#48a04a 384px,#49aa4b 388px,#4abc4c 394px,#4dd44f 398px,#4fe450 404px)"></div>
<div style="left:644.5px;top:4.5px;width:5.6px;height:403.9px;background:linear-gradient(#560356 0px,#560356 14px,#560456 18px,#560456 64px,#560f56 68px,#533655 74px,#4f5053 78px,#4c6e4f 84px,#4b704f 88px,#4c6950 94px,#4d6151 98px,#524155 104px,#542b56 108px,#560c56 114px,#560956 118px,#560756 124px,#560756 188px,#560956 194px,#560e56 198px,#551656 204px,#551856 208px,#551d56 214px,#542756 218px,#533255 224px,#523b55 228px,#523d55 234px,#514354 238px,#504e53 244px,#4e5952 248px,#4d5f51 254px,#4d6451 258px,#4b744f 264px,#4a864d 268px,#49934c 274px,#4dd44f 278px,#5bfc4f 284px,#b1b62b 288px,#f18d0b 294px,#fc8002 298px,#f36700 304px,#ff7d00 308px,#f78706 314px,#bab227 318px,#6eee48 324px,#58f850 328px,#52ea50 334px,#4bbf4d 338px,#49b14b 344px,#49924c 348px,#4b724f 354px,#4c6850 358px,#4c6b50 364px,#4b714f 368px,#4b734f 374px,#4a894d 378px,#48a74a 384px,#49b04b 388px,#4bc24d 394px,#4dda4f 398px,#50e750 404px)"></div>
<div style="left:649.5px;top:4.5px;width:4.6px;height:403.9px;background:linear-gradient(#560256 0px,#560256 18px,#560356 24px,#560356 64px,#560c56 68px,#533255 74px,#504c53 78px,#4c6850 84px,#4c6b50 88px,#4d6550 94px,#4e5d51 98px,#523d55 104px,#542756 108px,#560b56 114px,#560856 118px,#560656 124px,#560656 188px,#560756 194px,#560b56 198px,#561356 204px,#561556 208px,#551a56 214px,#552356 218px,#542e56 224px,#533655 228px,#523955 234px,#523f55 238px,#504a54 244px,#4f5552 248px,#4e5b52 254px,#4d5f51 258px,#4c6e4f 264px,#4a7f4e 268px,#498d4c 274px,#4ccd4e 278px,#59fa50 284px,#adb92e 288px,#ee8f0c 294px,#fb8203 298px,#f66b00 304px,#fe7f01 308px,#f58807 314px,#b5b429 318px,#68f24a 324px,#56f550 328px,#50e750 334px,#4ab94c 338px,#49aa4b 344px,#4a8c4c 348px,#4c6d50 354px,#4d6351 358px,#4c6650 364px,#4c6b50 368px,#4c6d50 374px,#4a834d 378px,#48a04a 384px,#49a94b 388px,#4abb4c 394px,#4dd24f 398px,#4fe350 404px)"></div>
<div style="left:681.5px;top:4.5px;width:5.6px;height:403.9px;background:linear-gradient(#560156 0px,#560156 4px,#560256 8px,#560256 58px,#560556 64px,#551f56 68px,#524055 74px,#514554 78px,#504b53 84px,#4f5153 88px,#4f5552 94px,#504d53 98px,#514354 104px,#533355 108px,#542a56 114px,#552056 118px,#551956 124px,#560956 128px,#560756 134px,#560556 138px,#560556 154px,#560656 158px,#560656 168px,#560756 174px,#560f56 178px,#551656 184px,#552056 188px,#533155 194px,#533755 198px,#523f55 204px,#504e53 208px,#4e5752 214px,#4e5a52 218px,#4d6451 224px,#4b714f 228px,#4b7d4e 234px,#4a814e 238px,#4a894d 244px,#49964b 248px,#48a34a 254px,#49ae4b 258px,#4ab94c 264px,#4edf50 268px,#54f050 274px,#6fed48 278px,#da9d17 284px,#fa7300 288px,#dc4100 294px,#d43700 298px,#d23500 304px,#da3f00 308px,#f26400 314px,#e8930f 318px,#9bc735 324px,#65f54c 328px,#5bfc4f 334px,#56f550 338px,#53ee50 344px,#4dd24f 348px,#4abc4c 354px,#4cca4e 358px,#4ee250 364px,#51e850 368px,#58f950 374px,#78e644 378px,#85dc3f 384px,#9cc635 388px,#b2b62b 394px,#bbb126 398px,#d1a41b 404px)"></div>
<div style="left:686.5px;top:4.5px;width:5.6px;height:403.9px;background:linear-gradient(#560256 0px,#560256 28px,#560356 34px,#560356 58px,#560656 64px,#552056 68px,#514255 74px,#514754 78px,#504d53 84px,#4f5353 88px,#4f5752 94px,#504e53 98px,#514554 104px,#533455 108px,#542c56 114px,#552256 118px,#551a56 124px,#560a56 128px,#560756 134px,#560556 138px,#560556 144px,#560656 148px,#560656 168px,#560856 174px,#561056 178px,#551756 184px,#552256 188px,#533255 194px,#533855 198px,#524155 204px,#504f53 208px,#4e5952 214px,#4e5c52 218px,#4d6550 224px,#4b734f 228px,#4a7f4e 234px,#4a834d 238px,#4a8b4c 244px,#49984b 248px,#48a64a 254px,#49b04b 258px,#4abb4c 264px,#4ee250 268px,#55f150 274px,#71ec47 278px,#db9d16 284px,#f97200 288px,#db4000 294px,#d43700 298px,#d23400 304px,#d93e00 308px,#f16300 314px,#e9930f 318px,#9dc635 324px,#66f44b 328px,#5dfb4f 334px,#57f650 338px,#54ef50 344px,#4dd54f 348px,#4bbe4d 354px,#4ccc4e 358px,#4fe350 364px,#51e950 368px,#59fa50 374px,#7ae543 378px,#86db3e 384px,#9ec534 388px,#b3b62b 394px,#bcb026 398px,#d2a31b 404px)"></div>
<div style="left:691.5px;top:4.5px;width:5.6px;height:403.9px;background:linear-gradient(#560256 0px,#560256 18px,#560356 24px,#560356 58px,#560656 64px,#552156 68px,#514454 74px,#514854 78px,#504e53 84px,#4f5452 88px,#4e5852 94px,#505053 98px,#514654 104px,#533655 108px,#542d56 114px,#552256 118px,#551b56 124px,#560a56 128px,#560756 134px,#560656 138px,#560656 158px,#560756 164px,#560756 168px,#560856 174px,#561156 178px,#551856 184px,#552256 188px,#533355 194px,#523955 198px,#514255 204px,#4f5053 208px,#4e5a52 214px,#4e5d51 218px,#4c6650 224px,#4b754f 228px,#4a814e 234px,#4a844d 238px,#4a8c4c 244px,#49994b 248px,#48a74a 254px,#49b14b 258px,#4bbd4d 264px,#4ee250 268px,#55f250 274px,#71eb47 278px,#dc9c16 284px,#f97100 288px,#db4000 294px,#d33600 298px,#d13300 304px,#d93e00 308px,#f16200 314px,#ea920f 318px,#9dc635 324px,#67f34b 328px,#5dfa4f 334px,#57f750 338px,#54f050 344px,#4dd64f 348px,#4bc04d 354px,#4cce4e 358px,#4fe450 364px,#52ea50 368px,#59fb50 374px,#7ae443 378px,#86da3e 384px,#9ec534 388px,#b3b52a 394px,#bdb026 398px,#d3a31b 404px)"></div>
<div style="left:696.5px;top:4.5px;width:5.6px;height:403.9px;background:linear-gradient(#560056 0px,#560056 58px,#560456 64px,#551a56 68px,#523b55 74px,#523f55 78px,#514554 84px,#504b53 88px,#504f53 94px,#514654 98px,#523d55 104px,#542d56 108px,#542456 114px,#551b56 118px,#561456 124px,#560756 128px,#560556 134px,#560356 138px,#560356 154px,#560456 158px,#560456 168px,#560556 174px,#560b56 178px,#561156 184px,#551b56 188px,#542a56 194px,#533055 198px,#533955 204px,#514654 208px,#4f5053 214px,#4f5353 218px,#4e5d51 224px,#4c6850 228px,#4b744f 234px,#4b774f 238px,#4a7f4e 244px,#4a8c4c 248px,#499a4b 254px,#48a34a 258px,#49ae4b 264px,#4dd54f 268px,#52eb50 274px,#69f14a 278px,#d7a018 284px,#fc7800 288px,#de4500 294px,#d73b00 298px,#d53900 304px,#dd4300 308px,#f46800 314px,#e59611 318px,#96cc38 324px,#5ff94e 328px,#58f950 334px,#54f050 338px,#51e950 344px,#4cc84e 348px,#49b14b 354px,#4bbf4d 358px,#4dd74f 364px,#4fe350 368px,#56f450 374px,#72ea46 378px,#7fe041 384px,#97cb37 388px,#adb92d 394px,#b7b329 398px,#cda61e 404px)"></div>
<div style="left:701.5px;top:4.5px;width:5.6px;height:403.9px;background:linear-gradient(#560356 0px,#560356 18px,#560456 24px,#560456 58px,#560756 64px,#542556 68px,#514854 74px,#504d53 78px,#4f5253 84px,#4e5952 88px,#4e5c52 94px,#4f5452 98px,#504b54 104px,#523955 108px,#533055 114px,#542656 118px,#551d56 124px,#560b56 128px,#560856 134px,#560756 138px,#560756 158px,#560856 164px,#560856 168px,#560956 174px,#561456 178px,#551a56 184px,#542656 188px,#533655 194px,#523c55 198px,#514554 204px,#4f5452 208px,#4e5d51 214px,#4d6051 218px,#4c6a50 224px,#4b794e 228px,#4a854d 234px,#4a894d 238px,#49904c 244px,#489e4a 248px,#49ac4b 254px,#4ab64c 258px,#4bc24d 264px,#4fe550 268px,#56f450 274px,#74e946 278px,#dd9b15 284px,#f86f00 288px,#d93e00 294px,#d23400 298px,#d03100 304px,#d83c00 308px,#f06000 314px,#eb910e 318px,#a0c333 324px,#6af14a 328px,#60f84d 334px,#58f950 338px,#55f250 344px,#4ddb4f 348px,#4bc54d 354px,#4dd34f 358px,#50e650 364px,#53ec50 368px,#5afd50 374px,#7de242 378px,#89d83d 384px,#a1c233 388px,#b6b429 394px,#bfae24 398px,#d5a11a 404px)"></div>
<div style="left:706.5px;top:4.5px;width:5.6px;height:403.9px;background:linear-gradient(#560356 0px,#560356 44px,#560456 48px,#560456 58px,#560756 64px,#552356 68px,#514754 74px,#504b53 78px,#4f5153 84px,#4e5752 88px,#4e5b52 94px,#4f5253 98px,#504954 104px,#533855 108px,#532f55 114px,#542456 118px,#551c56 124px,#560b56 128px,#560856 134px,#560656 138px,#560656 148px,#560756 154px,#560756 168px,#560856 174px,#561256 178px,#551956 184px,#542456 188px,#533455 194px,#523a55 198px,#514354 204px,#4f5253 208px,#4e5b52 214px,#4d5f51 218px,#4c6850 224px,#4b774f 228px,#4a834d 234px,#4a864d 238px,#498e4c 244px,#489b4b 248px,#49a94b 254px,#4ab44c 258px,#4bbf4d 264px,#4fe450 268px,#56f350 274px,#73ea46 278px,#dd9c15 284px,#f87000 288px,#da3f00 294px,#d33500 298px,#d13200 304px,#d83d00 308px,#f06100 314px,#ea920e 318px,#9ec534 324px,#68f24a 328px,#5ff94e 334px,#58f850 338px,#55f150 344px,#4dd94f 348px,#4bc24d 354px,#4cd04e 358px,#4fe550 364px,#52eb50 368px,#5afc50 374px,#7ce343 378px,#88d93e 384px,#9fc434 388px,#b4b52a 394px,#beaf25 398px,#d4a21a 404px)"></div>
<div style="left:711.5px;top:4.5px;width:5.6px;height:403.9px;background:linear-gradient(#560356 0px,#560356 24px,#560456 28px,#560456 58px,#560856 64px,#542556 68px,#504954 74px,#504d53 78px,#4f5353 84px,#4e5952 88px,#4e5c51 94px,#4f5452 98px,#504b53 104px,#523a55 108px,#533155 114px,#542556 118px,#551d56 124px,#560b56 128px,#560856 134px,#560656 138px,#560756 144px,#560756 164px,#560856 168px,#560956 174px,#561356 178px,#551a56 184px,#542556 188px,#533655 194px,#523c55 198px,#514554 204px,#4f5353 208px,#4e5d51 214px,#4d6051 218px,#4c6950 224px,#4b794e 228px,#4a854d 234px,#4a884d 238px,#49904c 244px,#489d4b 248px,#49ac4b 254px,#4ab64c 258px,#4bc14d 264px,#4fe550 268px,#56f450 274px,#74e946 278px,#dd9b15 284px,#f87000 288px,#d93e00 294px,#d23400 298px,#d03200 304px,#d83c00 308px,#f06100 314px,#eb910e 318px,#9fc434 324px,#6af14a 328px,#60f84e 334px,#58f950 338px,#55f250 344px,#4ddb4f 348px,#4bc44d 354px,#4dd24f 358px,#50e650 364px,#52ec50 368px,#5afd50 374px,#7de242 378px,#89d83d 384px,#a1c333 388px,#b5b429 394px,#bfae25 398px,#d5a21a 404px)"></div>
<div style="left:716.5px;top:4.5px;width:5.6px;height:403.9px;background:linear-gradient(#560356 0px,#560356 38px,#560456 44px,#560456 58px,#560856 64px,#542456 68px,#504954 74px,#504d53 78px,#4f5253 84px,#4e5852 88px,#4e5c52 94px,#4f5452 98px,#504a54 104px,#523955 108px,#533055 114px,#542456 118px,#551c56 124px,#560b56 128px,#560856 134px,#560656 138px,#560656 148px,#560756 154px,#560756 168px,#560956 174px,#561256 178px,#551956 184px,#542456 188px,#533555 194px,#523b55 198px,#514454 204px,#4f5253 208px,#4e5c52 214px,#4d5f51 218px,#4c6850 224px,#4b774f 228px,#4a834d 234px,#4a874d 238px,#498e4c 244px,#489b4b 248px,#49aa4b 254px,#4ab44c 258px,#4bc04d 264px,#4fe450 268px,#56f350 274px,#73ea46 278px,#dd9c15 284px,#f87000 288px,#da3f00 294px,#d33500 298px,#d13200 304px,#d83d00 308px,#f06100 314px,#ea920e 318px,#9fc434 324px,#69f24a 328px,#5ff94e 334px,#58f850 338px,#55f150 344px,#4dd94f 348px,#4bc34d 354px,#4cd04e 358px,#4fe550 364px,#52eb50 368px,#5afc50 374px,#7ce342 378px,#88d93e 384px,#a0c334 388px,#b5b52a 394px,#beaf25 398px,#d4a21a 404px)"></div>
<div style="left:721.5px;top:4.5px;width:5.6px;height:403.9px;background:linear-gradient(#560156 0px,#560156 28px,#560256 34px,#560256 58px,#560656 64px,#551f56 68px,#514454 74px,#514754 78px,#504d53 84px,#4f5353 88px,#4f5652 94px,#504e53 98px,#514554 104px,#533455 108px,#542b56 114px,#551f56 118px,#551756 124px,#560956 128px,#560656 134px,#560456 138px,#560456 144px,#560556 148px,#560556 164px,#560656 168px,#560756 174px,#560e56 178px,#561556 184px,#551e56 188px,#532f55 194px,#533555 198px,#523d55 204px,#504c53 208px,#4f5552 214px,#4e5952 218px,#4d6251 224px,#4c6f4f 228px,#4b7b4e 234px,#4b7e4e 238px,#4a864d 244px,#49934c 248px,#48a14a 254px,#49ab4b 258px,#4ab64c 264px,#4ddc4f 268px,#54ef50 274px,#6eee48 278px,#da9e17 284px,#fa7400 288px,#dc4200 294px,#d53900 298px,#d33600 304px,#db4000 308px,#f26500 314px,#e79410 318px,#9ac936 324px,#63f64c 328px,#5afd50 334px,#56f450 338px,#53ed50 344px,#4cd04e 348px,#4ab94c 354px,#4bc74d 358px,#4edf50 364px,#50e750 368px,#58f850 374px,#77e745 378px,#83dd3f 384px,#9bc835 388px,#b1b72c 394px,#bab127 398px,#d0a41c 404px)"></div>
<div style="left:726.5px;top:4.5px;width:5.6px;height:403.9px;background:linear-gradient(#560156 0px,#560156 28px,#560256 34px,#560256 58px,#560756 64px,#551f56 68px,#514554 74px,#514854 78px,#504d53 84px,#4f5353 88px,#4f5752 94px,#504e53 98px,#514554 104px,#533555 108px,#542b56 114px,#551f56 118px,#551856 124px,#560956 128px,#560656 134px,#560456 138px,#560456 144px,#560556 148px,#560556 164px,#560656 168px,#560756 174px,#560e56 178px,#561556 184px,#551e56 188px,#532f55 194px,#533555 198px,#523e55 204px,#504c53 208px,#4f5652 214px,#4e5952 218px,#4d6251 224px,#4c6f4f 228px,#4b7b4e 234px,#4b7e4e 238px,#4a864d 244px,#49934c 248px,#48a14a 254px,#49ab4b 258px,#4ab64c 264px,#4ddd4f 268px,#54ef50 274px,#6eee48 278px,#da9e17 284px,#fa7400 288px,#dc4200 294px,#d53800 298px,#d33600 304px,#db4000 308px,#f26500 314px,#e79410 318px,#9ac836 324px,#63f64c 328px,#5afd50 334px,#56f450 338px,#53ed50 344px,#4cd04e 348px,#4ab94c 354px,#4bc74d 358px,#4edf50 364px,#50e750 368px,#58f850 374px,#77e745 378px,#83dd3f 384px,#9bc835 388px,#b1b72c 394px,#bab127 398px,#d0a41c 404px)"></div>
<div style="left:731.5px;top:4.5px;width:5.6px;height:403.9px;background:linear-gradient(#560056 0px,#560056 38px,#560156 44px,#560156 58px,#560656 64px,#551c56 68px,#524155 74px,#514454 78px,#504a54 84px,#505053 88px,#4f5353 94px,#504b54 98px,#524155 104px,#533155 108px,#542856 114px,#551b56 118px,#561456 124px,#560856 128px,#560556 134px,#560356 138px,#560356 148px,#560456 154px,#560456 168px,#560656 174px,#560c56 178px,#561156 184px,#551b56 188px,#542b56 194px,#533155 198px,#523955 204px,#514754 208px,#4f5153 214px,#4f5452 218px,#4e5d51 224px,#4c6950 228px,#4b754f 234px,#4b784e 238px,#4a804e 244px,#498d4c 248px,#499b4b 254px,#48a44a 258px,#49b04b 264px,#4dd64f 268px,#52ec50 274px,#6af14a 278px,#d7a018 284px,#fc7700 288px,#de4500 294px,#d73b00 298px,#d53800 304px,#dd4300 308px,#f46800 314px,#e59511 318px,#97cc37 324px,#5ff94e 328px,#58fa50 334px,#54f050 338px,#51ea50 344px,#4cc94e 348px,#4ab34c 354px,#4bc04d 358px,#4dd94f 364px,#4fe450 368px,#56f550 374px,#73ea46 378px,#80e041 384px,#98cb37 388px,#aeb92d 394px,#b7b328 398px,#cda61d 404px)"></div>
<div style="left:736.5px;top:4.5px;width:5.6px;height:403.9px;background:linear-gradient(#560256 0px,#560256 28px,#560356 34px,#560356 58px,#560956 64px,#542456 68px,#504a54 74px,#504d53 78px,#4f5253 84px,#4e5852 88px,#4e5c52 94px,#4f5353 98px,#504a54 104px,#523955 108px,#533055 114px,#552256 118px,#551a56 124px,#560a56 128px,#560756 134px,#560556 138px,#560556 144px,#560656 148px,#560656 164px,#560756 168px,#560856 174px,#561156 178px,#551756 184px,#552256 188px,#533255 194px,#533855 198px,#524155 204px,#504f53 208px,#4e5952 214px,#4e5c51 218px,#4c6650 224px,#4b744f 228px,#4a804e 234px,#4a834d 238px,#4a8b4c 244px,#49984b 248px,#48a64a 254px,#49b04b 258px,#4abc4c 264px,#4ee250 268px,#55f150 274px,#71eb47 278px,#db9d16 284px,#f97200 288px,#db4000 294px,#d43600 298px,#d23400 304px,#d93e00 308px,#f16300 314px,#e9920f 318px,#9dc635 324px,#66f34b 328px,#5dfb4f 334px,#57f650 338px,#54ef50 344px,#4dd54f 348px,#4bbf4d 354px,#4ccd4e 358px,#4fe350 364px,#51e950 368px,#59fa50 374px,#7ae443 378px,#86da3e 384px,#9ec534 388px,#b3b62b 394px,#bdb026 398px,#d2a31b 404px)"></div>
<div style="left:741.5px;top:4.5px;width:5.6px;height:403.9px;background:linear-gradient(#560056 0px,#560056 54px,#560156 58px,#560756 64px,#551d56 68px,#514255 74px,#514554 78px,#504a54 84px,#4f5053 88px,#4f5353 94px,#504b53 98px,#514255 104px,#533255 108px,#542856 114px,#551b56 118px,#561456 124px,#560856 128px,#560556 134px,#560356 138px,#560356 154px,#560456 158px,#560456 168px,#560556 174px,#560b56 178px,#561156 184px,#551b56 188px,#542a56 194px,#533055 198px,#523955 204px,#514754 208px,#4f5053 214px,#4f5353 218px,#4e5d51 224px,#4c6850 228px,#4b744f 234px,#4b774e 238px,#4a7f4e 244px,#4a8c4c 248px,#499a4b 254px,#48a34a 258px,#49af4b 264px,#4dd54f 268px,#52eb50 274px,#69f14a 278px,#d7a018 284px,#fc7700 288px,#de4500 294px,#d73b00 298px,#d53900 304px,#dd4300 308px,#f46800 314px,#e59611 318px,#96cc37 324px,#5ff94e 328px,#58f950 334px,#54f050 338px,#51e950 344px,#4cc84e 348px,#49b24b 354px,#4bc04d 358px,#4dd84f 364px,#4fe350 368px,#56f450 374px,#72ea46 378px,#7fe041 384px,#97cb37 388px,#adb92d 394px,#b7b329 398px,#cda61e 404px)"></div>
<div style="left:746.5px;top:4.5px;width:5.6px;height:403.9px;background:linear-gradient(#560056 0px,#560056 54px,#560156 58px,#560756 64px,#551d56 68px,#514354 74px,#514654 78px,#504b53 84px,#4f5153 88px,#4f5452 94px,#504c53 98px,#514354 104px,#533255 108px,#542956 114px,#551b56 118px,#561456 124px,#560856 128px,#560556 134px,#560356 138px,#560356 154px,#560456 158px,#560456 168px,#560556 174px,#560b56 178px,#561156 184px,#551b56 188px,#542a56 194px,#533055 198px,#523955 204px,#514754 208px,#4f5053 214px,#4f5452 218px,#4e5d51 224px,#4c6850 228px,#4b744f 234px,#4b784e 238px,#4a7f4e 244px,#4a8c4c 248px,#499a4b 254px,#48a34a 258px,#49af4b 264px,#4dd54f 268px,#52eb50 274px,#69f14a 278px,#d7a018 284px,#fc7700 288px,#de4500 294px,#d73b00 298px,#d53900 304px,#dd4300 308px,#f46800 314px,#e59611 318px,#96cc37 324px,#5ff94e 328px,#58f950 334px,#54f050 338px,#51e950 344px,#4cc84e 348px,#49b24b 354px,#4bc04d 358px,#4dd84f 364px,#4fe350 368px,#56f450 374px,#72ea46 378px,#7fe041 384px,#97cb37 388px,#adb92d 394px,#b7b329 398px,#cda61e 404px)"></div>
<div style="left:751.5px;top:4.5px;width:5.6px;height:403.9px;background:linear-gradient(#560056 0px,#560056 18px,#560156 24px,#560156 58px,#560856 64px,#552056 68px,#514654 74px,#514954 78px,#504e53 84px,#4f5452 88px,#4e5752 94px,#504f53 98px,#514654 104px,#533555 108px,#542b56 114px,#551d56 118px,#551656 124px,#560856 128px,#560556 134px,#560456 138px,#560456 158px,#560556 164px,#560556 168px,#560656 174px,#560c56 178px,#561356 184px,#551c56 188px,#542c56 194px,#533255 198px,#523b55 204px,#504954 208px,#4f5353 214px,#4f5652 218px,#4d5f51 224px,#4c6b50 228px,#4b774f 234px,#4b7a4e 238px,#4a824d 244px,#498f4c 248px,#489d4b 254px,#48a74a 258px,#4ab24c 264px,#4dd84f 268px,#53ed50 274px,#6bf049 278px,#d89f18 284px,#fb7600 288px,#de4400 294px,#d63a00 298px,#d43700 304px,#dc4200 308px,#f36700 314px,#e69510 318px,#98ca37 324px,#61f84d 328px,#59fb50 334px,#55f250 338px,#52eb50 344px,#4ccb4e 348px,#4ab54c 354px,#4bc34d 358px,#4ddb4f 364px,#4fe550 368px,#57f650 374px,#74e946 378px,#81df40 384px,#99c936 388px,#afb82d 394px,#b8b228 398px,#cea51d 404px)"></div>
<div style="left:756.5px;top:4.5px;width:5.6px;height:403.9px;background:linear-gradient(#560056 0px,#560056 28px,#560156 34px,#560156 58px,#560856 64px,#552156 68px,#514654 74px,#514954 78px,#504e53 84px,#4f5452 88px,#4e5752 94px,#504f53 98px,#514654 104px,#533555 108px,#542b56 114px,#551c56 118px,#561556 124px,#560856 128px,#560556 134px,#560356 138px,#560356 144px,#560456 148px,#560456 164px,#560556 168px,#560656 174px,#560c56 178px,#561256 184px,#551c56 188px,#542b56 194px,#533255 198px,#523a55 204px,#514854 208px,#4f5253 214px,#4f5552 218px,#4e5e51 224px,#4c6a50 228px,#4b764f 234px,#4b794e 238px,#4a814d 244px,#498e4c 248px,#489c4b 254px,#48a54a 258px,#49b14b 264px,#4dd74f 268px,#53ec50 274px,#6bf049 278px,#d89f18 284px,#fb7600 288px,#de4400 294px,#d73b00 298px,#d53800 304px,#dc4200 308px,#f36700 314px,#e69511 318px,#97cb37 324px,#60f84d 328px,#59fa50 334px,#55f150 338px,#52ea50 344px,#4cca4e 348px,#4ab44c 354px,#4bc24d 358px,#4dda4f 364px,#4fe450 368px,#57f550 374px,#74e946 378px,#80df41 384px,#98ca37 388px,#aeb82d 394px,#b8b328 398px,#cea61d 404px)"></div>
<div style="left:761.5px;top:4.5px;width:5.6px;height:403.9px;background:linear-gradient(#560156 0px,#560156 38px,#560256 44px,#560256 58px,#560a56 64px,#542456 68px,#504954 74px,#504c53 78px,#4f5253 84px,#4e5752 88px,#4e5b52 94px,#4f5253 98px,#504954 104px,#533855 108px,#532e55 114px,#551f56 118px,#551756 124px,#560956 128px,#560656 134px,#560456 138px,#560456 148px,#560556 154px,#560556 168px,#560756 174px,#560d56 178px,#561456 184px,#551e56 188px,#542e56 194px,#533455 198px,#523d55 204px,#504b54 208px,#4f5552 214px,#4e5852 218px,#4d6151 224px,#4c6e50 228px,#4b7a4e 234px,#4b7d4e 238px,#4a854d 244px,#49924c 248px,#48a04a 254px,#49aa4b 258px,#4ab54c 264px,#4ddb4f 268px,#53ee50 274px,#6dee48 278px,#d99e17 284px,#fb7500 288px,#dd4300 294px,#d63900 298px,#d43600 304px,#db4100 308px,#f36600 314px,#e79410 318px,#99c936 324px,#63f64d 328px,#5afc50 334px,#56f350 338px,#53ec50 344px,#4cce4e 348px,#4ab84c 354px,#4bc64d 358px,#4ede50 364px,#50e650 368px,#57f750 374px,#76e745 378px,#83dd40 384px,#9ac836 388px,#b0b72c 394px,#bab227 398px,#d0a51c 404px)"></div>
<div style="left:766.5px;top:4.5px;width:5.6px;height:403.9px;background:linear-gradient(#560056 0px,#560056 58px,#560956 64px,#552156 68px,#514654 74px,#514854 78px,#504e53 84px,#4f5452 88px,#4f5752 94px,#504e53 98px,#514554 104px,#533555 108px,#542b56 114px,#551b56 118px,#561456 124px,#560756 128px,#560556 134px,#560356 138px,#560356 154px,#560456 158px,#560456 168px,#560556 174px,#560b56 178px,#561156 184px,#551b56 188px,#542a56 194px,#533055 198px,#533955 204px,#514654 208px,#4f5053 214px,#4f5353 218px,#4e5d51 224px,#4c6850 228px,#4b744f 234px,#4b774f 238px,#4a7f4e 244px,#4a8c4c 248px,#499a4b 254px,#48a34a 258px,#49ae4b 264px,#4dd54f 268px,#52eb50 274px,#69f14a 278px,#d7a018 284px,#fc7800 288px,#de4500 294px,#d73b00 298px,#d53900 304px,#dd4300 308px,#f46800 314px,#e59611 318px,#96cc38 324px,#5ff94e 328px,#58f950 334px,#54f050 338px,#51e950 344px,#4cc84e 348px,#49b14b 354px,#4bbf4d 358px,#4dd74f 364px,#4fe350 368px,#56f450 374px,#72ea46 378px,#7fe041 384px,#97cb37 388px,#adb92d 394px,#b7b329 398px,#cda61e 404px)"></div>
<div style="left:771.5px;top:4.5px;width:5.6px;height:403.9px;background:linear-gradient(#560056 0px,#560056 58px,#560956 64px,#552156 68px,#514554 74px,#514854 78px,#504e53 84px,#4f5452 88px,#4f5752 94px,#504e53 98px,#514554 104px,#533455 108px,#542b56 114px,#551b56 118px,#561356 124px,#560756 128px,#560556 134px,#560356 138px,#560356 158px,#560456 164px,#560456 168px,#560556 174px,#560b56 178px,#561056 184px,#551a56 188px,#542956 194px,#532f55 198px,#533855 204px,#514654 208px,#504f53 214px,#4f5253 218px,#4e5c52 224px,#4c6750 228px,#4b734f 234px,#4b764f 238px,#4b7e4e 244px,#4a8b4c 248px,#49994b 254px,#48a24a 258px,#49ad4b 264px,#4dd34f 268px,#52eb50 274px,#68f24a 278px,#d7a019 284px,#fc7800 288px,#df4600 294px,#d83c00 298px,#d63900 304px,#dd4400 308px,#f46900 314px,#e49611 318px,#95cd38 324px,#5efa4e 328px,#58f850 334px,#54ef50 338px,#51e850 344px,#4bc74d 348px,#49b04b 354px,#4bbe4d 358px,#4dd64f 364px,#4ee350 368px,#56f450 374px,#71eb47 378px,#7ee141 384px,#97cc37 388px,#adb92e 394px,#b6b429 398px,#cca71e 404px)"></div>
<div style="left:776.5px;top:4.5px;width:5.6px;height:403.9px;background:linear-gradient(#560056 0px,#560056 28px,#560156 34px,#560156 58px,#560a56 64px,#542456 68px,#514854 74px,#504b53 78px,#4f5153 84px,#4f5652 88px,#4e5952 94px,#4f5153 98px,#514854 104px,#533755 108px,#542d56 114px,#551d56 118px,#561556 124px,#560856 128px,#560556 134px,#560356 138px,#560356 144px,#560456 148px,#560456 168px,#560656 174px,#560c56 178px,#561256 184px,#551c56 188px,#542b56 194px,#533155 198px,#523a55 204px,#514854 208px,#4f5253 214px,#4f5552 218px,#4e5e51 224px,#4c6a50 228px,#4b764f 234px,#4b794e 238px,#4a814d 244px,#498e4c 248px,#489c4b 254px,#48a54a 258px,#49b14b 264px,#4dd74f 268px,#53ec50 274px,#6af049 278px,#d89f18 284px,#fc7700 288px,#de4400 294px,#d73b00 298px,#d53800 304px,#dc4200 308px,#f46800 314px,#e59511 318px,#97cb37 324px,#60f84e 328px,#59fa50 334px,#55f150 338px,#52ea50 344px,#4cca4e 348px,#4ab44c 354px,#4bc24d 358px,#4dda4f 364px,#4fe450 368px,#57f550 374px,#73e946 378px,#80df41 384px,#98ca37 388px,#aeb82d 394px,#b8b328 398px,#cea61d 404px)"></div>
<div style="left:781.5px;top:4.5px;width:5.6px;height:403.9px;background:linear-gradient(#560056 0px,#560056 38px,#560156 44px,#560156 58px,#560a56 64px,#542556 68px,#514854 74px,#504b53 78px,#4f5153 84px,#4f5652 88px,#4e5952 94px,#4f5153 98px,#514854 104px,#533755 108px,#542d56 114px,#551c56 118px,#561456 124px,#560856 128px,#560556 134px,#560356 138px,#560356 148px,#560456 154px,#560456 168px,#560656 174px,#560c56 178px,#561156 184px,#551b56 188px,#542b56 194px,#533155 198px,#523955 204px,#514754 208px,#4f5153 214px,#4f5452 218px,#4e5d51 224px,#4c6950 228px,#4b754f 234px,#4b784e 238px,#4a804e 244px,#498d4c 248px,#499b4b 254px,#48a44a 258px,#49b04b 264px,#4dd64f 268px,#52ec50 274px,#6af14a 278px,#d7a018 284px,#fc7700 288px,#de4500 294px,#d73b00 298px,#d53800 304px,#dd4300 308px,#f46800 314px,#e59511 318px,#97cc37 324px,#5ff94e 328px,#58fa50 334px,#54f050 338px,#51ea50 344px,#4cc94e 348px,#4ab24c 354px,#4bc04d 358px,#4dd94f 364px,#4fe450 368px,#56f550 374px,#73ea46 378px,#80e041 384px,#98cb37 388px,#aeb92d 394px,#b7b328 398px,#cda61d 404px)"></div>
<div style="left:786.5px;top:4.5px;width:5.6px;height:403.9px;background:linear-gradient(#560156 0px,#560156 34px,#560256 38px,#560256 58px,#560c56 64px,#542956 68px,#504c53 74px,#504f53 78px,#4f5552 84px,#4e5b52 88px,#4e5e51 94px,#4f5552 98px,#504c53 104px,#523b55 108px,#533155 114px,#551f56 118px,#551756 124px,#560956 128px,#560656 134px,#560456 138px,#560456 148px,#560556 154px,#560556 168px,#560756 174px,#560e56 178px,#561456 184px,#551e56 188px,#532e55 194px,#533455 198px,#523d55 204px,#504b53 208px,#4f5552 214px,#4e5852 218px,#4d6151 224px,#4c6e4f 228px,#4b7a4e 234px,#4b7e4e 238px,#4a854d 244px,#49934c 248px,#48a04a 254px,#49aa4b 258px,#4ab64c 264px,#4ddc4f 268px,#54ef50 274px,#6dee48 278px,#d99e17 284px,#fa7500 288px,#dd4200 294px,#d53900 298px,#d33600 304px,#db4000 308px,#f26500 314px,#e79410 318px,#9ac936 324px,#63f64c 328px,#5afc50 334px,#56f350 338px,#53ec50 344px,#4ccf4e 348px,#4ab94c 354px,#4bc64d 358px,#4edf50 364px,#50e750 368px,#58f850 374px,#76e745 378px,#83dd40 384px,#9bc836 388px,#b0b72c 394px,#bab127 398px,#d0a41c 404px)"></div>
<div style="left:791.5px;top:4.5px;width:5.6px;height:403.9px;background:linear-gradient(#560056 0px,#560056 58px,#560a56 64px,#542556 68px,#514854 74px,#504b54 78px,#4f5053 84px,#4f5652 88px,#4e5952 94px,#4f5053 98px,#514754 104px,#533655 108px,#542c56 114px,#551b56 118px,#561456 124px,#560756 128px,#560556 134px,#560356 138px,#560356 154px,#560456 158px,#560456 168px,#560556 174px,#560b56 178px,#561156 184px,#551a56 188px,#542956 194px,#533055 198px,#533855 204px,#514654 208px,#505053 214px,#4f5353 218px,#4e5c52 224px,#4c6850 228px,#4b734f 234px,#4b774f 238px,#4a7e4e 244px,#4a8c4c 248px,#49994b 254px,#48a24a 258px,#49ae4b 264px,#4dd44f 268px,#52eb50 274px,#69f24a 278px,#d7a019 284px,#fc7800 288px,#df4500 294px,#d83c00 298px,#d63900 304px,#dd4300 308px,#f46900 314px,#e59611 318px,#96cc38 324px,#5efa4e 328px,#58f950 334px,#54f050 338px,#51e950 344px,#4bc74d 348px,#49b14b 354px,#4bbf4d 358px,#4dd74f 364px,#4ee350 368px,#56f450 374px,#72eb46 378px,#7fe141 384px,#97cb37 388px,#adb92e 394px,#b7b329 398px,#cca61e 404px)"></div>
<div style="left:796.5px;top:4.5px;width:5.6px;height:403.9px;background:linear-gradient(#560356 0px,#560356 24px,#560456 28px,#560456 58px,#561256 64px,#533255 68px,#4f5552 74px,#4e5852 78px,#4e5e51 84px,#4d6351 88px,#4c6650 94px,#4e5e51 98px,#4f5552 104px,#514354 108px,#523955 114px,#542756 118px,#551d56 124px,#560b56 128px,#560856 134px,#560656 138px,#560756 144px,#560756 164px,#560856 168px,#560956 174px,#561356 178px,#551a56 184px,#542556 188px,#533655 194px,#523c55 198px,#514554 204px,#4f5353 208px,#4e5d51 214px,#4d6051 218px,#4c6950 224px,#4b794e 228px,#4a854d 234px,#4a884d 238px,#49904c 244px,#489d4b 248px,#49ac4b 254px,#4ab64c 258px,#4bc14d 264px,#4fe550 268px,#56f450 274px,#74e946 278px,#dd9b15 284px,#f87000 288px,#d93e00 294px,#d23400 298px,#d03200 304px,#d83c00 308px,#f06100 314px,#eb910e 318px,#9fc434 324px,#6af14a 328px,#60f84e 334px,#58f950 338px,#55f250 344px,#4ddb4f 348px,#4bc44d 354px,#4dd24f 358px,#50e650 364px,#52ec50 368px,#5afd50 374px,#7de242 378px,#89d83d 384px,#a0c333 388px,#b5b429 394px,#bfaf25 398px,#d5a21a 404px)"></div>
<div style="left:801.5px;top:4.5px;width:5.6px;height:403.9px;background:linear-gradient(#560256 0px,#560256 28px,#560356 34px,#560356 58px,#560f56 64px,#542e56 68px,#4f5153 74px,#4f5452 78px,#4e5a52 84px,#4d5f51 88px,#4d6251 94px,#4e5a52 98px,#4f5153 104px,#523f55 108px,#533555 114px,#552356 118px,#551a56 124px,#560a56 128px,#560756 134px,#560556 138px,#560556 144px,#560656 148px,#560656 168px,#560856 174px,#561056 178px,#551756 184px,#552256 188px,#533255 194px,#533855 198px,#524155 204px,#504f53 208px,#4e5952 214px,#4e5c52 218px,#4d6550 224px,#4b734f 228px,#4a7f4e 234px,#4a834d 238px,#4a8b4c 244px,#49984b 248px,#48a64a 254px,#49b04b 258px,#4abb4c 264px,#4ee250 268px,#55f150 274px,#71ec47 278px,#db9d16 284px,#f97200 288px,#db4000 294px,#d43700 298px,#d23400 304px,#d93e00 308px,#f16300 314px,#e9930f 318px,#9cc635 324px,#66f44b 328px,#5cfb4f 334px,#57f650 338px,#54ef50 344px,#4dd44f 348px,#4bbe4d 354px,#4ccc4e 358px,#4ee350 364px,#51e950 368px,#59fa50 374px,#79e544 378px,#85db3f 384px,#9dc635 388px,#b2b62b 394px,#bcb026 398px,#d2a31b 404px)"></div>
<div style="left:806.5px;top:4.5px;width:5.6px;height:403.9px;background:linear-gradient(#560056 0px,#560056 28px,#560156 34px,#560156 58px,#560b56 64px,#542756 68px,#504a54 74px,#504d53 78px,#4f5253 84px,#4e5852 88px,#4e5b52 94px,#4f5353 98px,#504954 104px,#533855 108px,#532e55 114px,#551d56 118px,#561556 124px,#560856 128px,#560556 134px,#560356 138px,#560356 144px,#560456 148px,#560456 168px,#560656 174px,#560c56 178px,#561256 184px,#551c56 188px,#542b56 194px,#533155 198px,#523a55 204px,#514854 208px,#4f5253 214px,#4f5552 218px,#4e5e51 224px,#4c6a50 228px,#4b764f 234px,#4b794e 238px,#4a814d 244px,#498e4c 248px,#489c4b 254px,#48a54a 258px,#49b14b 264px,#4dd74f 268px,#53ec50 274px,#6af049 278px,#d89f18 284px,#fc7700 288px,#de4400 294px,#d73b00 298px,#d53800 304px,#dc4200 308px,#f46800 314px,#e59511 318px,#97cb37 324px,#60f84e 328px,#59fa50 334px,#54f050 338px,#51ea50 344px,#4cc94e 348px,#4ab24c 354px,#4bc04d 358px,#4dd84f 364px,#4fe350 368px,#56f450 374px,#72ea46 378px,#7fe141 384px,#97cb37 388px,#adb92e 394px,#b6b429 398px,#cca71e 404px)"></div>
<div style="left:811.5px;top:4.5px;width:5.6px;height:403.9px;background:linear-gradient(#560056 0px,#560056 14px,#560156 18px,#560156 58px,#560c56 64px,#542956 68px,#504b53 74px,#504e53 78px,#4f5452 84px,#4e5952 88px,#4e5c51 94px,#4f5452 98px,#504b53 104px,#523a55 108px,#533055 114px,#551e56 118px,#551656 124px,#560856 128px,#560656 134px,#560456 138px,#560456 154px,#560556 158px,#560556 168px,#560656 174px,#560d56 178px,#561356 184px,#551d56 188px,#542d56 194px,#533355 198px,#523b55 204px,#504a54 208px,#4f5353 214px,#4f5652 218px,#4d6051 224px,#4c6c50 228px,#4b784e 234px,#4b7b4e 238px,#4a834d 244px,#49904c 248px,#489e4a 254px,#49a84b 258px,#4ab34c 264px,#4dd94f 268px,#53ed50 274px,#6cef49 278px,#d89f18 284px,#fb7600 288px,#dd4300 294px,#d63a00 298px,#d43700 304px,#dc4100 308px,#f36700 314px,#e69510 318px,#98ca37 324px,#61f74d 328px,#59fb50 334px,#55f150 338px,#52ea50 344px,#4ccb4e 348px,#4ab44c 354px,#4bc14d 358px,#4dd94f 364px,#4fe450 368px,#56f450 374px,#72ea46 378px,#7fe041 384px,#97cc37 388px,#acb92e 394px,#b6b429 398px,#cca71e 404px)"></div>
<div style="left:816.5px;top:4.5px;width:5.6px;height:403.9px;background:linear-gradient(#560156 0px,#560156 38px,#560256 44px,#560256 58px,#560c56 64px,#542a56 68px,#504d53 74px,#505053 78px,#4f5552 84px,#4e5b52 88px,#4e5e51 94px,#4f5552 98px,#504c53 104px,#523b55 108px,#533155 114px,#551f56 118px,#551756 124px,#560956 128px,#560656 134px,#560456 138px,#560456 148px,#560556 154px,#560556 168px,#560756 174px,#560e56 178px,#561456 184px,#551e56 188px,#532e55 194px,#533455 198px,#523d55 204px,#504b53 208px,#4f5552 214px,#4e5852 218px,#4d6151 224px,#4c6e4f 228px,#4b7a4e 234px,#4b7d4e 238px,#4a854d 244px,#49924c 248px,#48a04a 254px,#49aa4b 258px,#4ab54c 264px,#4ddb4f 268px,#53ee50 274px,#6dee48 278px,#d99e17 284px,#fb7500 288px,#dd4300 294px,#d63900 298px,#d33600 304px,#db4100 308px,#f26600 314px,#e79410 318px,#99c936 324px,#63f64d 328px,#59fb50 334px,#55f250 338px,#52eb50 344px,#4ccc4e 348px,#4ab54c 354px,#4bc24d 358px,#4dd94f 364px,#4fe450 368px,#56f450 374px,#71eb47 378px,#7ee141 384px,#96cc38 388px,#acba2e 394px,#b5b429 398px,#cba81f 404px)"></div>
<div style="left:821.5px;top:4.5px;width:5.6px;height:403.9px;background:linear-gradient(#560156 0px,#560156 34px,#560256 38px,#560256 58px,#560c56 64px,#542956 68px,#504d53 74px,#505053 78px,#4f5552 84px,#4e5b52 88px,#4e5e51 94px,#4f5552 98px,#504c53 104px,#523b55 108px,#533155 114px,#551f56 118px,#551756 124px,#560956 128px,#560656 134px,#560456 138px,#560456 148px,#560556 154px,#560556 168px,#560756 174px,#560e56 178px,#561456 184px,#551e56 188px,#532e55 194px,#533455 198px,#523d55 204px,#504b53 208px,#4f5552 214px,#4e5852 218px,#4d6151 224px,#4c6e4f 228px,#4b7a4e 234px,#4b7e4e 238px,#4a854d 244px,#49934c 248px,#48a04a 254px,#49aa4b 258px,#4ab64c 264px,#4ddc4f 268px,#54ef50 274px,#6dee48 278px,#d99e17 284px,#fa7500 288px,#dd4200 294px,#d53900 298px,#d33600 304px,#db4000 308px,#f26500 314px,#e79410 318px,#9ac936 324px,#63f64c 328px,#59fb50 334px,#55f150 338px,#52ea50 344px,#4ccb4e 348px,#4ab34c 354px,#4bc04d 358px,#4dd74f 364px,#4ee350 368px,#55f350 374px,#6fec47 378px,#7de242 384px,#94ce38 388px,#aabb2f 394px,#b3b52a 398px,#c8a920 404px)"></div>
<div style="left:826.5px;top:4.5px;width:5.6px;height:403.9px;background:linear-gradient(#560056 0px,#560056 34px,#560156 38px,#560156 58px,#560a56 64px,#542556 68px,#514854 74px,#504b53 78px,#4f5153 84px,#4f5752 88px,#4e5a52 94px,#4f5153 98px,#514854 104px,#533755 108px,#542d56 114px,#551c56 118px,#561556 124px,#560856 128px,#560556 134px,#560356 138px,#560356 148px,#560456 154px,#560456 168px,#560656 174px,#560c56 178px,#561256 184px,#551b56 188px,#542b56 194px,#533155 198px,#523a55 204px,#514854 208px,#4f5153 214px,#4f5452 218px,#4e5e51 224px,#4c6950 228px,#4b754f 234px,#4b794e 238px,#4a804e 244px,#498e4c 248px,#489b4b 254px,#48a54a 258px,#49b04b 264px,#4dd64f 268px,#52ec50 274px,#6af14a 278px,#d79f18 284px,#fc7700 288px,#de4400 294px,#d73b00 298px,#d53800 304px,#dd4300 308px,#f46800 314px,#e59511 318px,#97cb37 324px,#60f94e 328px,#58f850 334px,#53ee50 338px,#50e750 344px,#4bc34d 348px,#49ac4b 354px,#4ab84c 358px,#4cce4e 364px,#4ddb4f 368px,#54ee50 374px,#6af14a 378px,#77e744 384px,#8fd33b 388px,#a4bf32 394px,#aeb82d 398px,#c3ac22 404px)"></div>
<div style="left:831.5px;top:4.5px;width:5.6px;height:403.9px;background:linear-gradient(#560356 0px,#560356 28px,#560456 34px,#560456 58px,#560f56 64px,#532f55 68px,#4f5353 74px,#4f5652 78px,#4e5c52 84px,#4d6151 88px,#4d6451 94px,#4e5c52 98px,#4f5353 104px,#524155 108px,#533755 114px,#542656 118px,#551c56 124px,#560b56 128px,#560856 134px,#560656 138px,#560656 144px,#560756 148px,#560756 168px,#560956 174px,#561356 178px,#551956 184px,#542556 188px,#533555 194px,#523b55 198px,#514454 204px,#4f5353 208px,#4e5d51 214px,#4d6051 218px,#4c6950 224px,#4b784e 228px,#4a844d 234px,#4a884d 238px,#498f4c 244px,#489c4b 248px,#49ab4b 254px,#4ab54c 258px,#4bc14d 264px,#4fe450 268px,#56f450 274px,#74e946 278px,#dd9b15 284px,#f87000 288px,#d93e00 294px,#d23500 298px,#d03200 304px,#d83c00 308px,#f06100 314px,#eb910e 318px,#9fc434 324px,#69f14a 328px,#5cfb4f 334px,#56f450 338px,#53ed50 344px,#4dd24f 348px,#4aba4c 354px,#4bc64d 358px,#4ddc4f 364px,#4fe550 368px,#56f450 374px,#70ec47 378px,#7de242 384px,#94ce39 388px,#a9bb30 394px,#b3b62b 398px,#c7aa20 404px)"></div>
<div style="left:836.5px;top:4.5px;width:5.6px;height:403.9px;background:linear-gradient(#560356 0px,#560356 4px,#560456 8px,#560456 48px,#560556 54px,#560556 58px,#561056 64px,#533055 68px,#4f5552 74px,#4e5852 78px,#4e5d51 84px,#4d6351 88px,#4c6650 94px,#4e5e51 98px,#4f5552 104px,#514354 108px,#523955 114px,#542856 118px,#551e56 124px,#560c56 128px,#560956 134px,#560756 138px,#560756 154px,#560856 158px,#560856 168px,#560956 174px,#561556 178px,#551b56 184px,#542756 188px,#533755 194px,#523d55 198px,#514754 204px,#4f5552 208px,#4d5f51 214px,#4d6251 218px,#4c6c50 224px,#4b7b4e 228px,#4a874d 234px,#4a8b4c 238px,#49924c 244px,#489f4a 248px,#49ae4b 254px,#4ab94c 258px,#4bc44d 264px,#50e650 268px,#57f550 274px,#75e845 278px,#de9b15 284px,#f76e00 288px,#d93d00 294px,#d13300 298px,#cf3100 304px,#d73b00 308px,#ef5f00 314px,#ec900d 318px,#a1c233 324px,#6bf049 328px,#5dfb4f 334px,#56f550 338px,#53ee50 344px,#4dd34f 348px,#4abb4c 354px,#4bc54d 358px,#4ddb4f 364px,#4fe450 368px,#56f350 374px,#6eed48 378px,#7ce342 384px,#92d039 388px,#a7bd31 394px,#b1b72c 398px,#c5ab22 404px)"></div>
<div style="left:841.5px;top:4.5px;width:5.6px;height:403.9px;background:linear-gradient(#560156 0px,#560156 14px,#560256 18px,#560256 58px,#560b56 64px,#542756 68px,#504c53 74px,#504f53 78px,#4f5452 84px,#4e5a52 88px,#4e5d51 94px,#4f5552 98px,#504c53 104px,#523b55 108px,#533155 114px,#552056 118px,#551856 124px,#560956 128px,#560756 134px,#560556 138px,#560556 158px,#560656 164px,#560656 168px,#560756 174px,#560f56 178px,#551556 184px,#551f56 188px,#533055 194px,#533655 198px,#523f55 204px,#504d53 208px,#4f5752 214px,#4e5a52 218px,#4d6351 224px,#4b704f 228px,#4b7c4e 234px,#4a804e 238px,#4a884d 244px,#49954b 248px,#48a24a 254px,#49ac4b 258px,#4ab84c 264px,#4ede50 268px,#54f050 274px,#6fed48 278px,#da9e17 284px,#fa7400 288px,#dc4200 294px,#d53800 298px,#d33500 304px,#da4000 308px,#f26400 314px,#e8930f 318px,#9bc836 324px,#64f54c 328px,#58f950 334px,#53ee50 338px,#50e750 344px,#4bc44d 348px,#49ac4b 354px,#4ab64c 358px,#4cca4e 364px,#4dd64f 368px,#52eb50 374px,#63f64c 378px,#71eb47 384px,#88d93d 388px,#9cc635 394px,#a8bc30 398px,#bbb126 404px)"></div>
<div style="left:846.5px;top:4.5px;width:5.6px;height:403.9px;background:linear-gradient(#560156 0px,#560156 14px,#560256 18px,#560256 58px,#560a56 64px,#542656 68px,#504c53 74px,#504e53 78px,#4f5452 84px,#4e5a52 88px,#4e5d51 94px,#4f5552 98px,#504b53 104px,#523a55 108px,#533155 114px,#552156 118px,#551856 124px,#560956 128px,#560756 134px,#560556 138px,#560556 154px,#560656 158px,#560656 168px,#560756 174px,#560f56 178px,#551656 184px,#552056 188px,#533055 194px,#533655 198px,#523f55 204px,#504d53 208px,#4f5752 214px,#4e5a52 218px,#4d6351 224px,#4b714f 228px,#4b7d4e 234px,#4a804e 238px,#4a884d 244px,#49954b 248px,#48a34a 254px,#49ad4b 258px,#4ab84c 264px,#4edf50 268px,#54f050 274px,#6fed48 278px,#da9d17 284px,#fa7300 288px,#dc4100 294px,#d53800 298px,#d33500 304px,#da3f00 308px,#f26400 314px,#e8930f 318px,#9bc835 324px,#64f54c 328px,#58f850 334px,#53ec50 338px,#50e650 344px,#4bc24d 348px,#49a94b 354px,#49b24b 358px,#4bc64d 364px,#4cd24e 368px,#51e850 374px,#5ff94e 378px,#6dee48 384px,#84dc3f 388px,#98ca37 394px,#a3c032 398px,#b7b329 404px)"></div>
<div style="left:851.5px;top:4.5px;width:5.6px;height:403.9px;background:linear-gradient(#560056 0px,#560056 44px,#560156 48px,#560156 58px,#560856 64px,#552056 68px,#514554 74px,#514854 78px,#504d53 84px,#4f5353 88px,#4f5652 94px,#504e53 98px,#514554 104px,#533455 108px,#542a56 114px,#551c56 118px,#561456 124px,#560856 128px,#560556 134px,#560356 138px,#560356 148px,#560456 154px,#560456 168px,#560556 174px,#560b56 178px,#561156 184px,#551b56 188px,#542a56 194px,#533055 198px,#523955 204px,#514754 208px,#4f5153 214px,#4f5452 218px,#4e5d51 224px,#4c6950 228px,#4b744f 234px,#4b784e 238px,#4a804e 244px,#498d4c 248px,#499a4b 254px,#48a44a 258px,#49af4b 264px,#4dd54f 268px,#52ec50 274px,#6af14a 278px,#d7a018 284px,#fc7700 288px,#de4500 294px,#d73b00 298px,#d53800 304px,#dd4300 308px,#f46800 314px,#e59611 318px,#96cc37 324px,#5ff94e 328px,#55f350 334px,#50e750 338px,#4edd50 344px,#4ab64c 348px,#489d4b 354px,#48a44a 358px,#4ab84c 364px,#4bc34d 368px,#4edf50 374px,#58f950 378px,#64f54c 384px,#7ae443 388px,#8ed33b 394px,#9ac936 398px,#aeb82d 404px)"></div>
<div style="left:856.5px;top:4.5px;width:5.6px;height:403.9px;background:linear-gradient(#560056 0px,#560056 38px,#560156 44px,#560156 58px,#560856 64px,#551f56 68px,#514454 74px,#514754 78px,#504d53 84px,#4f5253 88px,#4f5652 94px,#504d53 98px,#514454 104px,#533355 108px,#542a56 114px,#551c56 118px,#561456 124px,#560856 128px,#560556 134px,#560356 138px,#560356 148px,#560456 154px,#560456 168px,#560656 174px,#560c56 178px,#561156 184px,#551b56 188px,#542b56 194px,#533155 198px,#523955 204px,#514754 208px,#4f5153 214px,#4f5452 218px,#4e5d51 224px,#4c6950 228px,#4b754f 234px,#4b784e 238px,#4a804e 244px,#498d4c 248px,#499b4b 254px,#48a44a 258px,#49b04b 264px,#4dd64f 268px,#52ec50 274px,#6af14a 278px,#d7a018 284px,#fc7700 288px,#de4500 294px,#d73b00 298px,#d53800 304px,#dd4300 308px,#f46800 314px,#e59511 318px,#97cc37 324px,#5ff94e 328px,#55f250 334px,#4fe550 338px,#4dda4f 344px,#4ab34c 348px,#499a4b 354px,#48a04a 358px,#4ab24c 364px,#4bbe4d 368px,#4dd84f 374px,#57f550 378px,#5ff94e 384px,#74e845 388px,#89d83d 394px,#94ce38 398px,#a9bb30 404px)"></div>
<div style="left:861.5px;top:4.5px;width:5.6px;height:403.9px;background:linear-gradient(#560156 0px,#560156 38px,#560256 44px,#560256 58px,#560856 64px,#552156 68px,#514754 74px,#504a54 78px,#504f53 84px,#4f5552 88px,#4e5852 94px,#4f5053 98px,#514754 104px,#533655 108px,#542d56 114px,#551e56 118px,#551756 124px,#560956 128px,#560656 134px,#560456 138px,#560456 148px,#560556 154px,#560556 168px,#560756 174px,#560d56 178px,#561456 184px,#551d56 188px,#542e56 194px,#533455 198px,#523c55 204px,#504a54 208px,#4f5452 214px,#4e5752 218px,#4d6151 224px,#4c6d50 228px,#4b794e 234px,#4b7d4e 238px,#4a844d 244px,#49924c 248px,#489f4a 254px,#49a94b 258px,#4ab54c 264px,#4ddb4f 268px,#53ee50 274px,#6def49 278px,#d99e17 284px,#fb7500 288px,#dd4300 294px,#d63900 298px,#d43600 304px,#db4100 308px,#f36600 314px,#e79410 318px,#99c936 324px,#63f64d 328px,#56f350 334px,#50e650 338px,#4ddc4f 344px,#4ab54c 348px,#489c4b 354px,#48a14a 358px,#4ab24c 364px,#4bbd4d 368px,#4dd64f 374px,#56f450 378px,#5dfa4f 384px,#72eb47 388px,#86da3e 394px,#91d03a 398px,#a5be31 404px)"></div>
<div style="left:866.5px;top:4.5px;width:5.6px;height:403.9px;background:linear-gradient(#560056 0px,#560056 8px,#560156 14px,#560156 58px,#560756 64px,#551e56 68px,#514454 74px,#514754 78px,#504d53 84px,#4f5353 88px,#4f5652 94px,#504e53 98px,#514454 104px,#533355 108px,#542a56 114px,#551d56 118px,#551556 124px,#560856 128px,#560656 134px,#560456 138px,#560456 154px,#560556 158px,#560556 168px,#560656 174px,#560c56 178px,#561356 184px,#551c56 188px,#542b56 194px,#533155 198px,#523a55 204px,#514854 208px,#4f5253 214px,#4f5552 218px,#4e5e51 224px,#4c6a50 228px,#4b764f 234px,#4b794e 238px,#4a814d 244px,#498e4c 248px,#489c4b 254px,#48a54a 258px,#49b14b 264px,#4dd74f 268px,#52ec50 274px,#6af049 278px,#d99f18 284px,#fb7500 288px,#dd4300 294px,#d63a00 298px,#d43700 304px,#dc4100 308px,#f36600 314px,#e69510 318px,#99ca37 324px,#62f74d 328px,#55f150 334px,#4fe350 338px,#4dd74f 344px,#49b04b 348px,#49974b 354px,#499a4b 358px,#49aa4b 364px,#4ab54c 368px,#4ccd4e 374px,#54ee50 378px,#59fb50 384px,#6bf049 388px,#7fe141 394px,#8bd63c 398px,#9ec534 404px)"></div>
<div style="left:871.5px;top:4.5px;width:5.6px;height:403.9px;background:linear-gradient(#560356 0px,#560356 34px,#560456 38px,#560456 58px,#560956 64px,#542456 68px,#504b54 74px,#504e53 78px,#4f5452 84px,#4e5a52 88px,#4e5d51 94px,#4f5552 98px,#504b54 104px,#523a55 108px,#533055 114px,#552356 118px,#551b56 124px,#560b56 128px,#560856 134px,#560656 138px,#560656 148px,#560756 154px,#560756 168px,#560956 174px,#561256 178px,#551856 184px,#552256 188px,#533155 194px,#533755 198px,#524055 204px,#504e53 208px,#4e5852 214px,#4e5b52 218px,#4d6451 224px,#4b724f 228px,#4b7e4e 234px,#4a824d 238px,#4a8a4d 244px,#49974b 248px,#48a54a 254px,#49af4b 258px,#4abb4c 264px,#4ee150 268px,#54f050 274px,#70ec47 278px,#dd9b15 284px,#f87000 288px,#da3e00 294px,#d23500 298px,#d03200 304px,#d83c00 308px,#f06100 314px,#eb910e 318px,#9fc434 324px,#69f14a 328px,#57f650 334px,#50e750 338px,#4ee050 344px,#4aba4c 348px,#489f4a 354px,#48a14a 358px,#49b14b 364px,#4abb4c 368px,#4cd24e 374px,#54f050 378px,#5afd50 384px,#6cef49 388px,#7fe041 394px,#8bd63c 398px,#9dc534 404px)"></div>
<div style="left:876.5px;top:4.5px;width:5.6px;height:403.9px;background:linear-gradient(#560056 0px,#560056 28px,#560156 34px,#560156 58px,#560656 64px,#551a56 68px,#523e55 74px,#524155 78px,#514854 84px,#504e53 88px,#4f5153 94px,#514854 98px,#523e55 104px,#542e56 108px,#552356 114px,#551956 118px,#561256 124px,#560856 128px,#560556 134px,#560356 138px,#560356 144px,#560456 148px,#560456 168px,#560656 174px,#560b56 178px,#560f56 184px,#551856 188px,#542556 194px,#542b56 198px,#533355 204px,#524155 208px,#504a54 214px,#504e53 218px,#4f5752 224px,#4d6251 228px,#4c6c50 234px,#4c704f 238px,#4b784e 244px,#4a854d 248px,#49934c 254px,#489c4b 258px,#49a74b 264px,#4ccd4e 268px,#50e750 274px,#64f54c 278px,#d89f18 284px,#fc7600 288px,#de4400 294px,#d73b00 298px,#d53800 304px,#dc4200 308px,#f36700 314px,#e69511 318px,#97cb37 324px,#60f84e 328px,#53ed50 334px,#4dda4f 338px,#4ccc4e 344px,#48a74a 348px,#498d4c 354px,#498f4c 358px,#489c4b 364px,#48a54a 368px,#4aba4c 374px,#4fe450 378px,#55f150 384px,#5cfb4f 388px,#6fed48 394px,#7ce242 398px,#8fd33b 404px)"></div>
<div style="left:881.5px;top:4.5px;width:5.6px;height:403.9px;background:linear-gradient(#560056 0px,#560056 58px,#560456 64px,#551656 68px,#523955 74px,#523d55 78px,#514454 84px,#504a54 88px,#504c53 94px,#514454 98px,#523955 104px,#542956 108px,#551e56 114px,#551556 118px,#560f56 124px,#560756 128px,#560456 134px,#560356 138px,#560356 158px,#560456 164px,#560456 168px,#560556 174px,#560a56 178px,#560c56 184px,#561556 188px,#552056 194px,#542556 198px,#542e56 204px,#523b55 208px,#514454 214px,#514754 218px,#4f5153 224px,#4e5c51 228px,#4d6550 234px,#4c6850 238px,#4c704f 244px,#4b7e4e 248px,#4a8c4c 254px,#49954b 258px,#48a04a 264px,#4bc44d 268px,#4ee250 274px,#5ff94e 278px,#d7a019 284px,#fc7800 288px,#df4500 294px,#d83c00 298px,#d63900 304px,#dd4300 308px,#f46900 314px,#e49611 318px,#96cc38 324px,#5efa4e 328px,#52ea50 334px,#4dd34f 338px,#4bc54d 344px,#48a04a 348px,#4a864d 354px,#4a874d 358px,#49934c 364px,#489c4b 368px,#49ae4b 374px,#4dd94f 378px,#52eb50 384px,#58f850 388px,#66f44b 394px,#73ea46 398px,#86da3e 404px)"></div>
<div style="left:886.5px;top:4.5px;width:5.6px;height:403.9px;background:linear-gradient(#560356 0px,#560356 14px,#560456 18px,#560456 58px,#560856 64px,#551e56 68px,#514354 74px,#514854 78px,#4f5053 84px,#4f5752 88px,#4e5852 94px,#4f5053 98px,#514354 104px,#533355 108px,#542856 114px,#551d56 118px,#551756 124px,#560a56 128px,#560856 134px,#560756 138px,#560756 158px,#560856 164px,#560856 168px,#560956 174px,#561056 178px,#561556 184px,#551d56 188px,#542956 194px,#532e55 198px,#533755 204px,#514454 208px,#504e53 214px,#4f5153 218px,#4e5a52 224px,#4c6650 228px,#4b714f 234px,#4b754f 238px,#4b7d4e 244px,#4a8b4c 248px,#499a4b 254px,#48a34a 258px,#49af4b 264px,#4dd34f 268px,#51e950 274px,#67f34b 278px,#dc9c16 284px,#f97100 288px,#da3f00 294px,#d33500 298px,#d13200 304px,#d93d00 308px,#f06100 314px,#ea920e 318px,#9fc434 324px,#6af14a 328px,#55f350 334px,#4ee350 338px,#4dd64f 344px,#49b14b 348px,#49964b 354px,#49954b 358px,#48a14a 364px,#49aa4b 368px,#4abb4c 374px,#4ee350 378px,#54f050 384px,#5afd50 388px,#6bf049 394px,#78e644 398px,#8ad73d 404px)"></div>
<div style="left:891.5px;top:4.5px;width:5.6px;height:403.9px;background:linear-gradient(#560156 0px,#560156 4px,#560256 8px,#560256 54px,#560356 58px,#560656 64px,#551756 68px,#523a55 74px,#523f55 78px,#514854 84px,#504e53 88px,#504f53 94px,#514754 98px,#523a55 104px,#542a56 108px,#551e56 114px,#551756 118px,#561156 124px,#560856 128px,#560656 134px,#560556 138px,#560556 154px,#560656 158px,#560656 168px,#560756 174px,#560b56 178px,#560f56 184px,#551656 188px,#551f56 194px,#552356 198px,#542c56 204px,#523955 208px,#514354 214px,#514654 218px,#504f53 224px,#4e5a52 228px,#4d6451 234px,#4c6650 238px,#4c6e4f 244px,#4b7d4e 248px,#4a8b4c 254px,#49944b 258px,#489f4a 264px,#4bc24d 268px,#4edf50 274px,#5dfb4f 278px,#d5a11a 284px,#fe7a00 288px,#df4600 294px,#d83c00 298px,#d53800 304px,#dd4300 308px,#f46900 314px,#e59611 318px,#98ca37 324px,#63f64c 328px,#53ed50 334px,#4dd64f 338px,#4cc84e 344px,#48a44a 348px,#4a894d 354px,#4a874d 358px,#49924c 364px,#499a4b 368px,#49a94b 374px,#4cd04e 378px,#50e750 384px,#55f350 388px,#5efa4e 394px,#6bf049 398px,#7de242 404px)"></div>
<div style="left:896.5px;top:4.5px;width:5.6px;height:403.9px;background:linear-gradient(#560056 0px,#560056 34px,#560156 38px,#560156 58px,#560356 64px,#561056 68px,#533155 74px,#533655 78px,#524055 84px,#514754 88px,#514754 94px,#523f55 98px,#533155 104px,#552256 108px,#551756 114px,#561056 118px,#560b56 124px,#560656 128px,#560556 134px,#560356 138px,#560356 148px,#560456 154px,#560456 168px,#560556 174px,#560956 178px,#560b56 184px,#560f56 188px,#551756 194px,#551a56 198px,#552156 204px,#532f55 208px,#533855 214px,#523b55 218px,#514454 224px,#504f53 228px,#4e5852 234px,#4e5b52 238px,#4d6251 244px,#4c6e4f 248px,#4b7d4e 254px,#4a864d 258px,#49914c 264px,#49b24b 268px,#4cce4e 274px,#57f750 278px,#cba81f 284px,#fc8002 288px,#e54e00 294px,#dd4300 298px,#da3e00 304px,#e34b00 308px,#f87100 314px,#df9a14 318px,#91d13a 324px,#5dfb4f 328px,#50e750 334px,#4cc94e 338px,#4abc4c 344px,#49994b 348px,#4b7e4e 354px,#4b7b4e 358px,#4a854d 364px,#4a8c4c 368px,#49994b 374px,#4bbd4d 378px,#4ddb4f 384px,#51e950 388px,#57f650 394px,#5ff94e 398px,#70ec47 404px)"></div>
<div style="left:901.5px;top:4.5px;width:5.6px;height:403.9px;background:linear-gradient(#560156 0px,#560256 4px,#560256 48px,#560356 54px,#560356 58px,#560556 64px,#561256 68px,#533355 74px,#523955 78px,#514454 84px,#504b54 88px,#504a54 94px,#514254 98px,#533355 104px,#542456 108px,#551856 114px,#561256 118px,#560c56 124px,#560856 128px,#560656 134px,#560556 138px,#560556 158px,#560656 164px,#560656 174px,#560a56 178px,#560b56 184px,#561056 188px,#551856 194px,#551a56 198px,#552256 204px,#532f55 208px,#533855 214px,#523b55 218px,#514454 224px,#505053 228px,#4e5952 234px,#4e5b52 238px,#4d6351 244px,#4c704f 248px,#4a7f4e 254px,#4a884d 258px,#49934c 264px,#4ab34c 268px,#4cce4e 274px,#58f850 278px,#c6aa21 284px,#fb8203 288px,#e75000 294px,#de4400 298px,#da3f00 304px,#e44c00 308px,#f97200 314px,#de9b15 318px,#92d039 324px,#60f94e 328px,#52ea50 334px,#4ccf4e 338px,#4bc14d 344px,#489e4a 348px,#4a824d 354px,#4b7e4e 358px,#4a874d 364px,#498f4c 368px,#499a4b 374px,#4bbd4d 378px,#4dda4f 384px,#51e850 388px,#56f550 394px,#5dfb4f 398px,#6dee48 404px)"></div>
<div style="left:906.5px;top:4.5px;width:5.6px;height:403.9px;background:linear-gradient(#560056 0px,#560056 58px,#560256 64px,#560b56 68px,#542956 74px,#532f55 78px,#523a55 84px,#524155 88px,#524055 94px,#533855 98px,#542856 104px,#551b56 108px,#560f56 114px,#560b56 118px,#560956 124px,#560556 128px,#560456 134px,#560356 138px,#560356 168px,#560456 174px,#560756 178px,#560856 184px,#560a56 188px,#560e56 194px,#561156 198px,#551756 204px,#552256 208px,#542c56 214px,#532e55 218px,#533755 224px,#514255 228px,#504b53 234px,#504e53 238px,#4f5552 244px,#4d6151 248px,#4c6e4f 254px,#4b774f 258px,#4a824d 264px,#48a04a 268px,#4ab94c 274px,#53ee50 278px,#b7b328 284px,#f68807 288px,#ee5d00 294px,#e54e00 298px,#e04800 304px,#eb5700 308px,#ff7d00 314px,#d6a119 318px,#87d93e 324px,#59fa50 328px,#4fe450 334px,#4bbf4d 338px,#49b14b 344px,#49904c 348px,#4b744f 354px,#4c6f4f 358px,#4b774e 364px,#4b7e4e 368px,#4a894d 374px,#48a74a 378px,#4bc64d 384px,#4dd94f 388px,#51e950 394px,#56f450 398px,#5ff94e 404px)"></div>
<div style="left:911.5px;top:4.5px;width:5.6px;height:403.9px;background:linear-gradient(#560156 0px,#560156 4px,#560256 8px,#560256 54px,#560356 58px,#560456 64px,#560d56 68px,#542d56 74px,#533455 78px,#524055 84px,#514754 88px,#514554 94px,#523e55 98px,#542c56 104px,#551e56 108px,#561256 114px,#560c56 118px,#560a56 124px,#560756 128px,#560656 134px,#560556 138px,#560556 168px,#560656 174px,#560956 178px,#560a56 184px,#560b56 188px,#561056 194px,#561256 198px,#551956 204px,#542456 208px,#542d56 214px,#533055 218px,#523955 224px,#514454 228px,#504d53 234px,#505053 238px,#4e5752 244px,#4d6351 248px,#4b714f 254px,#4b7a4e 258px,#4a864d 264px,#48a34a 268px,#4abc4c 274px,#54ef50 278px,#b2b62b 284px,#f48a09 288px,#ef6000 294px,#e75000 298px,#e14800 304px,#ec5a00 308px,#fe7e01 314px,#d5a11a 318px,#88d83d 324px,#5bfc50 328px,#51e850 334px,#4bc74d 338px,#4ab94c 344px,#49974b 348px,#4b7b4e 354px,#4b754f 358px,#4b7c4e 364px,#4a834d 368px,#4a8c4c 374px,#49aa4b 378px,#4cc84e 384px,#4dda4f 388px,#51e950 394px,#56f450 398px,#5efa4e 404px)"></div>
<div style="left:916.5px;top:4.5px;width:5.6px;height:403.9px;background:linear-gradient(#560356 0px,#560356 8px,#560456 14px,#560456 58px,#560656 64px,#560f56 68px,#533055 74px,#533855 78px,#514554 84px,#504c53 88px,#504a54 94px,#514255 98px,#532f55 104px,#552156 108px,#561456 114px,#560f56 118px,#560b56 124px,#560956 128px,#560856 134px,#560756 138px,#560756 168px,#560856 174px,#560a56 178px,#560b56 184px,#560d56 188px,#561156 194px,#561356 198px,#551a56 204px,#542556 208px,#532f55 214px,#533155 218px,#523a55 224px,#514554 228px,#504e53 234px,#4f5153 238px,#4e5952 244px,#4d6550 248px,#4b744f 254px,#4b7d4e 258px,#4a894d 264px,#48a54a 268px,#4bbd4d 274px,#54f050 278px,#abba2e 284px,#f18d0b 288px,#f26400 294px,#e95300 298px,#e24a00 304px,#ee5d00 308px,#fd7f01 314px,#d3a31b 318px,#89d83d 324px,#5efa4e 328px,#52eb50 334px,#4cce4e 338px,#4bc04d 344px,#489e4a 348px,#4a814d 354px,#4b7a4e 358px,#4a814d 364px,#4a874d 368px,#498f4c 374px,#49ac4b 378px,#4ccb4e 384px,#4ddb4f 388px,#51e950 394px,#56f450 398px,#5dfb4f 404px)"></div>
<div style="left:921.5px;top:4.5px;width:5.6px;height:403.9px;background:linear-gradient(#560356 0px,#560356 28px,#560456 34px,#560456 58px,#560556 64px,#560c56 68px,#542c56 74px,#533455 78px,#514255 84px,#504954 88px,#514654 94px,#523e55 98px,#542b56 104px,#551d56 108px,#561056 114px,#560c56 118px,#560a56 124px,#560856 128px,#560756 134px,#560656 138px,#560656 148px,#560756 154px,#560756 174px,#560956 178px,#560a56 184px,#560b56 188px,#560d56 194px,#560e56 198px,#561556 204px,#551f56 208px,#542856 214px,#542b56 218px,#533355 224px,#523e55 228px,#514754 234px,#504a54 238px,#4f5253 244px,#4d5e51 248px,#4c6b50 254px,#4b744f 258px,#4a804e 264px,#489c4b 268px,#4ab24c 274px,#52ea50 278px,#9ec534 284px,#e79410 288px,#f76e00 294px,#ed5c00 298px,#e65000 304px,#f26600 308px,#fa8203 314px,#cba71e 318px,#82de40 324px,#5afd50 328px,#51e950 334px,#4cc84e 338px,#4aba4c 344px,#49994b 348px,#4b7b4e 354px,#4b744f 358px,#4b7a4e 364px,#4a804e 368px,#4a874d 374px,#48a14a 378px,#4bc04d 384px,#4ccf4e 388px,#4fe350 394px,#53ee50 398px,#58f950 404px)"></div>
<div style="left:926.5px;top:4.5px;width:5.6px;height:403.9px;background:linear-gradient(#560256 0px,#560256 18px,#560356 24px,#560356 58px,#560456 64px,#560a56 68px,#542756 74px,#532f55 78px,#523e55 84px,#514554 88px,#524155 94px,#523a55 98px,#542556 104px,#551956 108px,#560c56 114px,#560a56 118px,#560856 124px,#560756 128px,#560656 134px,#560656 174px,#560856 178px,#560856 184px,#560956 188px,#560a56 194px,#560b56 198px,#560f56 204px,#551956 208px,#552156 214px,#542356 218px,#542c56 224px,#533755 228px,#523f55 234px,#514255 238px,#504a54 244px,#4e5752 248px,#4d6451 254px,#4c6b50 258px,#4b774f 264px,#49924c 268px,#48a64a 274px,#4fe550 278px,#8fd23a 284px,#dd9c15 288px,#fc7800 294px,#f26400 298px,#eb5700 304px,#f76f00 308px,#f88606 314px,#c3ac22 318px,#7ae443 324px,#58f950 328px,#50e650 334px,#4bc14d 338px,#4ab34c 344px,#49934c 348px,#4b754f 354px,#4c6d50 358px,#4b724f 364px,#4b784e 368px,#4b7e4e 374px,#49974b 378px,#4ab64c 384px,#4bc34d 388px,#4dd84f 394px,#51e850 398px,#55f350 404px)"></div>
<div style="left:931.5px;top:4.5px;width:5.6px;height:403.9px;background:linear-gradient(#560056 0px,#560056 14px,#560156 18px,#560156 58px,#560256 64px,#560856 68px,#551f56 74px,#542756 78px,#533655 84px,#523d55 88px,#523955 94px,#533255 98px,#551d56 104px,#561356 108px,#560956 114px,#560756 118px,#560656 124px,#560556 128px,#560456 134px,#560456 174px,#560556 178px,#560656 184px,#560656 188px,#560756 194px,#560756 198px,#560a56 204px,#561156 208px,#551856 214px,#551a56 218px,#552156 224px,#542c56 228px,#533555 234px,#533755 238px,#523f55 244px,#504c53 248px,#4e5952 254px,#4d5f51 258px,#4c6950 264px,#4a834d 268px,#49964b 274px,#4dd74f 278px,#7ee142 284px,#d0a41c 288px,#fd8002 294px,#f87000 298px,#f06000 304px,#fd7a00 308px,#f48a09 314px,#b9b228 318px,#6fec47 324px,#55f250 328px,#4edf50 334px,#4ab44c 338px,#48a74a 344px,#4a884d 348px,#4c6a50 354px,#4d6351 358px,#4c6750 364px,#4c6c50 368px,#4b714f 374px,#4a894d 378px,#48a64a 384px,#49b24b 388px,#4bc64d 394px,#4edd50 398px,#51ea50 404px)"></div>
<div style="left:936.5px;top:4.5px;width:5.6px;height:403.9px;background:linear-gradient(#560156 0px,#560156 34px,#560256 38px,#560256 64px,#560756 68px,#551e56 74px,#542756 78px,#533755 84px,#523e55 88px,#523955 94px,#533255 98px,#551c56 104px,#561256 108px,#560856 114px,#560756 118px,#560656 124px,#560556 128px,#560456 134px,#560456 168px,#560556 174px,#560556 184px,#560656 188px,#560656 194px,#560756 198px,#560956 204px,#560f56 208px,#551656 214px,#551856 218px,#551f56 224px,#542a56 228px,#533255 234px,#533555 238px,#523d55 244px,#504a54 248px,#4f5752 254px,#4e5d51 258px,#4c6750 264px,#4a804e 268px,#49924c 274px,#4dd34f 278px,#73ea46 284px,#c8a920 288px,#fa8204 294px,#fb7500 298px,#f26400 304px,#fe7e01 308px,#f28c0a 314px,#b4b52a 318px,#6cef49 324px,#55f150 328px,#4ee050 334px,#4ab44c 338px,#48a74a 344px,#4a894d 348px,#4c6a50 354px,#4d6251 358px,#4c6650 364px,#4c6b50 368px,#4c6f4f 374px,#4a864d 378px,#48a34a 384px,#49ae4b 388px,#4bc14d 394px,#4dd94f 398px,#50e750 404px)"></div>
<div style="left:941.5px;top:4.5px;width:5.6px;height:403.9px;background:linear-gradient(#560056 0px,#560056 28px,#560156 34px,#560156 64px,#560656 68px,#551b56 74px,#552356 78px,#533355 84px,#523a55 88px,#533555 94px,#532e55 98px,#551956 104px,#560f56 108px,#560756 114px,#560556 118px,#560456 124px,#560456 128px,#560356 134px,#560356 168px,#560456 174px,#560456 188px,#560556 194px,#560556 198px,#560856 204px,#560c56 208px,#561256 214px,#561456 218px,#551a56 224px,#542456 228px,#542c56 234px,#532f55 238px,#533755 244px,#514454 248px,#4f5153 254px,#4e5752 258px,#4d6151 264px,#4b784e 268px,#4a894d 274px,#4cc94e 278px,#66f44b 284px,#bdaf25 288px,#f88606 294px,#fe7c00 298px,#f56a00 304px,#fc8103 308px,#ec900d 314px,#adb92d 318px,#65f44c 324px,#53ed50 328px,#4dda4f 334px,#49ae4b 338px,#48a14a 344px,#4a834d 348px,#4c6550 354px,#4e5e51 358px,#4d6151 364px,#4d6550 368px,#4c6850 374px,#4b7e4e 378px,#499b4b 384px,#48a44a 388px,#4ab74c 394px,#4cce4e 398px,#4ee250 404px)"></div>
<div style="left:946.5px;top:4.5px;width:5.6px;height:403.9px;background:linear-gradient(#560256 0px,#560356 4px,#560356 54px,#560456 58px,#560456 64px,#560856 68px,#552156 74px,#542a56 78px,#523b55 84px,#514354 88px,#523d55 94px,#533655 98px,#551e56 104px,#561456 108px,#560956 114px,#560856 118px,#560656 124px,#560656 188px,#560756 194px,#560756 198px,#560956 204px,#560f56 208px,#551656 214px,#551856 218px,#551f56 224px,#542a56 228px,#533255 234px,#533555 238px,#523d55 244px,#504b54 248px,#4e5852 254px,#4e5e51 258px,#4c6850 264px,#4a814e 268px,#49924c 274px,#4dd34f 278px,#65f44c 284px,#bdb026 288px,#f88506 294px,#fe7a00 298px,#f46800 304px,#fc8002 308px,#ee8f0c 314px,#b0b82c 318px,#6af14a 324px,#55f350 328px,#4fe550 334px,#4abb4c 338px,#49ad4b 344px,#498e4c 348px,#4c6f4f 354px,#4c6650 358px,#4c6950 364px,#4c6e4f 368px,#4b714f 374px,#4a874d 378px,#48a54a 384px,#49ae4b 388px,#4bc04d 394px,#4dd84f 398px,#50e650 404px)"></div>
<div style="left:951.5px;top:4.5px;width:5.6px;height:403.9px;background:linear-gradient(#560156 0px,#560156 4px,#560256 8px,#560256 54px,#560356 58px,#560356 64px,#560756 68px,#551d56 74px,#542656 78px,#533755 84px,#523e55 88px,#523955 94px,#533255 98px,#551b56 104px,#561156 108px,#560856 114px,#560656 118px,#560556 124px,#560556 198px,#560856 204px,#560c56 208px,#561256 214px,#561556 218px,#551b56 224px,#542556 228px,#542d56 234px,#533055 238px,#533855 244px,#514554 248px,#4f5353 254px,#4e5952 258px,#4d6351 264px,#4b7a4e 268px,#4a8b4c 274px,#4cca4e 278px,#5cfb4f 284px,#b6b429 288px,#f68807 294px,#fe7e01 298px,#f66c00 304px,#fa8204 308px,#ea920e 314px,#abba2f 318px,#64f54c 324px,#54ef50 328px,#4ee150 334px,#4ab44c 338px,#48a74a 344px,#4a894d 348px,#4c6a50 354px,#4d6151 358px,#4d6451 364px,#4c6850 368px,#4c6b50 374px,#4a804e 378px,#489e4a 384px,#48a64a 388px,#4ab84c 394px,#4cd04e 398px,#4ee250 404px)"></div>
<div style="left:956.5px;top:4.5px;width:4.1px;height:403.9px;background:linear-gradient(#560256 0px,#560356 4px,#560356 48px,#560456 54px,#560456 64px,#560856 68px,#552056 74px,#542956 78px,#523b55 84px,#514255 88px,#523c55 94px,#533555 98px,#551d56 104px,#561356 108px,#560856 114px,#560756 118px,#560656 124px,#560656 198px,#560956 204px,#560e56 208px,#561556 214px,#551756 218px,#551d56 224px,#542856 228px,#533055 234px,#533355 238px,#523b55 244px,#514954 248px,#4f5652 254px,#4e5c51 258px,#4c6650 264px,#4b7e4e 268px,#498f4c 274px,#4ccf4e 278px,#5dfb4f 284px,#b6b329 288px,#f68707 294px,#ff7e00 298px,#f56b00 304px,#fb8203 308px,#eb910e 314px,#acba2e 318px,#67f34b 324px,#55f250 328px,#4fe450 334px,#4ab94c 338px,#49ac4b 344px,#498d4c 348px,#4c6e4f 354px,#4d6550 358px,#4c6850 364px,#4c6c50 368px,#4c6f4f 374px,#4a854d 378px,#48a24a 384px,#49ab4b 388px,#4abd4c 394px,#4dd44f 398px,#4fe450 404px)"></div>
</div>
<svg width="2000" height="483" viewBox="0 0 2000 483" font-family="Liberation Sans, Arial, sans-serif">
<line x1="106.4" y1="4.5" x2="106.4" y2="410.2" stroke="#161616" stroke-opacity="0.75" stroke-width="2.6"/>
<line x1="207.8" y1="4.5" x2="207.8" y2="410.2" stroke="#161616" stroke-opacity="0.75" stroke-width="2.6"/>
<line x1="308.6" y1="4.5" x2="308.6" y2="410.2" stroke="#161616" stroke-opacity="0.75" stroke-width="2.6"/>
<line x1="73.9" y1="57.1" x2="341.6" y2="57.1" stroke="#9c969c" stroke-width="1.6"/>
<line x1="68.5" y1="13.1" x2="73.5" y2="13.1" stroke="#000" stroke-width="1.4"/>
<line x1="346.5" y1="13.1" x2="341.5" y2="13.1" stroke="#000" stroke-width="1.4"/>
<line x1="68.5" y1="35.0" x2="72.0" y2="35.0" stroke="#000" stroke-width="1.4"/>
<line x1="346.5" y1="35.0" x2="343.0" y2="35.0" stroke="#000" stroke-width="1.4"/>
<line x1="68.5" y1="57.0" x2="73.5" y2="57.0" stroke="#000" stroke-width="1.4"/>
<line x1="346.5" y1="57.0" x2="341.5" y2="57.0" stroke="#000" stroke-width="1.4"/>
<line x1="68.5" y1="79.0" x2="72.0" y2="79.0" stroke="#000" stroke-width="1.4"/>
<line x1="346.5" y1="79.0" x2="343.0" y2="79.0" stroke="#000" stroke-width="1.4"/>
<line x1="68.5" y1="100.9" x2="73.5" y2="100.9" stroke="#000" stroke-width="1.4"/>
<line x1="346.5" y1="100.9" x2="341.5" y2="100.9" stroke="#000" stroke-width="1.4"/>
<line x1="68.5" y1="122.8" x2="72.0" y2="122.8" stroke="#000" stroke-width="1.4"/>
<line x1="346.5" y1="122.8" x2="343.0" y2="122.8" stroke="#000" stroke-width="1.4"/>
<line x1="68.5" y1="144.8" x2="73.5" y2="144.8" stroke="#000" stroke-width="1.4"/>
<line x1="346.5" y1="144.8" x2="341.5" y2="144.8" stroke="#000" stroke-width="1.4"/>
<line x1="68.5" y1="166.8" x2="72.0" y2="166.8" stroke="#000" stroke-width="1.4"/>
<line x1="346.5" y1="166.8" x2="343.0" y2="166.8" stroke="#000" stroke-width="1.4"/>
<line x1="68.5" y1="188.7" x2="73.5" y2="188.7" stroke="#000" stroke-width="1.4"/>
<line x1="346.5" y1="188.7" x2="341.5" y2="188.7" stroke="#000" stroke-width="1.4"/>
<line x1="68.5" y1="210.7" x2="72.0" y2="210.7" stroke="#000" stroke-width="1.4"/>
<line x1="346.5" y1="210.7" x2="343.0" y2="210.7" stroke="#000" stroke-width="1.4"/>
<line x1="68.5" y1="232.6" x2="73.5" y2="232.6" stroke="#000" stroke-width="1.4"/>
<line x1="346.5" y1="232.6" x2="341.5" y2="232.6" stroke="#000" stroke-width="1.4"/>
<line x1="68.5" y1="254.5" x2="72.0" y2="254.5" stroke="#000" stroke-width="1.4"/>
<line x1="346.5" y1="254.5" x2="343.0" y2="254.5" stroke="#000" stroke-width="1.4"/>
<line x1="68.5" y1="276.5" x2="73.5" y2="276.5" stroke="#000" stroke-width="1.4"/>
<line x1="346.5" y1="276.5" x2="341.5" y2="276.5" stroke="#000" stroke-width="1.4"/>
<line x1="68.5" y1="298.4" x2="72.0" y2="298.4" stroke="#000" stroke-width="1.4"/>
<line x1="346.5" y1="298.4" x2="343.0" y2="298.4" stroke="#000" stroke-width="1.4"/>
<line x1="68.5" y1="320.4" x2="73.5" y2="320.4" stroke="#000" stroke-width="1.4"/>
<line x1="346.5" y1="320.4" x2="341.5" y2="320.4" stroke="#000" stroke-width="1.4"/>
<line x1="68.5" y1="342.3" x2="72.0" y2="342.3" stroke="#000" stroke-width="1.4"/>
<line x1="346.5" y1="342.3" x2="343.0" y2="342.3" stroke="#000" stroke-width="1.4"/>
<line x1="68.5" y1="364.3" x2="73.5" y2="364.3" stroke="#000" stroke-width="1.4"/>
<line x1="346.5" y1="364.3" x2="341.5" y2="364.3" stroke="#000" stroke-width="1.4"/>
<line x1="68.5" y1="386.2" x2="72.0" y2="386.2" stroke="#000" stroke-width="1.4"/>
<line x1="346.5" y1="386.2" x2="343.0" y2="386.2" stroke="#000" stroke-width="1.4"/>
<line x1="68.5" y1="408.2" x2="73.5" y2="408.2" stroke="#000" stroke-width="1.4"/>
<line x1="346.5" y1="408.2" x2="341.5" y2="408.2" stroke="#000" stroke-width="1.4"/>
<line x1="106.4" y1="421.0" x2="106.4" y2="416.5" stroke="#000" stroke-width="1.4"/>
<line x1="207.8" y1="421.0" x2="207.8" y2="416.5" stroke="#000" stroke-width="1.4"/>
<line x1="308.6" y1="421.0" x2="308.6" y2="416.5" stroke="#000" stroke-width="1.4"/>
<rect x="68.5" y="4.5" width="278.0" height="416.5" fill="none" stroke="#000" stroke-width="1.8"/>
<text x="106.4" y="447" font-size="23" text-anchor="middle">Γ</text>
<text x="207.8" y="447" font-size="23" text-anchor="middle">X</text>
<text x="308.6" y="447" font-size="23" text-anchor="middle">Γ</text>
<rect x="252.4" y="10.5" width="88.5" height="37.1" fill="#fff" fill-opacity="0.72"/>
<text x="336.2" y="38.1" font-size="24" text-anchor="end">T=12 K</text>
<line x1="413.2" y1="4.5" x2="413.2" y2="410.2" stroke="#161616" stroke-opacity="0.75" stroke-width="2.6"/>
<line x1="513.9" y1="4.5" x2="513.9" y2="410.2" stroke="#161616" stroke-opacity="0.75" stroke-width="2.6"/>
<line x1="615.1" y1="4.5" x2="615.1" y2="410.2" stroke="#161616" stroke-opacity="0.75" stroke-width="2.6"/>
<line x1="379.9" y1="57.1" x2="648.6" y2="57.1" stroke="#9c969c" stroke-width="1.6"/>
<line x1="374.5" y1="13.1" x2="379.5" y2="13.1" stroke="#000" stroke-width="1.4"/>
<line x1="653.5" y1="13.1" x2="648.5" y2="13.1" stroke="#000" stroke-width="1.4"/>
<line x1="374.5" y1="35.0" x2="378.0" y2="35.0" stroke="#000" stroke-width="1.4"/>
<line x1="653.5" y1="35.0" x2="650.0" y2="35.0" stroke="#000" stroke-width="1.4"/>
<line x1="374.5" y1="57.0" x2="379.5" y2="57.0" stroke="#000" stroke-width="1.4"/>
<line x1="653.5" y1="57.0" x2="648.5" y2="57.0" stroke="#000" stroke-width="1.4"/>
<line x1="374.5" y1="79.0" x2="378.0" y2="79.0" stroke="#000" stroke-width="1.4"/>
<line x1="653.5" y1="79.0" x2="650.0" y2="79.0" stroke="#000" stroke-width="1.4"/>
<line x1="374.5" y1="100.9" x2="379.5" y2="100.9" stroke="#000" stroke-width="1.4"/>
<line x1="653.5" y1="100.9" x2="648.5" y2="100.9" stroke="#000" stroke-width="1.4"/>
<line x1="374.5" y1="122.8" x2="378.0" y2="122.8" stroke="#000" stroke-width="1.4"/>
<line x1="653.5" y1="122.8" x2="650.0" y2="122.8" stroke="#000" stroke-width="1.4"/>
<line x1="374.5" y1="144.8" x2="379.5" y2="144.8" stroke="#000" stroke-width="1.4"/>
<line x1="653.5" y1="144.8" x2="648.5" y2="144.8" stroke="#000" stroke-width="1.4"/>
<line x1="374.5" y1="166.8" x2="378.0" y2="166.8" stroke="#000" stroke-width="1.4"/>
<line x1="653.5" y1="166.8" x2="650.0" y2="166.8" stroke="#000" stroke-width="1.4"/>
<line x1="374.5" y1="188.7" x2="379.5" y2="188.7" stroke="#000" stroke-width="1.4"/>
<line x1="653.5" y1="188.7" x2="648.5" y2="188.7" stroke="#000" stroke-width="1.4"/>
<line x1="374.5" y1="210.7" x2="378.0" y2="210.7" stroke="#000" stroke-width="1.4"/>
<line x1="653.5" y1="210.7" x2="650.0" y2="210.7" stroke="#000" stroke-width="1.4"/>
<line x1="374.5" y1="232.6" x2="379.5" y2="232.6" stroke="#000" stroke-width="1.4"/>
<line x1="653.5" y1="232.6" x2="648.5" y2="232.6" stroke="#000" stroke-width="1.4"/>
<line x1="374.5" y1="254.5" x2="378.0" y2="254.5" stroke="#000" stroke-width="1.4"/>
<line x1="653.5" y1="254.5" x2="650.0" y2="254.5" stroke="#000" stroke-width="1.4"/>
<line x1="374.5" y1="276.5" x2="379.5" y2="276.5" stroke="#000" stroke-width="1.4"/>
<line x1="653.5" y1="276.5" x2="648.5" y2="276.5" stroke="#000" stroke-width="1.4"/>
<line x1="374.5" y1="298.4" x2="378.0" y2="298.4" stroke="#000" stroke-width="1.4"/>
<line x1="653.5" y1="298.4" x2="650.0" y2="298.4" stroke="#000" stroke-width="1.4"/>
<line x1="374.5" y1="320.4" x2="379.5" y2="320.4" stroke="#000" stroke-width="1.4"/>
<line x1="653.5" y1="320.4" x2="648.5" y2="320.4" stroke="#000" stroke-width="1.4"/>
<line x1="374.5" y1="342.3" x2="378.0" y2="342.3" stroke="#000" stroke-width="1.4"/>
<line x1="653.5" y1="342.3" x2="650.0" y2="342.3" stroke="#000" stroke-width="1.4"/>
<line x1="374.5" y1="364.3" x2="379.5" y2="364.3" stroke="#000" stroke-width="1.4"/>
<line x1="653.5" y1="364.3" x2="648.5" y2="364.3" stroke="#000" stroke-width="1.4"/>
<line x1="374.5" y1="386.2" x2="378.0" y2="386.2" stroke="#000" stroke-width="1.4"/>
<line x1="653.5" y1="386.2" x2="650.0" y2="386.2" stroke="#000" stroke-width="1.4"/>
<line x1="374.5" y1="408.2" x2="379.5" y2="408.2" stroke="#000" stroke-width="1.4"/>
<line x1="653.5" y1="408.2" x2="648.5" y2="408.2" stroke="#000" stroke-width="1.4"/>
<line x1="413.2" y1="421.0" x2="413.2" y2="416.5" stroke="#000" stroke-width="1.4"/>
<line x1="513.9" y1="421.0" x2="513.9" y2="416.5" stroke="#000" stroke-width="1.4"/>
<line x1="615.1" y1="421.0" x2="615.1" y2="416.5" stroke="#000" stroke-width="1.4"/>
<rect x="374.5" y="4.5" width="279.0" height="416.5" fill="none" stroke="#000" stroke-width="1.8"/>
<text x="413.2" y="447" font-size="23" text-anchor="middle">Γ</text>
<text x="513.9" y="447" font-size="23" text-anchor="middle">X</text>
<text x="615.1" y="447" font-size="23" text-anchor="middle">Γ</text>
<rect x="559.4" y="10.5" width="88.5" height="37.1" fill="#fff" fill-opacity="0.72"/>
<text x="643.2" y="38.1" font-size="24" text-anchor="end">T=30 K</text>
<line x1="720.2" y1="4.5" x2="720.2" y2="410.2" stroke="#161616" stroke-opacity="0.75" stroke-width="2.6"/>
<line x1="820.9" y1="4.5" x2="820.9" y2="410.2" stroke="#161616" stroke-opacity="0.75" stroke-width="2.6"/>
<line x1="922.1" y1="4.5" x2="922.1" y2="410.2" stroke="#161616" stroke-opacity="0.75" stroke-width="2.6"/>
<line x1="686.9" y1="57.1" x2="955.1" y2="57.1" stroke="#9c969c" stroke-width="1.6"/>
<line x1="681.5" y1="13.1" x2="686.5" y2="13.1" stroke="#000" stroke-width="1.4"/>
<line x1="960.0" y1="13.1" x2="955.0" y2="13.1" stroke="#000" stroke-width="1.4"/>
<line x1="681.5" y1="35.0" x2="685.0" y2="35.0" stroke="#000" stroke-width="1.4"/>
<line x1="960.0" y1="35.0" x2="956.5" y2="35.0" stroke="#000" stroke-width="1.4"/>
<line x1="681.5" y1="57.0" x2="686.5" y2="57.0" stroke="#000" stroke-width="1.4"/>
<line x1="960.0" y1="57.0" x2="955.0" y2="57.0" stroke="#000" stroke-width="1.4"/>
<line x1="681.5" y1="79.0" x2="685.0" y2="79.0" stroke="#000" stroke-width="1.4"/>
<line x1="960.0" y1="79.0" x2="956.5" y2="79.0" stroke="#000" stroke-width="1.4"/>
<line x1="681.5" y1="100.9" x2="686.5" y2="100.9" stroke="#000" stroke-width="1.4"/>
<line x1="960.0" y1="100.9" x2="955.0" y2="100.9" stroke="#000" stroke-width="1.4"/>
<line x1="681.5" y1="122.8" x2="685.0" y2="122.8" stroke="#000" stroke-width="1.4"/>
<line x1="960.0" y1="122.8" x2="956.5" y2="122.8" stroke="#000" stroke-width="1.4"/>
<line x1="681.5" y1="144.8" x2="686.5" y2="144.8" stroke="#000" stroke-width="1.4"/>
<line x1="960.0" y1="144.8" x2="955.0" y2="144.8" stroke="#000" stroke-width="1.4"/>
<line x1="681.5" y1="166.8" x2="685.0" y2="166.8" stroke="#000" stroke-width="1.4"/>
<line x1="960.0" y1="166.8" x2="956.5" y2="166.8" stroke="#000" stroke-width="1.4"/>
<line x1="681.5" y1="188.7" x2="686.5" y2="188.7" stroke="#000" stroke-width="1.4"/>
<line x1="960.0" y1="188.7" x2="955.0" y2="188.7" stroke="#000" stroke-width="1.4"/>
<line x1="681.5" y1="210.7" x2="685.0" y2="210.7" stroke="#000" stroke-width="1.4"/>
<line x1="960.0" y1="210.7" x2="956.5" y2="210.7" stroke="#000" stroke-width="1.4"/>
<line x1="681.5" y1="232.6" x2="686.5" y2="232.6" stroke="#000" stroke-width="1.4"/>
<line x1="960.0" y1="232.6" x2="955.0" y2="232.6" stroke="#000" stroke-width="1.4"/>
<line x1="681.5" y1="254.5" x2="685.0" y2="254.5" stroke="#000" stroke-width="1.4"/>
<line x1="960.0" y1="254.5" x2="956.5" y2="254.5" stroke="#000" stroke-width="1.4"/>
<line x1="681.5" y1="276.5" x2="686.5" y2="276.5" stroke="#000" stroke-width="1.4"/>
<line x1="960.0" y1="276.5" x2="955.0" y2="276.5" stroke="#000" stroke-width="1.4"/>
<line x1="681.5" y1="298.4" x2="685.0" y2="298.4" stroke="#000" stroke-width="1.4"/>
<line x1="960.0" y1="298.4" x2="956.5" y2="298.4" stroke="#000" stroke-width="1.4"/>
<line x1="681.5" y1="320.4" x2="686.5" y2="320.4" stroke="#000" stroke-width="1.4"/>
<line x1="960.0" y1="320.4" x2="955.0" y2="320.4" stroke="#000" stroke-width="1.4"/>
<line x1="681.5" y1="342.3" x2="685.0" y2="342.3" stroke="#000" stroke-width="1.4"/>
<line x1="960.0" y1="342.3" x2="956.5" y2="342.3" stroke="#000" stroke-width="1.4"/>
<line x1="681.5" y1="364.3" x2="686.5" y2="364.3" stroke="#000" stroke-width="1.4"/>
<line x1="960.0" y1="364.3" x2="955.0" y2="364.3" stroke="#000" stroke-width="1.4"/>
<line x1="681.5" y1="386.2" x2="685.0" y2="386.2" stroke="#000" stroke-width="1.4"/>
<line x1="960.0" y1="386.2" x2="956.5" y2="386.2" stroke="#000" stroke-width="1.4"/>
<line x1="681.5" y1="408.2" x2="686.5" y2="408.2" stroke="#000" stroke-width="1.4"/>
<line x1="960.0" y1="408.2" x2="955.0" y2="408.2" stroke="#000" stroke-width="1.4"/>
<line x1="720.2" y1="421.0" x2="720.2" y2="416.5" stroke="#000" stroke-width="1.4"/>
<line x1="820.9" y1="421.0" x2="820.9" y2="416.5" stroke="#000" stroke-width="1.4"/>
<line x1="922.1" y1="421.0" x2="922.1" y2="416.5" stroke="#000" stroke-width="1.4"/>
<rect x="681.5" y="4.5" width="278.5" height="416.5" fill="none" stroke="#000" stroke-width="1.8"/>
<text x="720.2" y="447" font-size="23" text-anchor="middle">Γ</text>
<text x="820.9" y="447" font-size="23" text-anchor="middle">X</text>
<text x="922.1" y="447" font-size="23" text-anchor="middle">Γ</text>
<rect x="865.9" y="10.5" width="88.5" height="37.1" fill="#fff" fill-opacity="0.72"/>
<text x="949.7" y="38.1" font-size="24" text-anchor="end">T=60 K</text>
<rect x="81.9" y="10.5" width="80.2" height="37.1" fill="#fff" fill-opacity="0.72"/>
<text x="87.5" y="38.1" font-size="24">kz=0.4</text>
<text x="64.4" y="65.3" font-size="23.5" text-anchor="end" letter-spacing="0.6">0</text>
<text x="64.4" y="153.1" font-size="23.5" text-anchor="end" letter-spacing="0.6">−2</text>
<text x="64.4" y="240.9" font-size="23.5" text-anchor="end" letter-spacing="0.6">−4</text>
<text x="64.4" y="328.7" font-size="23.5" text-anchor="end" letter-spacing="0.6">−6</text>
<text x="64.4" y="416.5" font-size="23.5" text-anchor="end" letter-spacing="0.6">−8</text>
<text x="58.2" y="37.3" font-size="31" font-weight="bold" text-anchor="end">(a)</text>
<text transform="translate(17.6,213) rotate(-90)" font-size="22.5" text-anchor="middle"><tspan font-style="italic">E</tspan><tspan font-size="16" dy="4.5" font-style="italic">B</tspan><tspan dy="-4.5"> [eV]</tspan></text>
<defs><linearGradient id="cb" x1="0" y1="1" x2="0" y2="0">
<stop offset="0.0000" stop-color="#560056"/>
<stop offset="0.0511" stop-color="#560c56"/>
<stop offset="0.0827" stop-color="#551e56"/>
<stop offset="0.1247" stop-color="#523e55"/>
<stop offset="0.1773" stop-color="#4c6950"/>
<stop offset="0.2299" stop-color="#48a24a"/>
<stop offset="0.2825" stop-color="#4ee250"/>
<stop offset="0.3298" stop-color="#5afd50"/>
<stop offset="0.3876" stop-color="#82de40"/>
<stop offset="0.4507" stop-color="#a8bc30"/>
<stop offset="0.5348" stop-color="#d4a21a"/>
<stop offset="0.6084" stop-color="#f28c0a"/>
<stop offset="0.6820" stop-color="#ff7d00"/>
<stop offset="0.7662" stop-color="#e85200"/>
<stop offset="0.8503" stop-color="#cc2c00"/>
<stop offset="0.9344" stop-color="#b21000"/>
<stop offset="0.9975" stop-color="#a00000"/>
</linearGradient></defs>
<rect x="1000.5" y="58.4" width="22.5" height="297.2" fill="url(#cb)"/>
<line x1="1023" y1="356.0" x2="1028" y2="356.0" stroke="#aaa" stroke-width="1"/>
<line x1="1023" y1="340.4" x2="1028" y2="340.4" stroke="#aaa" stroke-width="1"/>
<line x1="1023" y1="324.8" x2="1028" y2="324.8" stroke="#aaa" stroke-width="1"/>
<line x1="1023" y1="309.1" x2="1028" y2="309.1" stroke="#aaa" stroke-width="1"/>
<line x1="1023" y1="293.5" x2="1028" y2="293.5" stroke="#aaa" stroke-width="1"/>
<line x1="1023" y1="277.9" x2="1028" y2="277.9" stroke="#aaa" stroke-width="1"/>
<line x1="1023" y1="262.3" x2="1028" y2="262.3" stroke="#aaa" stroke-width="1"/>
<line x1="1023" y1="246.7" x2="1028" y2="246.7" stroke="#aaa" stroke-width="1"/>
<line x1="1023" y1="231.0" x2="1028" y2="231.0" stroke="#aaa" stroke-width="1"/>
<line x1="1023" y1="215.4" x2="1028" y2="215.4" stroke="#aaa" stroke-width="1"/>
<line x1="1023" y1="199.8" x2="1028" y2="199.8" stroke="#aaa" stroke-width="1"/>
<line x1="1023" y1="184.1" x2="1028" y2="184.1" stroke="#aaa" stroke-width="1"/>
<line x1="1023" y1="168.5" x2="1028" y2="168.5" stroke="#aaa" stroke-width="1"/>
<line x1="1023" y1="152.9" x2="1028" y2="152.9" stroke="#aaa" stroke-width="1"/>
<line x1="1023" y1="137.3" x2="1028" y2="137.3" stroke="#aaa" stroke-width="1"/>
<line x1="1023" y1="121.6" x2="1028" y2="121.6" stroke="#aaa" stroke-width="1"/>
<line x1="1023" y1="106.0" x2="1028" y2="106.0" stroke="#aaa" stroke-width="1"/>
<line x1="1023" y1="90.4" x2="1028" y2="90.4" stroke="#aaa" stroke-width="1"/>
<line x1="1023" y1="74.8" x2="1028" y2="74.8" stroke="#aaa" stroke-width="1"/>
<line x1="1023" y1="59.1" x2="1028" y2="59.1" stroke="#aaa" stroke-width="1"/>
<text x="1034.6" y="98.6" font-size="23.5">1.2</text>
<text x="1034.6" y="161.1" font-size="23.5">1.0</text>
<text x="1034.6" y="223.6" font-size="23.5">0.8</text>
<text x="1034.6" y="286.1" font-size="23.5">0.6</text>
<text x="1034.6" y="348.6" font-size="23.5">0.4</text>
<line x1="1107.2" y1="2.5" x2="1107.2" y2="419.5" stroke="#d4d4d4" stroke-width="1.5"/>
<line x1="1180.8" y1="2.5" x2="1180.8" y2="419.5" stroke="#d4d4d4" stroke-width="1.5"/>
<line x1="1254.4" y1="2.5" x2="1254.4" y2="419.5" stroke="#d4d4d4" stroke-width="1.5"/>
<line x1="1328.0" y1="2.5" x2="1328.0" y2="419.5" stroke="#d4d4d4" stroke-width="1.5"/>
<line x1="1401.6" y1="2.5" x2="1401.6" y2="419.5" stroke="#d4d4d4" stroke-width="1.5"/>
<line x1="1195" y1="42.4" x2="1195" y2="419.5" stroke="#b3b3b3" stroke-width="7" stroke-dasharray="13.5 4.8"/>
<line x1="1387.7" y1="170.8" x2="1387.7" y2="419.5" stroke="#7dc87d" stroke-width="7" stroke-dasharray="13.2 5.1"/>
<path d="M1110.8,81.3 C1112.1,85.2 1115.9,103.3 1118.8,105.0 C1121.7,106.7 1125.4,90.5 1128.2,91.5 C1131.0,92.5 1133.7,102.5 1135.7,111.0 C1137.7,119.5 1138.9,133.1 1140.4,142.5 C1142.0,151.9 1143.5,160.1 1145.0,167.5 C1146.5,174.9 1148.4,182.6 1149.7,186.9 C1151.0,191.2 1151.6,191.6 1152.6,193.2 C1153.6,194.8 1154.6,196.0 1155.6,196.7 C1156.6,197.4 1157.6,197.7 1158.6,197.6 C1159.6,197.5 1160.6,196.9 1161.6,196.0 C1162.6,195.1 1163.5,193.9 1164.6,192.3 C1165.7,190.7 1167.0,188.9 1168.3,186.6 C1169.6,184.3 1171.0,181.9 1172.3,178.5 C1173.6,175.1 1174.4,171.9 1176.1,166.0 C1177.8,160.1 1180.5,152.2 1182.3,143.2 C1184.1,134.2 1185.6,121.5 1187.0,112.0 C1188.4,102.5 1189.5,93.8 1190.7,86.0 C1192.0,78.2 1193.5,67.3 1194.5,65.0 C1195.5,62.7 1196.2,67.4 1197.0,72.0 C1197.8,76.6 1198.6,86.2 1199.5,92.8 C1200.4,99.4 1201.4,104.9 1202.3,111.4 C1203.2,117.9 1204.3,125.0 1205.1,131.9 C1205.9,138.8 1206.4,145.5 1207.2,153.0 C1208.0,160.5 1208.6,169.8 1209.9,177.1 C1211.2,184.4 1212.9,191.2 1214.8,197.0 C1216.7,202.8 1218.8,208.0 1221.1,211.9 C1223.4,215.8 1225.4,218.3 1228.5,220.6 C1231.6,222.9 1235.8,224.1 1239.7,225.6 C1243.6,227.1 1248.7,228.5 1252.1,229.3 C1255.5,230.1 1257.0,229.1 1260.0,230.3 C1263.0,231.5 1267.1,233.9 1269.9,236.3 C1272.7,238.7 1274.1,241.8 1276.6,244.5 C1279.1,247.2 1282.0,249.9 1284.8,252.6 C1287.5,255.3 1290.1,258.2 1293.1,260.8 C1296.1,263.4 1299.7,266.1 1303.0,268.2 C1306.3,270.3 1310.0,272.6 1313.0,273.2 C1316.0,273.8 1318.5,273.0 1321.3,271.6 C1324.0,270.2 1326.8,267.8 1329.5,265.0 C1332.2,262.2 1335.0,258.9 1337.8,254.6 C1340.6,250.3 1343.6,244.1 1346.1,239.3 C1348.6,234.5 1350.6,229.0 1352.7,225.8 C1354.8,222.6 1356.5,219.1 1358.7,220.1 C1360.9,221.1 1363.5,228.1 1365.9,231.7 C1368.3,235.3 1370.4,239.7 1373.1,241.8 C1375.8,243.9 1379.6,243.0 1381.8,244.4 C1384.0,245.8 1384.5,245.7 1386.2,250.0 C1387.9,254.3 1390.3,262.7 1392.0,270.5 C1393.7,278.3 1394.9,288.1 1396.3,296.8 C1397.7,305.5 1399.1,316.3 1400.6,322.8 C1402.0,329.3 1403.3,332.8 1405.0,335.6 C1406.7,338.4 1408.2,338.5 1410.7,339.5 C1413.2,340.5 1414.0,340.7 1420.0,341.5 C1426.0,342.3 1436.1,343.3 1446.6,344.2 C1457.1,345.1 1468.1,345.9 1482.8,346.8 C1497.5,347.8 1525.4,349.3 1534.6,349.9 C1543.8,350.5 1537.6,350.3 1538.2,350.4" fill="none" stroke="#7f7f7f" stroke-width="2.6" stroke-linejoin="round" stroke-linecap="round"/>
<path d="M1110.8,87.5 C1112.2,91.3 1116.5,108.8 1119.4,110.4 C1122.3,112.0 1125.5,96.6 1128.2,96.9 C1130.9,97.2 1133.7,104.3 1135.7,112.0 C1137.7,119.7 1138.9,133.9 1140.4,143.2 C1142.0,152.5 1143.5,160.7 1145.0,168.0 C1146.5,175.3 1148.4,182.9 1149.7,187.1 C1151.0,191.3 1151.6,191.7 1152.6,193.3 C1153.6,194.9 1154.6,196.1 1155.6,196.8 C1156.6,197.5 1157.6,197.8 1158.6,197.7 C1159.6,197.6 1160.6,197.0 1161.6,196.1 C1162.6,195.2 1163.5,194.1 1164.6,192.5 C1165.7,190.9 1167.0,188.9 1168.3,186.6 C1169.6,184.3 1171.0,181.9 1172.3,178.5 C1173.6,175.1 1174.4,171.9 1176.1,166.0 C1177.8,160.1 1180.5,152.2 1182.3,143.2 C1184.1,134.2 1185.6,121.3 1187.0,112.0 C1188.4,102.7 1189.5,94.7 1190.7,87.3 C1191.9,79.9 1193.0,69.9 1194.0,67.5 C1195.0,65.1 1196.1,68.8 1197.0,73.0 C1197.9,77.2 1198.6,86.4 1199.5,92.8 C1200.4,99.2 1201.4,104.9 1202.3,111.4 C1203.2,117.9 1204.3,125.0 1205.1,131.9 C1205.9,138.8 1206.4,145.5 1207.2,153.0 C1208.0,160.5 1208.6,169.8 1209.9,177.1 C1211.2,184.4 1212.9,191.2 1214.8,197.0 C1216.7,202.8 1218.8,208.0 1221.1,211.9 C1223.4,215.8 1225.4,218.3 1228.5,220.6 C1231.6,222.9 1235.8,224.1 1239.7,225.6 C1243.6,227.1 1248.7,228.6 1252.1,229.3 C1255.5,230.0 1257.0,228.7 1260.0,229.9 C1263.0,231.1 1267.1,234.0 1269.9,236.5 C1272.7,239.0 1274.1,242.1 1276.6,244.8 C1279.1,247.6 1282.0,250.2 1284.8,253.0 C1287.5,255.8 1290.1,258.7 1293.1,261.3 C1296.1,263.9 1299.7,266.7 1303.0,268.8 C1306.3,270.9 1310.0,273.6 1313.0,274.2 C1316.0,274.8 1318.5,273.9 1321.3,272.6 C1324.0,271.3 1326.8,269.0 1329.5,266.3 C1332.2,263.6 1335.0,260.5 1337.8,256.4 C1340.6,252.3 1343.6,246.2 1346.1,241.5 C1348.6,236.8 1350.6,231.0 1352.7,228.2 C1354.8,225.4 1356.5,223.4 1358.7,224.5 C1360.9,225.6 1363.5,231.3 1365.9,234.6 C1368.3,237.9 1370.4,242.2 1373.1,244.1 C1375.8,246.0 1379.4,244.6 1381.8,246.2 C1384.2,247.8 1385.9,249.3 1387.6,253.4 C1389.3,257.5 1390.5,263.5 1392.0,270.7 C1393.5,277.9 1394.9,288.1 1396.3,296.8 C1397.7,305.5 1399.1,316.3 1400.6,322.8 C1402.0,329.3 1403.3,333.0 1405.0,335.8 C1406.7,338.6 1408.2,338.6 1410.7,339.6 C1413.2,340.6 1414.0,340.8 1420.0,341.6 C1426.0,342.4 1436.1,343.4 1446.6,344.3 C1457.1,345.2 1468.1,345.9 1482.8,346.9 C1497.5,347.8 1525.4,349.4 1534.6,350.0 C1543.8,350.6 1537.6,350.4 1538.2,350.5" fill="none" stroke="#f80000" stroke-width="2.6" stroke-linejoin="round" stroke-linecap="round"/>
<path d="M1110.8,105.0 C1112.0,107.5 1115.6,119.3 1118.3,119.8 C1121.0,120.2 1124.3,107.9 1126.9,107.7 C1129.5,107.5 1131.8,112.6 1133.8,118.5 C1135.8,124.4 1137.2,134.9 1138.8,143.2 C1140.4,151.4 1142.0,160.7 1143.5,168.0 C1145.0,175.3 1146.8,182.7 1148.1,186.9 C1149.3,191.1 1150.0,191.4 1151.0,193.0 C1152.0,194.6 1153.0,195.8 1154.0,196.6 C1155.0,197.4 1156.0,197.9 1157.0,197.9 C1158.0,197.9 1159.0,197.3 1160.0,196.4 C1161.0,195.5 1161.9,194.3 1163.0,192.7 C1164.1,191.1 1165.5,189.2 1166.8,186.8 C1168.1,184.4 1169.5,182.0 1170.8,178.5 C1172.1,175.0 1172.8,171.9 1174.5,166.0 C1176.2,160.1 1178.9,152.2 1180.7,143.2 C1182.5,134.2 1184.0,121.8 1185.4,112.0 C1186.8,102.2 1187.9,92.8 1189.1,84.2 C1190.3,75.6 1191.2,62.1 1192.5,60.4 C1193.8,58.7 1195.5,68.8 1196.7,74.2 C1197.9,79.6 1198.6,86.6 1199.5,92.8 C1200.4,99.0 1201.4,104.9 1202.3,111.4 C1203.2,117.9 1204.3,125.0 1205.1,131.9 C1205.9,138.8 1206.4,145.5 1207.2,153.0 C1208.0,160.5 1208.6,169.8 1209.9,177.1 C1211.2,184.4 1212.9,191.2 1214.8,197.0 C1216.7,202.8 1218.8,208.0 1221.1,211.9 C1223.4,215.8 1225.4,218.3 1228.5,220.6 C1231.6,222.9 1235.8,224.1 1239.7,225.6 C1243.6,227.1 1248.7,228.7 1252.1,229.3 C1255.5,229.9 1257.0,227.6 1260.0,229.0 C1263.0,230.4 1267.2,234.9 1270.0,238.0 C1272.8,241.1 1274.1,244.0 1276.6,247.3 C1279.1,250.6 1282.0,254.7 1284.8,258.0 C1287.5,261.3 1290.1,264.2 1293.1,267.1 C1296.1,270.0 1299.7,273.0 1303.0,275.4 C1306.3,277.8 1310.0,280.4 1313.0,281.2 C1316.0,282.0 1318.5,281.6 1321.3,280.4 C1324.0,279.1 1326.8,276.3 1329.5,273.7 C1332.2,271.1 1335.0,268.1 1337.8,264.6 C1340.6,261.2 1343.7,256.4 1346.1,253.0 C1348.5,249.6 1350.2,246.1 1352.0,244.0 C1353.8,241.9 1355.1,239.8 1357.2,240.4 C1359.3,241.0 1362.1,244.7 1364.5,247.6 C1366.9,250.5 1369.3,255.7 1371.7,257.7 C1374.1,259.7 1376.7,258.8 1378.9,259.8 C1381.1,260.8 1382.8,260.2 1384.7,263.5 C1386.6,266.8 1388.6,272.4 1390.5,279.4 C1392.4,286.4 1394.4,296.8 1396.3,305.5 C1398.2,314.2 1400.2,325.8 1402.1,331.5 C1404.0,337.2 1404.9,337.8 1407.9,339.8 C1410.9,341.8 1413.5,342.4 1420.0,343.3 C1426.5,344.2 1436.1,344.6 1446.6,345.3 C1457.1,346.0 1467.5,346.6 1482.8,347.5 C1498.1,348.4 1529.0,350.0 1538.2,350.5" fill="none" stroke="#ff7f0a" stroke-width="2.6" stroke-linejoin="round" stroke-linecap="round"/>
<path d="M1107.8,243.7 C1109.6,245.2 1115.2,249.8 1118.6,252.8 C1122.0,255.8 1124.4,258.2 1128.0,261.5 C1131.6,264.8 1137.6,270.0 1140.4,272.3 C1143.2,274.6 1143.2,274.6 1144.8,275.3 C1146.3,276.0 1148.0,276.6 1149.7,276.6 C1151.4,276.6 1153.0,276.4 1154.8,275.5 C1156.6,274.6 1158.1,274.4 1160.6,271.1 C1163.1,267.8 1166.7,262.3 1169.8,255.5 C1172.9,248.7 1176.5,238.2 1179.1,230.5 C1181.7,222.8 1183.5,214.2 1185.4,209.0 C1187.3,203.8 1188.8,200.0 1190.6,199.5 C1192.3,199.0 1194.1,202.8 1195.9,206.0 C1197.7,209.2 1200.2,214.3 1201.5,218.5 C1202.8,222.7 1203.1,226.7 1204.0,231.0 C1204.9,235.3 1206.1,240.2 1207.1,244.5 C1208.1,248.8 1208.8,253.1 1210.0,257.0 C1211.2,260.9 1211.9,264.2 1214.3,268.0 C1216.7,271.8 1220.9,276.6 1224.5,279.5 C1228.1,282.4 1232.2,284.0 1236.1,285.3 C1240.0,286.6 1243.6,286.6 1247.7,287.5 C1251.8,288.4 1256.1,288.9 1260.7,290.5 C1265.3,292.1 1270.4,294.9 1275.2,297.0 C1280.0,299.1 1285.1,301.0 1289.7,302.8 C1294.3,304.6 1298.7,306.4 1302.8,308.0 C1306.9,309.6 1310.4,311.9 1314.3,312.3 C1318.2,312.7 1321.6,312.2 1325.9,310.5 C1330.2,308.8 1336.4,304.3 1340.4,302.0 C1344.4,299.7 1346.5,299.1 1350.0,296.8 C1353.5,294.5 1358.0,290.1 1361.6,288.1 C1365.2,286.1 1368.8,284.6 1371.7,284.6 C1374.6,284.6 1376.5,286.1 1378.9,288.1 C1381.3,290.1 1384.0,293.2 1386.2,296.8 C1388.4,300.4 1390.1,305.0 1392.0,309.8 C1393.9,314.6 1395.8,321.1 1397.7,325.7 C1399.6,330.3 1399.8,334.2 1403.5,337.3 C1407.2,340.4 1410.2,342.4 1420.0,344.5 C1429.8,346.6 1448.1,348.6 1462.0,349.8 C1475.9,351.0 1492.4,351.0 1503.5,351.5 C1514.6,352.0 1524.2,352.8 1528.4,353.0" fill="none" stroke="#14fa14" stroke-width="2.6" stroke-linejoin="round" stroke-linecap="round"/>
<path d="M1107.8,244.5 C1109.6,246.0 1115.2,250.6 1118.6,253.5 C1122.0,256.4 1124.4,258.8 1128.0,262.0 C1131.6,265.2 1137.6,270.5 1140.4,272.8 C1143.2,275.1 1143.2,275.1 1144.8,275.8 C1146.3,276.5 1148.0,277.1 1149.7,277.1 C1151.4,277.1 1153.0,276.9 1154.8,276.0 C1156.6,275.1 1158.1,274.9 1160.6,271.6 C1163.1,268.3 1166.7,262.8 1169.8,256.0 C1172.9,249.2 1176.5,238.8 1179.1,231.0 C1181.7,223.2 1183.4,214.7 1185.4,209.5 C1187.4,204.3 1189.4,200.4 1191.2,200.0 C1193.0,199.6 1194.7,203.8 1196.4,207.0 C1198.1,210.2 1200.2,214.9 1201.5,219.0 C1202.8,223.1 1203.1,227.2 1204.0,231.5 C1204.9,235.8 1206.1,240.7 1207.1,245.0 C1208.1,249.3 1208.8,253.6 1210.0,257.5 C1211.2,261.4 1211.9,264.8 1214.3,268.5 C1216.7,272.2 1220.9,277.1 1224.5,280.0 C1228.1,282.9 1232.2,284.5 1236.1,285.8 C1240.0,287.1 1243.6,287.1 1247.7,288.0 C1251.8,288.9 1256.1,289.4 1260.7,291.0 C1265.3,292.6 1270.4,295.4 1275.2,297.5 C1280.0,299.6 1285.1,301.5 1289.7,303.3 C1294.3,305.1 1298.7,306.9 1302.8,308.5 C1306.9,310.1 1310.4,312.5 1314.3,313.0 C1318.2,313.5 1321.6,312.8 1325.9,311.5 C1330.2,310.2 1336.4,306.7 1340.4,305.0 C1344.4,303.3 1346.7,302.4 1350.0,301.1 C1353.3,299.8 1356.4,298.7 1360.0,297.0 C1363.6,295.3 1368.5,291.5 1371.7,291.0 C1374.9,290.5 1376.2,291.7 1378.9,293.9 C1381.6,296.1 1384.7,298.7 1387.6,304.0 C1390.5,309.3 1393.6,319.9 1396.3,325.7 C1399.0,331.5 1401.1,335.7 1403.5,338.7 C1405.9,341.7 1408.0,342.4 1410.7,343.5 C1413.5,344.6 1411.5,344.4 1420.0,345.5 C1428.5,346.6 1448.1,349.0 1462.0,350.0 C1475.9,351.0 1492.4,351.1 1503.5,351.5 C1514.6,351.9 1524.2,352.3 1528.4,352.5" fill="none" stroke="#008e00" stroke-width="2.6" stroke-linejoin="round" stroke-linecap="round"/>
<path d="M1107.8,247.7 C1109.6,249.2 1115.2,253.7 1118.6,256.5 C1122.0,259.3 1124.4,261.4 1128.0,264.5 C1131.6,267.6 1137.6,272.8 1140.4,275.0 C1143.2,277.2 1143.2,277.3 1144.8,278.0 C1146.3,278.7 1148.0,279.3 1149.7,279.3 C1151.4,279.3 1153.0,279.1 1154.8,278.2 C1156.6,277.3 1157.8,277.2 1160.6,273.8 C1163.4,270.4 1168.1,264.7 1171.4,258.0 C1174.8,251.3 1178.1,241.2 1180.7,233.5 C1183.3,225.8 1184.8,217.0 1187.0,212.0 C1189.2,207.0 1191.8,203.8 1193.7,203.3 C1195.6,202.8 1197.2,206.1 1198.5,209.0 C1199.8,211.9 1200.6,217.0 1201.5,221.0 C1202.4,225.0 1203.1,228.7 1204.0,233.0 C1204.9,237.3 1206.1,242.5 1207.1,246.8 C1208.1,251.1 1208.8,255.1 1210.0,259.0 C1211.2,262.9 1211.9,266.3 1214.3,270.1 C1216.7,273.9 1220.9,278.8 1224.5,281.7 C1228.1,284.6 1232.2,286.2 1236.1,287.5 C1240.0,288.8 1243.6,288.8 1247.7,289.7 C1251.8,290.6 1256.1,291.0 1260.7,292.6 C1265.3,294.2 1270.4,297.1 1275.2,299.1 C1280.0,301.2 1285.1,303.1 1289.7,304.9 C1294.3,306.7 1298.7,308.4 1302.8,310.0 C1306.9,311.6 1310.4,314.2 1314.3,314.8 C1318.2,315.4 1321.6,314.8 1325.9,313.9 C1330.2,313.0 1336.4,310.7 1340.4,309.3 C1344.4,307.9 1346.7,306.8 1350.0,305.5 C1353.3,304.2 1356.2,302.8 1360.0,301.3 C1363.8,299.9 1369.5,297.0 1373.1,296.8 C1376.7,296.6 1379.1,298.1 1381.8,300.3 C1384.5,302.5 1386.6,305.1 1389.0,309.8 C1391.4,314.5 1394.1,323.5 1396.3,328.6 C1398.5,333.7 1399.7,337.6 1402.1,340.2 C1404.5,342.8 1407.7,343.4 1410.7,344.5 C1413.7,345.6 1411.5,345.5 1420.0,346.5 C1428.5,347.5 1448.1,349.7 1462.0,350.5 C1475.9,351.3 1491.7,351.1 1503.5,351.4 C1515.3,351.6 1528.1,351.9 1533.0,352.0" fill="none" stroke="#0000f2" stroke-width="2.6" stroke-linejoin="round" stroke-linecap="round"/>
<path d="M1139.3,368.4 C1140.7,368.9 1144.0,371.7 1147.6,371.5 C1151.2,371.3 1157.1,369.2 1161.1,367.3 C1165.1,365.4 1168.3,363.0 1171.4,360.1 C1174.5,357.2 1177.1,353.9 1179.7,349.7 C1182.3,345.5 1184.6,339.4 1187.0,335.2 C1189.4,331.0 1192.0,324.8 1194.2,324.4 C1196.4,324.0 1198.3,329.2 1200.4,333.1 C1202.5,337.0 1204.6,343.1 1206.7,347.6 C1208.8,352.1 1210.5,357.0 1212.9,360.1 C1215.3,363.2 1218.1,364.6 1221.2,366.3 C1224.3,368.0 1227.4,369.4 1231.5,370.4 C1235.6,371.4 1241.5,371.7 1246.0,372.5 C1250.5,373.3 1254.4,374.0 1258.4,375.0 C1262.4,376.0 1264.5,377.5 1270.0,378.5 C1275.5,379.5 1285.4,380.7 1291.7,380.8 C1298.0,380.9 1303.5,379.9 1307.6,379.0 C1311.7,378.1 1312.9,377.4 1316.3,375.6 C1319.7,373.8 1324.0,371.0 1327.9,368.3 C1331.8,365.6 1336.1,362.4 1339.5,359.6 C1342.9,356.9 1344.8,354.2 1348.2,351.8 C1351.6,349.4 1356.4,348.5 1359.8,345.2 C1363.2,341.9 1366.2,337.2 1368.5,332.1 C1370.8,327.0 1372.5,319.1 1373.7,314.8 C1374.9,310.6 1374.9,306.1 1375.7,306.6 C1376.5,307.1 1377.1,313.1 1378.6,317.6 C1380.0,322.1 1382.2,327.8 1384.4,333.6 C1386.6,339.4 1389.4,345.9 1391.6,352.4 C1393.8,358.9 1396.0,365.5 1397.4,372.7 C1398.9,379.9 1399.1,390.5 1400.3,395.8 C1401.5,401.1 1402.3,402.6 1404.7,404.5 C1407.1,406.4 1409.5,406.5 1414.7,407.3 C1419.9,408.1 1428.9,408.8 1436.0,409.4 C1443.1,410.0 1451.1,410.4 1457.3,410.9 C1463.5,411.4 1470.6,412.1 1473.3,412.4" fill="none" stroke="#000" stroke-width="2.6" stroke-linejoin="round" stroke-linecap="round"/>
<line x1="1107.2" y1="419.5" x2="1107.2" y2="414.0" stroke="#000" stroke-width="1.4"/>
<line x1="1107.2" y1="2.5" x2="1107.2" y2="8.0" stroke="#000" stroke-width="1.4"/>
<line x1="1125.6" y1="419.5" x2="1125.6" y2="416.0" stroke="#000" stroke-width="1.4"/>
<line x1="1125.6" y1="2.5" x2="1125.6" y2="6.0" stroke="#000" stroke-width="1.4"/>
<line x1="1144.0" y1="419.5" x2="1144.0" y2="416.0" stroke="#000" stroke-width="1.4"/>
<line x1="1144.0" y1="2.5" x2="1144.0" y2="6.0" stroke="#000" stroke-width="1.4"/>
<line x1="1162.4" y1="419.5" x2="1162.4" y2="416.0" stroke="#000" stroke-width="1.4"/>
<line x1="1162.4" y1="2.5" x2="1162.4" y2="6.0" stroke="#000" stroke-width="1.4"/>
<line x1="1180.8" y1="419.5" x2="1180.8" y2="414.0" stroke="#000" stroke-width="1.4"/>
<line x1="1180.8" y1="2.5" x2="1180.8" y2="8.0" stroke="#000" stroke-width="1.4"/>
<line x1="1199.2" y1="419.5" x2="1199.2" y2="416.0" stroke="#000" stroke-width="1.4"/>
<line x1="1199.2" y1="2.5" x2="1199.2" y2="6.0" stroke="#000" stroke-width="1.4"/>
<line x1="1217.6" y1="419.5" x2="1217.6" y2="416.0" stroke="#000" stroke-width="1.4"/>
<line x1="1217.6" y1="2.5" x2="1217.6" y2="6.0" stroke="#000" stroke-width="1.4"/>
<line x1="1236.0" y1="419.5" x2="1236.0" y2="416.0" stroke="#000" stroke-width="1.4"/>
<line x1="1236.0" y1="2.5" x2="1236.0" y2="6.0" stroke="#000" stroke-width="1.4"/>
<line x1="1254.4" y1="419.5" x2="1254.4" y2="414.0" stroke="#000" stroke-width="1.4"/>
<line x1="1254.4" y1="2.5" x2="1254.4" y2="8.0" stroke="#000" stroke-width="1.4"/>
<line x1="1272.8" y1="419.5" x2="1272.8" y2="416.0" stroke="#000" stroke-width="1.4"/>
<line x1="1272.8" y1="2.5" x2="1272.8" y2="6.0" stroke="#000" stroke-width="1.4"/>
<line x1="1291.2" y1="419.5" x2="1291.2" y2="416.0" stroke="#000" stroke-width="1.4"/>
<line x1="1291.2" y1="2.5" x2="1291.2" y2="6.0" stroke="#000" stroke-width="1.4"/>
<line x1="1309.6" y1="419.5" x2="1309.6" y2="416.0" stroke="#000" stroke-width="1.4"/>
<line x1="1309.6" y1="2.5" x2="1309.6" y2="6.0" stroke="#000" stroke-width="1.4"/>
<line x1="1328.0" y1="419.5" x2="1328.0" y2="414.0" stroke="#000" stroke-width="1.4"/>
<line x1="1328.0" y1="2.5" x2="1328.0" y2="8.0" stroke="#000" stroke-width="1.4"/>
<line x1="1346.4" y1="419.5" x2="1346.4" y2="416.0" stroke="#000" stroke-width="1.4"/>
<line x1="1346.4" y1="2.5" x2="1346.4" y2="6.0" stroke="#000" stroke-width="1.4"/>
<line x1="1364.8" y1="419.5" x2="1364.8" y2="416.0" stroke="#000" stroke-width="1.4"/>
<line x1="1364.8" y1="2.5" x2="1364.8" y2="6.0" stroke="#000" stroke-width="1.4"/>
<line x1="1383.2" y1="419.5" x2="1383.2" y2="416.0" stroke="#000" stroke-width="1.4"/>
<line x1="1383.2" y1="2.5" x2="1383.2" y2="6.0" stroke="#000" stroke-width="1.4"/>
<line x1="1401.6" y1="419.5" x2="1401.6" y2="414.0" stroke="#000" stroke-width="1.4"/>
<line x1="1401.6" y1="2.5" x2="1401.6" y2="8.0" stroke="#000" stroke-width="1.4"/>
<line x1="1420.0" y1="419.5" x2="1420.0" y2="416.0" stroke="#000" stroke-width="1.4"/>
<line x1="1420.0" y1="2.5" x2="1420.0" y2="6.0" stroke="#000" stroke-width="1.4"/>
<line x1="1438.4" y1="419.5" x2="1438.4" y2="416.0" stroke="#000" stroke-width="1.4"/>
<line x1="1438.4" y1="2.5" x2="1438.4" y2="6.0" stroke="#000" stroke-width="1.4"/>
<line x1="1456.8" y1="419.5" x2="1456.8" y2="416.0" stroke="#000" stroke-width="1.4"/>
<line x1="1456.8" y1="2.5" x2="1456.8" y2="6.0" stroke="#000" stroke-width="1.4"/>
<line x1="1475.2" y1="419.5" x2="1475.2" y2="414.0" stroke="#000" stroke-width="1.4"/>
<line x1="1475.2" y1="2.5" x2="1475.2" y2="8.0" stroke="#000" stroke-width="1.4"/>
<line x1="1493.6" y1="419.5" x2="1493.6" y2="416.0" stroke="#000" stroke-width="1.4"/>
<line x1="1493.6" y1="2.5" x2="1493.6" y2="6.0" stroke="#000" stroke-width="1.4"/>
<line x1="1512.0" y1="419.5" x2="1512.0" y2="416.0" stroke="#000" stroke-width="1.4"/>
<line x1="1512.0" y1="2.5" x2="1512.0" y2="6.0" stroke="#000" stroke-width="1.4"/>
<line x1="1530.4" y1="419.5" x2="1530.4" y2="416.0" stroke="#000" stroke-width="1.4"/>
<line x1="1530.4" y1="2.5" x2="1530.4" y2="6.0" stroke="#000" stroke-width="1.4"/>
<line x1="1548.8" y1="419.5" x2="1548.8" y2="414.0" stroke="#000" stroke-width="1.4"/>
<line x1="1548.8" y1="2.5" x2="1548.8" y2="8.0" stroke="#000" stroke-width="1.4"/>
<line x1="1567.2" y1="419.5" x2="1567.2" y2="416.0" stroke="#000" stroke-width="1.4"/>
<line x1="1567.2" y1="2.5" x2="1567.2" y2="6.0" stroke="#000" stroke-width="1.4"/>
<rect x="1100.5" y="2.5" width="485.0" height="417.0" fill="none" stroke="#000" stroke-width="1.8"/>
<text x="1107.6" y="442.8" font-size="20.5" text-anchor="middle" letter-spacing="0.8">−8</text>
<text x="1181.2" y="442.8" font-size="20.5" text-anchor="middle" letter-spacing="0.8">−6</text>
<text x="1254.8" y="442.8" font-size="20.5" text-anchor="middle" letter-spacing="0.8">−4</text>
<text x="1328.4" y="442.8" font-size="20.5" text-anchor="middle" letter-spacing="0.8">−2</text>
<text x="1402.0" y="442.8" font-size="20.5" text-anchor="middle" letter-spacing="0.8">0</text>
<text x="1475.6" y="442.8" font-size="20.5" text-anchor="middle" letter-spacing="0.8">2</text>
<text x="1549.2" y="442.8" font-size="20.5" text-anchor="middle" letter-spacing="0.8">4</text>
<text x="1342.7" y="474.8" font-size="20" text-anchor="middle"><tspan font-style="italic">E</tspan> − <tspan font-style="italic">E</tspan><tspan font-style="italic" font-size="14" dy="4">F</tspan><tspan dy="-4"> [eV]</tspan></text>
<text x="1109" y="38.7" font-size="30" font-weight="bold">(b)</text>
<rect x="1199.1" y="17.2" width="164.3" height="37.5" fill="#dcdcdc" stroke="#4c4c4c" stroke-width="2.6"/>
<text x="1206.5" y="43.8" font-size="19.5">Sm<tspan font-size="14.5" dy="-9">3+</tspan><tspan dy="9" dx="1"> : </tspan><tspan font-style="italic">4f</tspan><tspan font-size="15" dy="-9" dx="2.5">5</tspan><tspan dy="9" dx="5.5" font-family="DejaVu Sans" font-size="20">→</tspan><tspan dx="7" font-style="italic">4f</tspan><tspan font-size="15" dy="-9" dx="2.5">4</tspan></text>
<rect x="1255.2" y="130.5" width="163.8" height="37.9" fill="#e1fae1" stroke="#16a816" stroke-width="2.8"/>
<text x="1261.7" y="157.3" font-size="19.5">Sm<tspan font-size="14.5" dy="-9">2+</tspan><tspan dy="9" dx="1"> : </tspan><tspan font-style="italic">4f</tspan><tspan font-size="15" dy="-9" dx="2.5">6</tspan><tspan dy="9" dx="5.5" font-family="DejaVu Sans" font-size="20">→</tspan><tspan dx="7" font-style="italic">4f</tspan><tspan font-size="15" dy="-9" dx="2.5">5</tspan></text>
<text x="1567.4" y="33.9" font-size="19" text-anchor="end"><tspan font-style="italic">M</tspan><tspan font-size="14" dy="4.5">5</tspan><tspan dy="-4.5" dx="2.5"> (h</tspan><tspan font-style="italic" dx="2">ν</tspan>=1080.7)</text>
<line x1="1462" y1="55.6" x2="1489" y2="55.6" stroke="#7f7f7f" stroke-width="2.6"/>
<text x="1495.7" y="61.6" font-size="19">T=10</text>
<line x1="1462" y1="79.5" x2="1489" y2="79.5" stroke="#f80000" stroke-width="2.6"/>
<text x="1495.7" y="85.5" font-size="19">T=30</text>
<line x1="1462" y1="103.4" x2="1489" y2="103.4" stroke="#ff7f0a" stroke-width="2.6"/>
<text x="1495.7" y="109.4" font-size="19">T=60</text>
<text x="1567.8" y="148.4" font-size="19" text-anchor="end"><tspan font-style="italic">M</tspan><tspan font-size="14" dy="4.5">4</tspan><tspan dy="-4.5" dx="2.5"> (h</tspan><tspan font-style="italic" dx="2">ν</tspan>=1106)</text>
<line x1="1470.8" y1="168.4" x2="1497.6" y2="168.4" stroke="#14fa14" stroke-width="2.6"/>
<text x="1504.5" y="174.4" font-size="19">T=10</text>
<line x1="1470.8" y1="192.8" x2="1497.6" y2="192.8" stroke="#008e00" stroke-width="2.6"/>
<text x="1504.5" y="198.8" font-size="19">T=30</text>
<line x1="1470.8" y1="217.2" x2="1497.6" y2="217.2" stroke="#0000f2" stroke-width="2.6"/>
<text x="1504.5" y="223.2" font-size="19">T=60</text>
<line x1="1432.3" y1="250.6" x2="1457.6" y2="250.6" stroke="#000" stroke-width="2.6"/>
<text x="1465.5" y="256.6" font-size="18.2">Nonresonant</text>
<line x1="1702.4" y1="4.5" x2="1702.4" y2="419.2" stroke="#d4d4d4" stroke-width="1.5"/>
<line x1="1751.5" y1="4.5" x2="1751.5" y2="419.2" stroke="#d4d4d4" stroke-width="1.5"/>
<line x1="1800.6" y1="4.5" x2="1800.6" y2="419.2" stroke="#d4d4d4" stroke-width="1.5"/>
<line x1="1849.6" y1="4.5" x2="1849.6" y2="419.2" stroke="#d4d4d4" stroke-width="1.5"/>
<line x1="1898.7" y1="4.5" x2="1898.7" y2="419.2" stroke="#d4d4d4" stroke-width="1.5"/>
<line x1="1947.8" y1="4.5" x2="1947.8" y2="419.2" stroke="#d4d4d4" stroke-width="1.5"/>
<line x1="1677.9" y1="419.2" x2="1677.9" y2="413.4" stroke="#000" stroke-width="1.4"/>
<line x1="1702.4" y1="419.2" x2="1702.4" y2="413.4" stroke="#000" stroke-width="1.4"/>
<line x1="1727.0" y1="419.2" x2="1727.0" y2="413.4" stroke="#000" stroke-width="1.4"/>
<line x1="1751.5" y1="419.2" x2="1751.5" y2="413.4" stroke="#000" stroke-width="1.4"/>
<line x1="1776.0" y1="419.2" x2="1776.0" y2="413.4" stroke="#000" stroke-width="1.4"/>
<line x1="1800.6" y1="419.2" x2="1800.6" y2="413.4" stroke="#000" stroke-width="1.4"/>
<line x1="1825.1" y1="419.2" x2="1825.1" y2="413.4" stroke="#000" stroke-width="1.4"/>
<line x1="1849.6" y1="419.2" x2="1849.6" y2="413.4" stroke="#000" stroke-width="1.4"/>
<line x1="1874.2" y1="419.2" x2="1874.2" y2="413.4" stroke="#000" stroke-width="1.4"/>
<line x1="1898.7" y1="419.2" x2="1898.7" y2="413.4" stroke="#000" stroke-width="1.4"/>
<line x1="1923.3" y1="419.2" x2="1923.3" y2="413.4" stroke="#000" stroke-width="1.4"/>
<line x1="1947.8" y1="419.2" x2="1947.8" y2="413.4" stroke="#000" stroke-width="1.4"/>
<line x1="1972.3" y1="419.2" x2="1972.3" y2="413.4" stroke="#000" stroke-width="1.4"/>
<rect x="1653.2" y="4.5" width="344.4" height="414.7" fill="none" stroke="#000" stroke-width="1.8"/>
<line x1="1742" y1="112" x2="1742" y2="420" stroke="#b4b4b4" stroke-width="3.8"/>
<line x1="1875.3" y1="62" x2="1875.3" y2="420" stroke="#b4b4b4" stroke-width="3.8"/>
<line x1="1781.5" y1="214" x2="1781.5" y2="420" stroke="#2aa82a" stroke-opacity="0.6" stroke-width="4.2"/>
<line x1="1914.8" y1="274" x2="1914.8" y2="420" stroke="#2aa82a" stroke-opacity="0.6" stroke-width="4.2"/>
<rect x="1681.4" y="278.0" width="57.6" height="40.6" fill="#dcdcdc" stroke="#4c4c4c" stroke-width="2.6"/>
<text x="1710.2" y="306.2" font-size="16.3" text-anchor="middle">Sm<tspan font-size="13.5" dy="-8.3">3+</tspan></text>
<rect x="1815.2" y="278.5" width="57.6" height="40.6" fill="#dcdcdc" stroke="#4c4c4c" stroke-width="2.6"/>
<text x="1844.0" y="306.7" font-size="16.3" text-anchor="middle">Sm<tspan font-size="13.5" dy="-8.3">3+</tspan></text>
<rect x="1781.3" y="358.3" width="59.2" height="40.3" fill="#e1fce1" stroke="#16a816" stroke-width="2.6"/>
<text x="1810.9" y="386.2" font-size="16.3" text-anchor="middle">Sm<tspan font-size="13.5" dy="-8.3">2+</tspan></text>
<rect x="1915.2" y="358.3" width="59.2" height="40.3" fill="#e1fce1" stroke="#16a816" stroke-width="2.6"/>
<text x="1944.8" y="386.2" font-size="16.3" text-anchor="middle">Sm<tspan font-size="13.5" dy="-8.3">2+</tspan></text>
<polyline points="1653.5,234.5 1655.9,233.6 1658.4,232.5 1660.8,229.8 1663.3,227.1 1665.7,224.8 1668.2,223.8 1670.6,223.6 1673.1,223.8 1675.5,225.0 1678.0,224.9 1680.5,223.8 1682.9,222.5 1685.4,221.5 1687.8,222.2 1690.3,222.8 1692.7,223.1 1695.2,222.9 1697.6,220.1 1700.1,217.7 1702.5,215.3 1705.0,214.5 1707.4,214.2 1709.9,212.5 1712.4,209.1 1714.8,206.2 1717.3,198.0 1719.7,188.0 1722.2,178.2 1724.6,168.8 1727.1,165.7 1729.5,168.4 1732.0,171.2 1734.4,156.6 1736.9,140.1 1739.3,121.8 1741.8,109.3 1744.3,118.9 1746.7,148.9 1749.2,185.4 1751.6,212.5 1754.1,222.0 1756.5,225.7 1759.0,228.6 1761.4,229.3 1763.9,227.7 1766.3,226.2 1768.8,224.8 1771.2,226.8 1773.7,225.6 1776.2,220.3 1778.6,215.7 1781.1,211.1 1783.5,212.7 1786.0,214.8 1788.4,223.1 1790.9,225.5 1793.3,226.4 1795.8,225.9 1798.2,225.0 1800.7,224.1 1803.1,225.3 1805.6,227.5 1808.1,228.8 1810.5,229.8 1813.0,231.9 1815.4,235.0 1817.9,236.8 1820.3,238.5 1822.8,240.3 1825.2,242.3 1827.7,244.2 1830.1,243.8 1832.6,243.7 1835.1,244.5 1837.5,245.4 1840.0,246.5 1842.4,247.6 1844.9,251.4 1847.3,254.7 1849.8,256.2 1852.2,253.0 1854.7,247.9 1857.1,237.6 1859.6,221.7 1862.0,183.8 1864.5,140.7 1867.0,102.3 1869.4,89.4 1871.9,70.6 1874.3,58.6 1876.8,71.1 1879.2,99.8 1881.7,154.8 1884.1,222.1 1886.6,263.5 1889.0,278.2 1891.5,287.6 1893.9,293.9 1896.4,296.1 1898.9,297.0 1901.3,295.6 1903.8,292.3 1906.2,289.5 1908.7,287.3 1911.1,285.5 1913.6,274.7 1916.0,271.5 1918.5,275.3 1920.9,296.3 1923.4,311.7 1925.8,318.5 1928.3,319.5 1930.8,319.1 1933.2,319.3 1935.7,319.7 1938.1,320.7 1940.6,322.2 1943.0,320.6 1945.5,317.1 1947.9,318.3 1950.4,318.4 1952.8,315.3 1955.3,314.5 1957.8,315.3 1960.2,316.1 1962.7,315.5 1965.1,313.7 1967.6,312.3 1970.0,311.3 1972.5,311.7 1974.9,313.9 1977.4,315.4 1979.8,316.8 1982.3,315.6 1984.7,313.9 1987.2,314.2 1989.7,315.6 1992.1,316.9 1994.6,319.0" fill="none" stroke="#000" stroke-width="2.7" stroke-linejoin="round"/>
<g fill="#000"><circle cx="1653.5" cy="234.5" r="3.9"/><circle cx="1655.9" cy="233.6" r="3.9"/><circle cx="1658.4" cy="232.5" r="3.9"/><circle cx="1660.8" cy="229.8" r="3.9"/><circle cx="1663.3" cy="227.1" r="3.9"/><circle cx="1665.7" cy="224.8" r="3.9"/><circle cx="1668.2" cy="223.8" r="3.9"/><circle cx="1670.6" cy="223.6" r="3.9"/><circle cx="1673.1" cy="223.8" r="3.9"/><circle cx="1675.5" cy="225.0" r="3.9"/><circle cx="1678.0" cy="224.9" r="3.9"/><circle cx="1680.5" cy="223.8" r="3.9"/><circle cx="1682.9" cy="222.5" r="3.9"/><circle cx="1685.4" cy="221.5" r="3.9"/><circle cx="1687.8" cy="222.2" r="3.9"/><circle cx="1690.3" cy="222.8" r="3.9"/><circle cx="1692.7" cy="223.1" r="3.9"/><circle cx="1695.2" cy="222.9" r="3.9"/><circle cx="1697.6" cy="220.1" r="3.9"/><circle cx="1700.1" cy="217.7" r="3.9"/><circle cx="1702.5" cy="215.3" r="3.9"/><circle cx="1705.0" cy="214.5" r="3.9"/><circle cx="1707.4" cy="214.2" r="3.9"/><circle cx="1709.9" cy="212.5" r="3.9"/><circle cx="1712.4" cy="209.1" r="3.9"/><circle cx="1714.8" cy="206.2" r="3.9"/><circle cx="1717.3" cy="198.0" r="3.9"/><circle cx="1719.7" cy="188.0" r="3.9"/><circle cx="1722.2" cy="178.2" r="3.9"/><circle cx="1724.6" cy="168.8" r="3.9"/><circle cx="1727.1" cy="165.7" r="3.9"/><circle cx="1729.5" cy="168.4" r="3.9"/><circle cx="1732.0" cy="171.2" r="3.9"/><circle cx="1734.4" cy="156.6" r="3.9"/><circle cx="1736.9" cy="140.1" r="3.9"/><circle cx="1739.3" cy="121.8" r="3.9"/><circle cx="1741.8" cy="109.3" r="3.9"/><circle cx="1744.3" cy="118.9" r="3.9"/><circle cx="1746.7" cy="148.9" r="3.9"/><circle cx="1749.2" cy="185.4" r="3.9"/><circle cx="1751.6" cy="212.5" r="3.9"/><circle cx="1754.1" cy="222.0" r="3.9"/><circle cx="1756.5" cy="225.7" r="3.9"/><circle cx="1759.0" cy="228.6" r="3.9"/><circle cx="1761.4" cy="229.3" r="3.9"/><circle cx="1763.9" cy="227.7" r="3.9"/><circle cx="1766.3" cy="226.2" r="3.9"/><circle cx="1768.8" cy="224.8" r="3.9"/><circle cx="1771.2" cy="226.8" r="3.9"/><circle cx="1773.7" cy="225.6" r="3.9"/><circle cx="1776.2" cy="220.3" r="3.9"/><circle cx="1778.6" cy="215.7" r="3.9"/><circle cx="1781.1" cy="211.1" r="3.9"/><circle cx="1783.5" cy="212.7" r="3.9"/><circle cx="1786.0" cy="214.8" r="3.9"/><circle cx="1788.4" cy="223.1" r="3.9"/><circle cx="1790.9" cy="225.5" r="3.9"/><circle cx="1793.3" cy="226.4" r="3.9"/><circle cx="1795.8" cy="225.9" r="3.9"/><circle cx="1798.2" cy="225.0" r="3.9"/><circle cx="1800.7" cy="224.1" r="3.9"/><circle cx="1803.1" cy="225.3" r="3.9"/><circle cx="1805.6" cy="227.5" r="3.9"/><circle cx="1808.1" cy="228.8" r="3.9"/><circle cx="1810.5" cy="229.8" r="3.9"/><circle cx="1813.0" cy="231.9" r="3.9"/><circle cx="1815.4" cy="235.0" r="3.9"/><circle cx="1817.9" cy="236.8" r="3.9"/><circle cx="1820.3" cy="238.5" r="3.9"/><circle cx="1822.8" cy="240.3" r="3.9"/><circle cx="1825.2" cy="242.3" r="3.9"/><circle cx="1827.7" cy="244.2" r="3.9"/><circle cx="1830.1" cy="243.8" r="3.9"/><circle cx="1832.6" cy="243.7" r="3.9"/><circle cx="1835.1" cy="244.5" r="3.9"/><circle cx="1837.5" cy="245.4" r="3.9"/><circle cx="1840.0" cy="246.5" r="3.9"/><circle cx="1842.4" cy="247.6" r="3.9"/><circle cx="1844.9" cy="251.4" r="3.9"/><circle cx="1847.3" cy="254.7" r="3.9"/><circle cx="1849.8" cy="256.2" r="3.9"/><circle cx="1852.2" cy="253.0" r="3.9"/><circle cx="1854.7" cy="247.9" r="3.9"/><circle cx="1857.1" cy="237.6" r="3.9"/><circle cx="1859.6" cy="221.7" r="3.9"/><circle cx="1862.0" cy="183.8" r="3.9"/><circle cx="1864.5" cy="140.7" r="3.9"/><circle cx="1867.0" cy="102.3" r="3.9"/><circle cx="1869.4" cy="89.4" r="3.9"/><circle cx="1871.9" cy="70.6" r="3.9"/><circle cx="1874.3" cy="58.6" r="3.9"/><circle cx="1876.8" cy="71.1" r="3.9"/><circle cx="1879.2" cy="99.8" r="3.9"/><circle cx="1881.7" cy="154.8" r="3.9"/><circle cx="1884.1" cy="222.1" r="3.9"/><circle cx="1886.6" cy="263.5" r="3.9"/><circle cx="1889.0" cy="278.2" r="3.9"/><circle cx="1891.5" cy="287.6" r="3.9"/><circle cx="1893.9" cy="293.9" r="3.9"/><circle cx="1896.4" cy="296.1" r="3.9"/><circle cx="1898.9" cy="297.0" r="3.9"/><circle cx="1901.3" cy="295.6" r="3.9"/><circle cx="1903.8" cy="292.3" r="3.9"/><circle cx="1906.2" cy="289.5" r="3.9"/><circle cx="1908.7" cy="287.3" r="3.9"/><circle cx="1911.1" cy="285.5" r="3.9"/><circle cx="1913.6" cy="274.7" r="3.9"/><circle cx="1916.0" cy="271.5" r="3.9"/><circle cx="1918.5" cy="275.3" r="3.9"/><circle cx="1920.9" cy="296.3" r="3.9"/><circle cx="1923.4" cy="311.7" r="3.9"/><circle cx="1925.8" cy="318.5" r="3.9"/><circle cx="1928.3" cy="319.5" r="3.9"/><circle cx="1930.8" cy="319.1" r="3.9"/><circle cx="1933.2" cy="319.3" r="3.9"/><circle cx="1935.7" cy="319.7" r="3.9"/><circle cx="1938.1" cy="320.7" r="3.9"/><circle cx="1940.6" cy="322.2" r="3.9"/><circle cx="1943.0" cy="320.6" r="3.9"/><circle cx="1945.5" cy="317.1" r="3.9"/><circle cx="1947.9" cy="318.3" r="3.9"/><circle cx="1950.4" cy="318.4" r="3.9"/><circle cx="1952.8" cy="315.3" r="3.9"/><circle cx="1955.3" cy="314.5" r="3.9"/><circle cx="1957.8" cy="315.3" r="3.9"/><circle cx="1960.2" cy="316.1" r="3.9"/><circle cx="1962.7" cy="315.5" r="3.9"/><circle cx="1965.1" cy="313.7" r="3.9"/><circle cx="1967.6" cy="312.3" r="3.9"/><circle cx="1970.0" cy="311.3" r="3.9"/><circle cx="1972.5" cy="311.7" r="3.9"/><circle cx="1974.9" cy="313.9" r="3.9"/><circle cx="1977.4" cy="315.4" r="3.9"/><circle cx="1979.8" cy="316.8" r="3.9"/><circle cx="1982.3" cy="315.6" r="3.9"/><circle cx="1984.7" cy="313.9" r="3.9"/><circle cx="1987.2" cy="314.2" r="3.9"/><circle cx="1989.7" cy="315.6" r="3.9"/><circle cx="1992.1" cy="316.9" r="3.9"/><circle cx="1994.6" cy="319.0" r="3.9"/></g>
<rect x="1703" y="20.8" width="290" height="20.6" fill="#fff"/>
<text x="1659" y="39.6" font-size="28" font-weight="bold" letter-spacing="1.2">(c)</text>
<text x="1703.3" y="39.8" font-size="24">XPS h<tspan font-style="italic" dx="1.5">ν</tspan>=1400 eV</text>
<text x="1910.3" y="39.8" font-size="24">T=12 K</text>
<text x="1652.5" y="442.7" font-size="22" text-anchor="middle">−1130</text>
<text x="1750.7" y="442.7" font-size="22" text-anchor="middle">−1110</text>
<text x="1848.8" y="442.7" font-size="22" text-anchor="middle">−1090</text>
<text x="1947.0" y="442.7" font-size="22" text-anchor="middle">−1070</text>
<text x="1825" y="476" font-size="22" text-anchor="middle"><tspan font-style="italic">E</tspan><tspan font-style="italic" font-size="15.5" dy="4.5">B</tspan><tspan dy="-4.5"> [eV]</tspan></text>
<text transform="translate(1638.6,211.5) rotate(-90)" font-size="21.3" text-anchor="middle">Photocurrent [arb.u.]</text>
</svg></body></html>
